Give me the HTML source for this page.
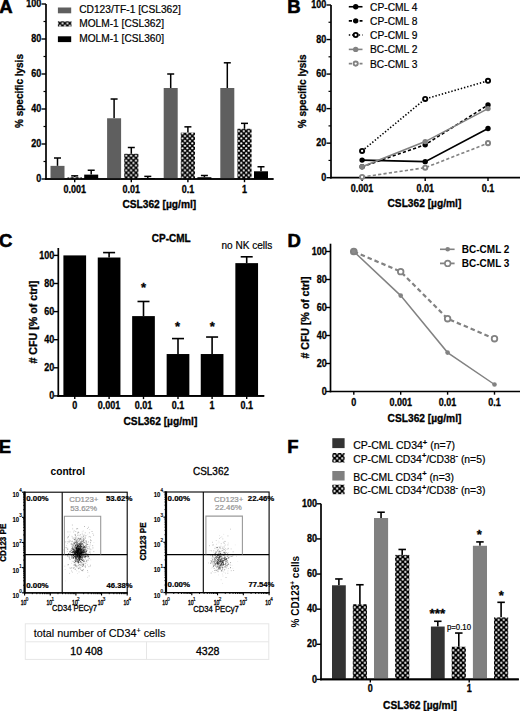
<!DOCTYPE html>
<html><head><meta charset="utf-8"><style>
html,body{margin:0;padding:0;background:#fff;}
svg{display:block;font-family:"Liberation Sans", sans-serif;}
</style></head><body>
<svg width="520" height="711" viewBox="0 0 520 711">
<rect width="520" height="711" fill="#fff"/>
<defs>
<pattern id="chk" patternUnits="userSpaceOnUse" width="4.9" height="4.9" x="0" y="0"><rect width="4.9" height="4.9" fill="#000"/><rect x="0.15" y="0.15" width="2.15" height="2.15" rx="0.9" fill="#fff"/><rect x="2.6" y="2.6" width="2.15" height="2.15" rx="0.9" fill="#fff"/></pattern>
<pattern id="chkF" patternUnits="userSpaceOnUse" width="5.05" height="5.05" x="0" y="0"><rect width="5.05" height="5.05" fill="#000"/><rect x="0.3" y="0.3" width="1.95" height="1.95" rx="0.6" fill="#fff"/><rect x="2.83" y="2.83" width="1.95" height="1.95" rx="0.6" fill="#fff"/></pattern>
</defs>
<text x="-0.70" y="12.80" font-size="18.5" font-weight="bold" stroke="#000" stroke-width="0.6">A</text>
<line x1="46.00" y1="4.00" x2="46.00" y2="179.80" stroke="#000" stroke-width="1.7"/>
<line x1="41.50" y1="179.00" x2="46.00" y2="179.00" stroke="#000" stroke-width="1.4"/>
<text transform="translate(41.30,182.20) scale(0.9,1)" font-size="10.0" font-weight="bold" text-anchor="end" stroke="#000" stroke-width="0.3">0</text>
<line x1="43.50" y1="161.50" x2="46.00" y2="161.50" stroke="#000" stroke-width="1.2"/>
<line x1="41.50" y1="144.00" x2="46.00" y2="144.00" stroke="#000" stroke-width="1.4"/>
<text transform="translate(41.30,147.20) scale(0.9,1)" font-size="10.0" font-weight="bold" text-anchor="end" stroke="#000" stroke-width="0.3">20</text>
<line x1="43.50" y1="126.50" x2="46.00" y2="126.50" stroke="#000" stroke-width="1.2"/>
<line x1="41.50" y1="109.00" x2="46.00" y2="109.00" stroke="#000" stroke-width="1.4"/>
<text transform="translate(41.30,112.20) scale(0.9,1)" font-size="10.0" font-weight="bold" text-anchor="end" stroke="#000" stroke-width="0.3">40</text>
<line x1="43.50" y1="91.50" x2="46.00" y2="91.50" stroke="#000" stroke-width="1.2"/>
<line x1="41.50" y1="74.00" x2="46.00" y2="74.00" stroke="#000" stroke-width="1.4"/>
<text transform="translate(41.30,77.20) scale(0.9,1)" font-size="10.0" font-weight="bold" text-anchor="end" stroke="#000" stroke-width="0.3">60</text>
<line x1="43.50" y1="56.50" x2="46.00" y2="56.50" stroke="#000" stroke-width="1.2"/>
<line x1="41.50" y1="39.00" x2="46.00" y2="39.00" stroke="#000" stroke-width="1.4"/>
<text transform="translate(41.30,42.20) scale(0.9,1)" font-size="10.0" font-weight="bold" text-anchor="end" stroke="#000" stroke-width="0.3">80</text>
<line x1="43.50" y1="21.50" x2="46.00" y2="21.50" stroke="#000" stroke-width="1.2"/>
<line x1="41.50" y1="4.00" x2="46.00" y2="4.00" stroke="#000" stroke-width="1.4"/>
<text transform="translate(41.30,7.20) scale(0.9,1)" font-size="10.0" font-weight="bold" text-anchor="end" stroke="#000" stroke-width="0.3">100</text>
<line x1="45.20" y1="179.00" x2="273.50" y2="179.00" stroke="#000" stroke-width="1.7"/>
<line x1="74.70" y1="179.00" x2="74.70" y2="182.20" stroke="#000" stroke-width="1.4"/>
<text transform="translate(74.70,192.80) scale(0.9,1)" font-size="10.0" font-weight="bold" text-anchor="middle" stroke="#000" stroke-width="0.3">0.001</text>
<line x1="131.30" y1="179.00" x2="131.30" y2="182.20" stroke="#000" stroke-width="1.4"/>
<text transform="translate(131.30,192.80) scale(0.9,1)" font-size="10.0" font-weight="bold" text-anchor="middle" stroke="#000" stroke-width="0.3">0.01</text>
<line x1="187.90" y1="179.00" x2="187.90" y2="182.20" stroke="#000" stroke-width="1.4"/>
<text transform="translate(187.90,192.80) scale(0.9,1)" font-size="10.0" font-weight="bold" text-anchor="middle" stroke="#000" stroke-width="0.3">0.1</text>
<line x1="244.50" y1="179.00" x2="244.50" y2="182.20" stroke="#000" stroke-width="1.4"/>
<text transform="translate(244.50,192.80) scale(0.9,1)" font-size="10.0" font-weight="bold" text-anchor="middle" stroke="#000" stroke-width="0.3">1</text>
<text transform="translate(19.70,91.00) rotate(-90)" x="0" y="3.50" font-size="10" font-weight="bold" stroke="#000" stroke-width="0.3" text-anchor="middle">% specific lysis</text>
<text x="159.30" y="207.90" font-size="10.2" font-weight="bold" text-anchor="middle" stroke="#000" stroke-width="0.3">CSL362 [µg/ml]</text>
<line x1="57.50" y1="165.88" x2="57.50" y2="158.00" stroke="#000" stroke-width="1.5"/>
<line x1="54.00" y1="158.00" x2="61.00" y2="158.00" stroke="#000" stroke-width="1.5"/>
<rect x="50.50" y="165.88" width="14.00" height="13.12" fill="#5f5f5f"/>
<line x1="74.70" y1="177.25" x2="74.70" y2="175.85" stroke="#000" stroke-width="1.5"/>
<line x1="71.20" y1="175.85" x2="78.20" y2="175.85" stroke="#000" stroke-width="1.5"/>
<rect x="67.60" y="177.25" width="14.20" height="1.75" fill="url(#chk)"/>
<line x1="91.20" y1="174.62" x2="91.20" y2="170.25" stroke="#000" stroke-width="1.5"/>
<line x1="87.70" y1="170.25" x2="94.70" y2="170.25" stroke="#000" stroke-width="1.5"/>
<rect x="84.20" y="174.62" width="14.00" height="4.38" fill="#000"/>
<line x1="114.10" y1="118.27" x2="114.10" y2="99.02" stroke="#000" stroke-width="1.5"/>
<line x1="110.60" y1="99.02" x2="117.60" y2="99.02" stroke="#000" stroke-width="1.5"/>
<rect x="107.10" y="118.27" width="14.00" height="60.73" fill="#5f5f5f"/>
<line x1="131.30" y1="153.80" x2="131.30" y2="147.50" stroke="#000" stroke-width="1.5"/>
<line x1="127.80" y1="147.50" x2="134.80" y2="147.50" stroke="#000" stroke-width="1.5"/>
<rect x="124.20" y="153.80" width="14.20" height="25.20" fill="url(#chk)"/>
<line x1="147.80" y1="178.12" x2="147.80" y2="176.38" stroke="#000" stroke-width="1.5"/>
<line x1="144.30" y1="176.38" x2="151.30" y2="176.38" stroke="#000" stroke-width="1.5"/>
<rect x="140.80" y="178.12" width="14.00" height="0.88" fill="#000"/>
<line x1="170.70" y1="88.00" x2="170.70" y2="74.00" stroke="#000" stroke-width="1.5"/>
<line x1="167.20" y1="74.00" x2="174.20" y2="74.00" stroke="#000" stroke-width="1.5"/>
<rect x="163.70" y="88.00" width="14.00" height="91.00" fill="#5f5f5f"/>
<line x1="187.90" y1="132.62" x2="187.90" y2="126.85" stroke="#000" stroke-width="1.5"/>
<line x1="184.40" y1="126.85" x2="191.40" y2="126.85" stroke="#000" stroke-width="1.5"/>
<rect x="180.80" y="132.62" width="14.20" height="46.38" fill="url(#chk)"/>
<line x1="204.40" y1="177.25" x2="204.40" y2="175.50" stroke="#000" stroke-width="1.5"/>
<line x1="200.90" y1="175.50" x2="207.90" y2="175.50" stroke="#000" stroke-width="1.5"/>
<rect x="197.40" y="177.25" width="14.00" height="1.75" fill="#000"/>
<line x1="227.30" y1="88.00" x2="227.30" y2="62.80" stroke="#000" stroke-width="1.5"/>
<line x1="223.80" y1="62.80" x2="230.80" y2="62.80" stroke="#000" stroke-width="1.5"/>
<rect x="220.30" y="88.00" width="14.00" height="91.00" fill="#5f5f5f"/>
<line x1="244.50" y1="128.78" x2="244.50" y2="123.35" stroke="#000" stroke-width="1.5"/>
<line x1="241.00" y1="123.35" x2="248.00" y2="123.35" stroke="#000" stroke-width="1.5"/>
<rect x="237.40" y="128.78" width="14.20" height="50.22" fill="url(#chk)"/>
<line x1="261.00" y1="171.30" x2="261.00" y2="166.75" stroke="#000" stroke-width="1.5"/>
<line x1="257.50" y1="166.75" x2="264.50" y2="166.75" stroke="#000" stroke-width="1.5"/>
<rect x="254.00" y="171.30" width="14.00" height="7.70" fill="#000"/>
<line x1="45.20" y1="179.00" x2="273.50" y2="179.00" stroke="#000" stroke-width="1.7"/>
<rect x="57.90" y="7.50" width="13.30" height="5.80" fill="#5f5f5f"/>
<rect x="57.90" y="21.30" width="13.60" height="5.20" fill="url(#chk)"/>
<rect x="57.90" y="36.30" width="13.30" height="5.80" fill="#000"/>
<text x="79.20" y="13.40" font-size="10.5" stroke="#000" stroke-width="0.2" textLength="101.6" lengthAdjust="spacingAndGlyphs">CD123/TF-1 [CSL362]</text>
<text x="79.20" y="27.30" font-size="10.5" stroke="#000" stroke-width="0.2" textLength="84.8" lengthAdjust="spacingAndGlyphs">MOLM-1 [CSL362]</text>
<text x="79.20" y="42.20" font-size="10.5" stroke="#000" stroke-width="0.2" textLength="84.8" lengthAdjust="spacingAndGlyphs">MOLM-1 [CSL360]</text>
<text x="287.20" y="12.60" font-size="18.5" font-weight="bold" stroke="#000" stroke-width="0.6">B</text>
<line x1="331.00" y1="5.00" x2="331.00" y2="178.50" stroke="#000" stroke-width="1.7"/>
<line x1="326.50" y1="177.70" x2="331.00" y2="177.70" stroke="#000" stroke-width="1.4"/>
<text transform="translate(326.30,180.90) scale(0.9,1)" font-size="10.0" font-weight="bold" text-anchor="end" stroke="#000" stroke-width="0.3">0</text>
<line x1="328.50" y1="160.43" x2="331.00" y2="160.43" stroke="#000" stroke-width="1.2"/>
<line x1="326.50" y1="143.16" x2="331.00" y2="143.16" stroke="#000" stroke-width="1.4"/>
<text transform="translate(326.30,146.36) scale(0.9,1)" font-size="10.0" font-weight="bold" text-anchor="end" stroke="#000" stroke-width="0.3">20</text>
<line x1="328.50" y1="125.89" x2="331.00" y2="125.89" stroke="#000" stroke-width="1.2"/>
<line x1="326.50" y1="108.62" x2="331.00" y2="108.62" stroke="#000" stroke-width="1.4"/>
<text transform="translate(326.30,111.82) scale(0.9,1)" font-size="10.0" font-weight="bold" text-anchor="end" stroke="#000" stroke-width="0.3">40</text>
<line x1="328.50" y1="91.35" x2="331.00" y2="91.35" stroke="#000" stroke-width="1.2"/>
<line x1="326.50" y1="74.08" x2="331.00" y2="74.08" stroke="#000" stroke-width="1.4"/>
<text transform="translate(326.30,77.28) scale(0.9,1)" font-size="10.0" font-weight="bold" text-anchor="end" stroke="#000" stroke-width="0.3">60</text>
<line x1="328.50" y1="56.81" x2="331.00" y2="56.81" stroke="#000" stroke-width="1.2"/>
<line x1="326.50" y1="39.54" x2="331.00" y2="39.54" stroke="#000" stroke-width="1.4"/>
<text transform="translate(326.30,42.74) scale(0.9,1)" font-size="10.0" font-weight="bold" text-anchor="end" stroke="#000" stroke-width="0.3">80</text>
<line x1="328.50" y1="22.27" x2="331.00" y2="22.27" stroke="#000" stroke-width="1.2"/>
<line x1="326.50" y1="5.00" x2="331.00" y2="5.00" stroke="#000" stroke-width="1.4"/>
<text transform="translate(326.30,8.20) scale(0.9,1)" font-size="10.0" font-weight="bold" text-anchor="end" stroke="#000" stroke-width="0.3">100</text>
<line x1="330.20" y1="177.70" x2="520.00" y2="177.70" stroke="#000" stroke-width="1.7"/>
<line x1="362.10" y1="177.70" x2="362.10" y2="180.90" stroke="#000" stroke-width="1.4"/>
<text transform="translate(362.10,191.60) scale(0.9,1)" font-size="10.0" font-weight="bold" text-anchor="middle" stroke="#000" stroke-width="0.3">0.001</text>
<line x1="425.20" y1="177.70" x2="425.20" y2="180.90" stroke="#000" stroke-width="1.4"/>
<text transform="translate(425.20,191.60) scale(0.9,1)" font-size="10.0" font-weight="bold" text-anchor="middle" stroke="#000" stroke-width="0.3">0.01</text>
<line x1="488.00" y1="177.70" x2="488.00" y2="180.90" stroke="#000" stroke-width="1.4"/>
<text transform="translate(488.00,191.60) scale(0.9,1)" font-size="10.0" font-weight="bold" text-anchor="middle" stroke="#000" stroke-width="0.3">0.1</text>
<text transform="translate(302.00,91.30) rotate(-90)" x="0" y="3.50" font-size="10" font-weight="bold" stroke="#000" stroke-width="0.3" text-anchor="middle">% specific lysis</text>
<text x="424.40" y="207.20" font-size="10.2" font-weight="bold" text-anchor="middle" stroke="#000" stroke-width="0.3">CSL362 [µg/ml]</text>
<polyline points="362.10,160.08 425.20,161.64 488.00,128.48" fill="none" stroke="#000" stroke-width="1.6"/>
<circle cx="362.10" cy="160.08" r="2.7" fill="#000"/>
<circle cx="425.20" cy="161.64" r="2.7" fill="#000"/>
<circle cx="488.00" cy="128.48" r="2.7" fill="#000"/>
<polyline points="362.10,166.82 425.20,144.71 488.00,104.99" fill="none" stroke="#000" stroke-width="1.6" stroke-dasharray="3.2,2.2"/>
<circle cx="362.10" cy="166.82" r="2.7" fill="#000"/>
<circle cx="425.20" cy="144.71" r="2.7" fill="#000"/>
<circle cx="488.00" cy="104.99" r="2.7" fill="#000"/>
<polyline points="362.10,150.93 425.20,98.95 488.00,80.82" fill="none" stroke="#000" stroke-width="1.6" stroke-dasharray="1.4,1.9"/>
<circle cx="362.10" cy="150.93" r="2.1" fill="#fff" stroke="#000" stroke-width="1.9"/>
<circle cx="425.20" cy="98.95" r="2.1" fill="#fff" stroke="#000" stroke-width="1.9"/>
<circle cx="488.00" cy="80.82" r="2.1" fill="#fff" stroke="#000" stroke-width="1.9"/>
<polyline points="362.10,166.82 425.20,141.61 488.00,108.62" fill="none" stroke="#828282" stroke-width="1.6"/>
<circle cx="362.10" cy="166.82" r="2.7" fill="#828282"/>
<circle cx="425.20" cy="141.61" r="2.7" fill="#828282"/>
<circle cx="488.00" cy="108.62" r="2.7" fill="#828282"/>
<polyline points="362.10,177.01 425.20,167.68 488.00,143.16" fill="none" stroke="#828282" stroke-width="1.6" stroke-dasharray="3.2,2.2"/>
<circle cx="362.10" cy="177.01" r="2.1" fill="#fff" stroke="#828282" stroke-width="1.9"/>
<circle cx="425.20" cy="167.68" r="2.1" fill="#fff" stroke="#828282" stroke-width="1.9"/>
<circle cx="488.00" cy="143.16" r="2.1" fill="#fff" stroke="#828282" stroke-width="1.9"/>
<line x1="348.80" y1="6.75" x2="362.50" y2="6.75" stroke="#000" stroke-width="1.6"/>
<circle cx="355.70" cy="6.75" r="2.7" fill="#000"/>
<text x="370.00" y="10.65" font-size="10.5" stroke="#000" stroke-width="0.2" textLength="47.5" lengthAdjust="spacingAndGlyphs">CP-CML 4</text>
<line x1="348.80" y1="20.85" x2="362.50" y2="20.85" stroke="#000" stroke-width="1.6" stroke-dasharray="3.2,2.2"/>
<circle cx="355.70" cy="20.85" r="2.7" fill="#000"/>
<text x="370.00" y="24.75" font-size="10.5" stroke="#000" stroke-width="0.2" textLength="47.5" lengthAdjust="spacingAndGlyphs">CP-CML 8</text>
<line x1="348.80" y1="35.00" x2="362.50" y2="35.00" stroke="#000" stroke-width="1.6" stroke-dasharray="1.4,1.9"/>
<circle cx="355.70" cy="35.00" r="2.1" fill="#fff" stroke="#000" stroke-width="1.9"/>
<text x="370.00" y="38.90" font-size="10.5" stroke="#000" stroke-width="0.2" textLength="47.5" lengthAdjust="spacingAndGlyphs">CP-CML 9</text>
<line x1="348.80" y1="49.40" x2="362.50" y2="49.40" stroke="#828282" stroke-width="1.6"/>
<circle cx="355.70" cy="49.40" r="2.7" fill="#828282"/>
<text x="370.00" y="53.30" font-size="10.5" stroke="#000" stroke-width="0.2" textLength="47.5" lengthAdjust="spacingAndGlyphs">BC-CML 2</text>
<line x1="348.80" y1="63.60" x2="362.50" y2="63.60" stroke="#828282" stroke-width="1.6" stroke-dasharray="3.2,2.2"/>
<circle cx="355.70" cy="63.60" r="2.1" fill="#fff" stroke="#828282" stroke-width="1.9"/>
<text x="370.00" y="67.50" font-size="10.5" stroke="#000" stroke-width="0.2" textLength="47.5" lengthAdjust="spacingAndGlyphs">BC-CML 3</text>
<text x="-0.90" y="246.90" font-size="18.5" font-weight="bold" stroke="#000" stroke-width="0.6">C</text>
<line x1="58.30" y1="248.00" x2="58.30" y2="396.70" stroke="#000" stroke-width="1.7"/>
<line x1="53.80" y1="395.90" x2="58.30" y2="395.90" stroke="#000" stroke-width="1.4"/>
<text transform="translate(54.30,399.10) scale(0.9,1)" font-size="10.0" font-weight="bold" text-anchor="end" stroke="#000" stroke-width="0.3">0</text>
<line x1="53.80" y1="367.80" x2="58.30" y2="367.80" stroke="#000" stroke-width="1.4"/>
<text transform="translate(54.30,371.00) scale(0.9,1)" font-size="10.0" font-weight="bold" text-anchor="end" stroke="#000" stroke-width="0.3">20</text>
<line x1="53.80" y1="339.70" x2="58.30" y2="339.70" stroke="#000" stroke-width="1.4"/>
<text transform="translate(54.30,342.90) scale(0.9,1)" font-size="10.0" font-weight="bold" text-anchor="end" stroke="#000" stroke-width="0.3">40</text>
<line x1="53.80" y1="311.60" x2="58.30" y2="311.60" stroke="#000" stroke-width="1.4"/>
<text transform="translate(54.30,314.80) scale(0.9,1)" font-size="10.0" font-weight="bold" text-anchor="end" stroke="#000" stroke-width="0.3">60</text>
<line x1="53.80" y1="283.50" x2="58.30" y2="283.50" stroke="#000" stroke-width="1.4"/>
<text transform="translate(54.30,286.70) scale(0.9,1)" font-size="10.0" font-weight="bold" text-anchor="end" stroke="#000" stroke-width="0.3">80</text>
<line x1="53.80" y1="255.40" x2="58.30" y2="255.40" stroke="#000" stroke-width="1.4"/>
<text transform="translate(54.30,258.60) scale(0.9,1)" font-size="10.0" font-weight="bold" text-anchor="end" stroke="#000" stroke-width="0.3">100</text>
<line x1="57.50" y1="395.90" x2="264.20" y2="395.90" stroke="#000" stroke-width="1.7"/>
<line x1="74.75" y1="395.90" x2="74.75" y2="399.10" stroke="#000" stroke-width="1.4"/>
<text transform="translate(74.75,408.60) scale(0.9,1)" font-size="10.0" font-weight="bold" text-anchor="middle" stroke="#000" stroke-width="0.3">0</text>
<line x1="109.10" y1="395.90" x2="109.10" y2="399.10" stroke="#000" stroke-width="1.4"/>
<text transform="translate(109.10,408.60) scale(0.9,1)" font-size="10.0" font-weight="bold" text-anchor="middle" stroke="#000" stroke-width="0.3">0.001</text>
<line x1="143.50" y1="395.90" x2="143.50" y2="399.10" stroke="#000" stroke-width="1.4"/>
<text transform="translate(143.50,408.60) scale(0.9,1)" font-size="10.0" font-weight="bold" text-anchor="middle" stroke="#000" stroke-width="0.3">0.01</text>
<line x1="178.00" y1="395.90" x2="178.00" y2="399.10" stroke="#000" stroke-width="1.4"/>
<text transform="translate(178.00,408.60) scale(0.9,1)" font-size="10.0" font-weight="bold" text-anchor="middle" stroke="#000" stroke-width="0.3">0.1</text>
<line x1="212.10" y1="395.90" x2="212.10" y2="399.10" stroke="#000" stroke-width="1.4"/>
<text transform="translate(212.10,408.60) scale(0.9,1)" font-size="10.0" font-weight="bold" text-anchor="middle" stroke="#000" stroke-width="0.3">1</text>
<line x1="246.70" y1="395.90" x2="246.70" y2="399.10" stroke="#000" stroke-width="1.4"/>
<text transform="translate(246.70,408.60) scale(0.9,1)" font-size="10.0" font-weight="bold" text-anchor="middle" stroke="#000" stroke-width="0.3">0.1</text>
<text transform="translate(33.30,322.10) rotate(-90)" x="0" y="3.67" font-size="10.5" font-weight="bold" stroke="#000" stroke-width="0.3" text-anchor="middle" textLength="83" lengthAdjust="spacingAndGlyphs"># CFU [% of ctrl]</text>
<text x="160.40" y="424.80" font-size="10.2" font-weight="bold" text-anchor="middle" stroke="#000" stroke-width="0.3">CSL362 [µg/ml]</text>
<rect x="63.40" y="255.40" width="22.70" height="140.50" fill="#000"/>
<line x1="109.10" y1="257.51" x2="109.10" y2="252.59" stroke="#000" stroke-width="1.6"/>
<line x1="103.10" y1="252.59" x2="115.10" y2="252.59" stroke="#000" stroke-width="1.6"/>
<rect x="97.75" y="257.51" width="22.70" height="138.39" fill="#000"/>
<line x1="143.50" y1="316.10" x2="143.50" y2="301.48" stroke="#000" stroke-width="1.6"/>
<line x1="137.50" y1="301.48" x2="149.50" y2="301.48" stroke="#000" stroke-width="1.6"/>
<rect x="132.15" y="316.10" width="22.70" height="79.80" fill="#000"/>
<line x1="178.00" y1="354.03" x2="178.00" y2="338.58" stroke="#000" stroke-width="1.6"/>
<line x1="172.00" y1="338.58" x2="184.00" y2="338.58" stroke="#000" stroke-width="1.6"/>
<rect x="166.65" y="354.03" width="22.70" height="41.87" fill="#000"/>
<line x1="212.10" y1="354.03" x2="212.10" y2="337.03" stroke="#000" stroke-width="1.6"/>
<line x1="206.10" y1="337.03" x2="218.10" y2="337.03" stroke="#000" stroke-width="1.6"/>
<rect x="200.75" y="354.03" width="22.70" height="41.87" fill="#000"/>
<line x1="246.70" y1="263.13" x2="246.70" y2="256.80" stroke="#000" stroke-width="1.6"/>
<line x1="240.70" y1="256.80" x2="252.70" y2="256.80" stroke="#000" stroke-width="1.6"/>
<rect x="235.35" y="263.13" width="22.70" height="132.77" fill="#000"/>
<line x1="57.50" y1="395.90" x2="264.20" y2="395.90" stroke="#000" stroke-width="1.7"/>
<text x="143.60" y="291.63" font-size="13" font-weight="bold" text-anchor="middle" stroke="#000" stroke-width="0.3">*</text>
<text x="177.60" y="331.03" font-size="13" font-weight="bold" text-anchor="middle" stroke="#000" stroke-width="0.3">*</text>
<text x="212.30" y="331.03" font-size="13" font-weight="bold" text-anchor="middle" stroke="#000" stroke-width="0.3">*</text>
<text x="171.30" y="241.70" font-size="10" font-weight="bold" text-anchor="middle" stroke="#000" stroke-width="0.3">CP-CML</text>
<text x="221.50" y="248.50" font-size="10" stroke="#000" stroke-width="0.2" textLength="50.8" lengthAdjust="spacingAndGlyphs">no NK cells</text>
<text x="287.60" y="246.80" font-size="18.5" font-weight="bold" stroke="#000" stroke-width="0.6">D</text>
<line x1="330.50" y1="243.70" x2="330.50" y2="392.30" stroke="#000" stroke-width="1.7"/>
<line x1="326.00" y1="391.50" x2="330.50" y2="391.50" stroke="#000" stroke-width="1.4"/>
<text transform="translate(326.80,394.70) scale(0.9,1)" font-size="10.0" font-weight="bold" text-anchor="end" stroke="#000" stroke-width="0.3">0</text>
<line x1="326.00" y1="363.50" x2="330.50" y2="363.50" stroke="#000" stroke-width="1.4"/>
<text transform="translate(326.80,366.70) scale(0.9,1)" font-size="10.0" font-weight="bold" text-anchor="end" stroke="#000" stroke-width="0.3">20</text>
<line x1="326.00" y1="335.50" x2="330.50" y2="335.50" stroke="#000" stroke-width="1.4"/>
<text transform="translate(326.80,338.70) scale(0.9,1)" font-size="10.0" font-weight="bold" text-anchor="end" stroke="#000" stroke-width="0.3">40</text>
<line x1="326.00" y1="307.50" x2="330.50" y2="307.50" stroke="#000" stroke-width="1.4"/>
<text transform="translate(326.80,310.70) scale(0.9,1)" font-size="10.0" font-weight="bold" text-anchor="end" stroke="#000" stroke-width="0.3">60</text>
<line x1="326.00" y1="279.50" x2="330.50" y2="279.50" stroke="#000" stroke-width="1.4"/>
<text transform="translate(326.80,282.70) scale(0.9,1)" font-size="10.0" font-weight="bold" text-anchor="end" stroke="#000" stroke-width="0.3">80</text>
<line x1="326.00" y1="251.50" x2="330.50" y2="251.50" stroke="#000" stroke-width="1.4"/>
<text transform="translate(326.80,254.70) scale(0.9,1)" font-size="10.0" font-weight="bold" text-anchor="end" stroke="#000" stroke-width="0.3">100</text>
<line x1="329.70" y1="391.50" x2="520.00" y2="391.50" stroke="#000" stroke-width="1.7"/>
<line x1="353.80" y1="391.50" x2="353.80" y2="394.70" stroke="#000" stroke-width="1.4"/>
<text transform="translate(353.80,405.60) scale(0.9,1)" font-size="10.0" font-weight="bold" text-anchor="middle" stroke="#000" stroke-width="0.3">0</text>
<line x1="400.70" y1="391.50" x2="400.70" y2="394.70" stroke="#000" stroke-width="1.4"/>
<text transform="translate(400.70,405.60) scale(0.9,1)" font-size="10.0" font-weight="bold" text-anchor="middle" stroke="#000" stroke-width="0.3">0.001</text>
<line x1="447.60" y1="391.50" x2="447.60" y2="394.70" stroke="#000" stroke-width="1.4"/>
<text transform="translate(447.60,405.60) scale(0.9,1)" font-size="10.0" font-weight="bold" text-anchor="middle" stroke="#000" stroke-width="0.3">0.01</text>
<line x1="494.50" y1="391.50" x2="494.50" y2="394.70" stroke="#000" stroke-width="1.4"/>
<text transform="translate(494.50,405.60) scale(0.9,1)" font-size="10.0" font-weight="bold" text-anchor="middle" stroke="#000" stroke-width="0.3">0.1</text>
<text transform="translate(305.20,317.50) rotate(-90)" x="0" y="3.67" font-size="10.5" font-weight="bold" stroke="#000" stroke-width="0.3" text-anchor="middle" textLength="82" lengthAdjust="spacingAndGlyphs"># CFU [% of ctrl]</text>
<text x="424.50" y="421.70" font-size="10.2" font-weight="bold" text-anchor="middle" stroke="#000" stroke-width="0.3">CSL362 [µg/ml]</text>
<polyline points="353.80,251.50 400.70,271.66 447.60,318.70 494.50,338.72" fill="none" stroke="#828282" stroke-width="2.2" stroke-dasharray="4.5,3"/>
<polyline points="353.80,251.50 400.70,295.60 447.60,352.58 494.50,384.50" fill="none" stroke="#828282" stroke-width="1.5"/>
<circle cx="400.70" cy="271.66" r="2.8" fill="#fff" stroke="#828282" stroke-width="1.8"/>
<circle cx="447.60" cy="318.70" r="2.8" fill="#fff" stroke="#828282" stroke-width="1.8"/>
<circle cx="494.50" cy="338.72" r="2.8" fill="#fff" stroke="#828282" stroke-width="1.8"/>
<circle cx="400.70" cy="295.60" r="2.3" fill="#828282"/>
<circle cx="447.60" cy="352.58" r="2.3" fill="#828282"/>
<circle cx="494.50" cy="384.50" r="2.3" fill="#828282"/>
<circle cx="353.80" cy="251.50" r="2.9" fill="#8c8c8c" stroke="#828282" stroke-width="1.9"/>
<line x1="440.00" y1="249.30" x2="454.60" y2="249.30" stroke="#828282" stroke-width="1.6"/>
<circle cx="447.7" cy="249.3" r="2.3" fill="#828282"/>
<line x1="440.00" y1="263.40" x2="454.60" y2="263.40" stroke="#828282" stroke-width="1.8"/>
<circle cx="447.7" cy="263.4" r="2.8" fill="#fff" stroke="#828282" stroke-width="1.6"/>
<text x="461.80" y="252.60" font-size="10" font-weight="bold" textLength="47.6" lengthAdjust="spacingAndGlyphs">BC-CML 2</text>
<text x="461.80" y="267.00" font-size="10" font-weight="bold" textLength="47.6" lengthAdjust="spacingAndGlyphs">BC-CML 3</text>
<text x="-1.30" y="452.90" font-size="18.5" font-weight="bold" stroke="#000" stroke-width="0.6">E</text>
<text x="67.75" y="475.30" font-size="10.5" font-weight="bold" text-anchor="middle" textLength="34.5" lengthAdjust="spacingAndGlyphs">control</text>
<text x="211.00" y="474.80" font-size="10.3" text-anchor="middle" stroke="#000" stroke-width="0.3" textLength="36" lengthAdjust="spacingAndGlyphs">CSL362</text>
<rect x="74.6" y="553.5" width="0.85" height="0.85" fill="#000" opacity="0.67"/>
<rect x="74.8" y="553.0" width="0.85" height="0.85" fill="#000" opacity="0.53"/>
<rect x="80.2" y="556.9" width="0.85" height="0.85" fill="#000" opacity="0.55"/>
<rect x="79.0" y="549.8" width="0.85" height="0.85" fill="#000" opacity="0.42"/>
<rect x="83.7" y="556.3" width="0.85" height="0.85" fill="#000" opacity="0.58"/>
<rect x="87.6" y="555.2" width="0.85" height="0.85" fill="#000" opacity="0.69"/>
<rect x="76.0" y="546.6" width="0.85" height="0.85" fill="#000" opacity="0.36"/>
<rect x="82.6" y="552.3" width="0.85" height="0.85" fill="#000" opacity="0.32"/>
<rect x="79.5" y="555.0" width="0.85" height="0.85" fill="#000" opacity="0.31"/>
<rect x="75.1" y="552.9" width="0.85" height="0.85" fill="#000" opacity="0.64"/>
<rect x="73.9" y="551.0" width="0.85" height="0.85" fill="#000" opacity="0.50"/>
<rect x="76.7" y="547.5" width="0.85" height="0.85" fill="#000" opacity="0.41"/>
<rect x="89.5" y="551.6" width="0.85" height="0.85" fill="#000" opacity="0.64"/>
<rect x="77.8" y="547.9" width="0.85" height="0.85" fill="#000" opacity="0.39"/>
<rect x="78.3" y="553.5" width="0.85" height="0.85" fill="#000" opacity="0.61"/>
<rect x="73.4" y="557.0" width="0.85" height="0.85" fill="#000" opacity="0.45"/>
<rect x="84.8" y="549.5" width="0.85" height="0.85" fill="#000" opacity="0.30"/>
<rect x="80.4" y="561.6" width="0.85" height="0.85" fill="#000" opacity="0.49"/>
<rect x="81.9" y="551.2" width="0.85" height="0.85" fill="#000" opacity="0.33"/>
<rect x="74.7" y="546.0" width="0.85" height="0.85" fill="#000" opacity="0.41"/>
<rect x="81.1" y="554.0" width="0.85" height="0.85" fill="#000" opacity="0.69"/>
<rect x="78.7" y="549.5" width="0.85" height="0.85" fill="#000" opacity="0.40"/>
<rect x="79.5" y="552.8" width="0.85" height="0.85" fill="#000" opacity="0.62"/>
<rect x="80.5" y="557.1" width="0.85" height="0.85" fill="#000" opacity="0.48"/>
<rect x="80.5" y="558.8" width="0.85" height="0.85" fill="#000" opacity="0.35"/>
<rect x="77.6" y="550.0" width="0.85" height="0.85" fill="#000" opacity="0.47"/>
<rect x="79.2" y="555.3" width="0.85" height="0.85" fill="#000" opacity="0.69"/>
<rect x="79.5" y="548.1" width="0.85" height="0.85" fill="#000" opacity="0.65"/>
<rect x="79.4" y="556.3" width="0.85" height="0.85" fill="#000" opacity="0.64"/>
<rect x="77.6" y="550.2" width="0.85" height="0.85" fill="#000" opacity="0.70"/>
<rect x="79.2" y="555.3" width="0.85" height="0.85" fill="#000" opacity="0.61"/>
<rect x="77.3" y="555.2" width="0.85" height="0.85" fill="#000" opacity="0.33"/>
<rect x="82.3" y="555.1" width="0.85" height="0.85" fill="#000" opacity="0.40"/>
<rect x="76.0" y="549.2" width="0.85" height="0.85" fill="#000" opacity="0.48"/>
<rect x="82.3" y="550.5" width="0.85" height="0.85" fill="#000" opacity="0.53"/>
<rect x="80.0" y="549.6" width="0.85" height="0.85" fill="#000" opacity="0.36"/>
<rect x="83.7" y="547.2" width="0.85" height="0.85" fill="#000" opacity="0.40"/>
<rect x="80.6" y="558.8" width="0.85" height="0.85" fill="#000" opacity="0.68"/>
<rect x="81.3" y="562.4" width="0.85" height="0.85" fill="#000" opacity="0.65"/>
<rect x="75.9" y="548.9" width="0.85" height="0.85" fill="#000" opacity="0.34"/>
<rect x="86.8" y="554.6" width="0.85" height="0.85" fill="#000" opacity="0.40"/>
<rect x="77.9" y="548.4" width="0.85" height="0.85" fill="#000" opacity="0.63"/>
<rect x="76.3" y="549.6" width="0.85" height="0.85" fill="#000" opacity="0.37"/>
<rect x="78.4" y="550.1" width="0.85" height="0.85" fill="#000" opacity="0.39"/>
<rect x="72.6" y="548.5" width="0.85" height="0.85" fill="#000" opacity="0.55"/>
<rect x="77.2" y="561.9" width="0.85" height="0.85" fill="#000" opacity="0.38"/>
<rect x="81.2" y="552.2" width="0.85" height="0.85" fill="#000" opacity="0.48"/>
<rect x="80.5" y="552.9" width="0.85" height="0.85" fill="#000" opacity="0.45"/>
<rect x="77.0" y="550.7" width="0.85" height="0.85" fill="#000" opacity="0.44"/>
<rect x="85.8" y="543.6" width="0.85" height="0.85" fill="#000" opacity="0.56"/>
<rect x="77.0" y="546.1" width="0.85" height="0.85" fill="#000" opacity="0.36"/>
<rect x="79.2" y="552.0" width="0.85" height="0.85" fill="#000" opacity="0.66"/>
<rect x="76.0" y="540.6" width="0.85" height="0.85" fill="#000" opacity="0.31"/>
<rect x="76.1" y="547.8" width="0.85" height="0.85" fill="#000" opacity="0.59"/>
<rect x="73.3" y="567.8" width="0.85" height="0.85" fill="#000" opacity="0.33"/>
<rect x="73.4" y="549.7" width="0.85" height="0.85" fill="#000" opacity="0.66"/>
<rect x="78.2" y="544.6" width="0.85" height="0.85" fill="#000" opacity="0.62"/>
<rect x="81.2" y="549.6" width="0.85" height="0.85" fill="#000" opacity="0.57"/>
<rect x="84.0" y="546.4" width="0.85" height="0.85" fill="#000" opacity="0.47"/>
<rect x="80.3" y="542.9" width="0.85" height="0.85" fill="#000" opacity="0.53"/>
<rect x="76.3" y="548.6" width="0.85" height="0.85" fill="#000" opacity="0.53"/>
<rect x="77.6" y="550.6" width="0.85" height="0.85" fill="#000" opacity="0.56"/>
<rect x="85.4" y="551.4" width="0.85" height="0.85" fill="#000" opacity="0.59"/>
<rect x="74.5" y="556.6" width="0.85" height="0.85" fill="#000" opacity="0.53"/>
<rect x="72.7" y="555.0" width="0.85" height="0.85" fill="#000" opacity="0.33"/>
<rect x="78.6" y="550.7" width="0.85" height="0.85" fill="#000" opacity="0.54"/>
<rect x="76.2" y="552.2" width="0.85" height="0.85" fill="#000" opacity="0.58"/>
<rect x="74.0" y="551.9" width="0.85" height="0.85" fill="#000" opacity="0.67"/>
<rect x="78.6" y="552.5" width="0.85" height="0.85" fill="#000" opacity="0.42"/>
<rect x="77.6" y="549.0" width="0.85" height="0.85" fill="#000" opacity="0.37"/>
<rect x="82.6" y="548.0" width="0.85" height="0.85" fill="#000" opacity="0.48"/>
<rect x="80.9" y="549.2" width="0.85" height="0.85" fill="#000" opacity="0.57"/>
<rect x="79.7" y="556.4" width="0.85" height="0.85" fill="#000" opacity="0.62"/>
<rect x="84.4" y="546.9" width="0.85" height="0.85" fill="#000" opacity="0.45"/>
<rect x="76.1" y="549.8" width="0.85" height="0.85" fill="#000" opacity="0.35"/>
<rect x="72.3" y="552.0" width="0.85" height="0.85" fill="#000" opacity="0.64"/>
<rect x="76.7" y="540.9" width="0.85" height="0.85" fill="#000" opacity="0.41"/>
<rect x="80.4" y="556.2" width="0.85" height="0.85" fill="#000" opacity="0.41"/>
<rect x="79.4" y="556.4" width="0.85" height="0.85" fill="#000" opacity="0.55"/>
<rect x="75.7" y="552.0" width="0.85" height="0.85" fill="#000" opacity="0.64"/>
<rect x="82.2" y="551.2" width="0.85" height="0.85" fill="#000" opacity="0.33"/>
<rect x="85.2" y="553.6" width="0.85" height="0.85" fill="#000" opacity="0.32"/>
<rect x="77.5" y="546.0" width="0.85" height="0.85" fill="#000" opacity="0.42"/>
<rect x="78.8" y="550.9" width="0.85" height="0.85" fill="#000" opacity="0.35"/>
<rect x="77.9" y="552.1" width="0.85" height="0.85" fill="#000" opacity="0.63"/>
<rect x="78.7" y="554.3" width="0.85" height="0.85" fill="#000" opacity="0.32"/>
<rect x="76.1" y="548.2" width="0.85" height="0.85" fill="#000" opacity="0.55"/>
<rect x="75.2" y="544.9" width="0.85" height="0.85" fill="#000" opacity="0.68"/>
<rect x="77.7" y="549.0" width="0.85" height="0.85" fill="#000" opacity="0.49"/>
<rect x="78.8" y="552.4" width="0.85" height="0.85" fill="#000" opacity="0.49"/>
<rect x="78.1" y="549.0" width="0.85" height="0.85" fill="#000" opacity="0.41"/>
<rect x="75.7" y="557.7" width="0.85" height="0.85" fill="#000" opacity="0.51"/>
<rect x="74.4" y="546.7" width="0.85" height="0.85" fill="#000" opacity="0.46"/>
<rect x="80.5" y="542.1" width="0.85" height="0.85" fill="#000" opacity="0.33"/>
<rect x="83.4" y="548.8" width="0.85" height="0.85" fill="#000" opacity="0.35"/>
<rect x="74.2" y="553.7" width="0.85" height="0.85" fill="#000" opacity="0.66"/>
<rect x="75.5" y="556.0" width="0.85" height="0.85" fill="#000" opacity="0.65"/>
<rect x="80.9" y="541.2" width="0.85" height="0.85" fill="#000" opacity="0.49"/>
<rect x="77.3" y="549.3" width="0.85" height="0.85" fill="#000" opacity="0.59"/>
<rect x="80.6" y="545.8" width="0.85" height="0.85" fill="#000" opacity="0.59"/>
<rect x="80.2" y="561.4" width="0.85" height="0.85" fill="#000" opacity="0.69"/>
<rect x="82.7" y="551.0" width="0.85" height="0.85" fill="#000" opacity="0.62"/>
<rect x="75.5" y="560.9" width="0.85" height="0.85" fill="#000" opacity="0.64"/>
<rect x="77.8" y="553.4" width="0.85" height="0.85" fill="#000" opacity="0.48"/>
<rect x="73.2" y="549.4" width="0.85" height="0.85" fill="#000" opacity="0.49"/>
<rect x="84.5" y="553.3" width="0.85" height="0.85" fill="#000" opacity="0.33"/>
<rect x="79.2" y="549.1" width="0.85" height="0.85" fill="#000" opacity="0.43"/>
<rect x="79.0" y="549.3" width="0.85" height="0.85" fill="#000" opacity="0.36"/>
<rect x="73.3" y="551.0" width="0.85" height="0.85" fill="#000" opacity="0.64"/>
<rect x="75.6" y="541.5" width="0.85" height="0.85" fill="#000" opacity="0.50"/>
<rect x="79.9" y="551.2" width="0.85" height="0.85" fill="#000" opacity="0.39"/>
<rect x="75.9" y="551.2" width="0.85" height="0.85" fill="#000" opacity="0.59"/>
<rect x="76.0" y="547.5" width="0.85" height="0.85" fill="#000" opacity="0.64"/>
<rect x="75.9" y="550.3" width="0.85" height="0.85" fill="#000" opacity="0.45"/>
<rect x="82.6" y="543.6" width="0.85" height="0.85" fill="#000" opacity="0.38"/>
<rect x="83.7" y="542.1" width="0.85" height="0.85" fill="#000" opacity="0.51"/>
<rect x="76.6" y="550.4" width="0.85" height="0.85" fill="#000" opacity="0.51"/>
<rect x="74.1" y="551.7" width="0.85" height="0.85" fill="#000" opacity="0.31"/>
<rect x="82.5" y="550.7" width="0.85" height="0.85" fill="#000" opacity="0.46"/>
<rect x="79.9" y="546.2" width="0.85" height="0.85" fill="#000" opacity="0.50"/>
<rect x="78.2" y="550.2" width="0.85" height="0.85" fill="#000" opacity="0.52"/>
<rect x="71.5" y="557.7" width="0.85" height="0.85" fill="#000" opacity="0.67"/>
<rect x="78.2" y="557.0" width="0.85" height="0.85" fill="#000" opacity="0.35"/>
<rect x="73.1" y="555.2" width="0.85" height="0.85" fill="#000" opacity="0.66"/>
<rect x="75.7" y="552.4" width="0.85" height="0.85" fill="#000" opacity="0.38"/>
<rect x="73.1" y="544.7" width="0.85" height="0.85" fill="#000" opacity="0.35"/>
<rect x="78.7" y="550.8" width="0.85" height="0.85" fill="#000" opacity="0.38"/>
<rect x="79.3" y="558.7" width="0.85" height="0.85" fill="#000" opacity="0.43"/>
<rect x="75.8" y="556.8" width="0.85" height="0.85" fill="#000" opacity="0.34"/>
<rect x="78.4" y="549.5" width="0.85" height="0.85" fill="#000" opacity="0.50"/>
<rect x="78.6" y="554.9" width="0.85" height="0.85" fill="#000" opacity="0.51"/>
<rect x="75.6" y="553.5" width="0.85" height="0.85" fill="#000" opacity="0.47"/>
<rect x="76.7" y="551.3" width="0.85" height="0.85" fill="#000" opacity="0.38"/>
<rect x="75.4" y="547.0" width="0.85" height="0.85" fill="#000" opacity="0.51"/>
<rect x="81.3" y="546.7" width="0.85" height="0.85" fill="#000" opacity="0.64"/>
<rect x="79.2" y="559.3" width="0.85" height="0.85" fill="#000" opacity="0.62"/>
<rect x="81.0" y="549.5" width="0.85" height="0.85" fill="#000" opacity="0.43"/>
<rect x="80.6" y="550.3" width="0.85" height="0.85" fill="#000" opacity="0.70"/>
<rect x="79.9" y="550.2" width="0.85" height="0.85" fill="#000" opacity="0.40"/>
<rect x="78.2" y="548.3" width="0.85" height="0.85" fill="#000" opacity="0.34"/>
<rect x="80.3" y="547.6" width="0.85" height="0.85" fill="#000" opacity="0.62"/>
<rect x="81.0" y="555.1" width="0.85" height="0.85" fill="#000" opacity="0.57"/>
<rect x="80.8" y="552.1" width="0.85" height="0.85" fill="#000" opacity="0.57"/>
<rect x="86.0" y="545.4" width="0.85" height="0.85" fill="#000" opacity="0.35"/>
<rect x="73.0" y="551.5" width="0.85" height="0.85" fill="#000" opacity="0.50"/>
<rect x="77.8" y="549.1" width="0.85" height="0.85" fill="#000" opacity="0.33"/>
<rect x="79.3" y="552.6" width="0.85" height="0.85" fill="#000" opacity="0.52"/>
<rect x="74.3" y="551.2" width="0.85" height="0.85" fill="#000" opacity="0.36"/>
<rect x="79.5" y="554.6" width="0.85" height="0.85" fill="#000" opacity="0.64"/>
<rect x="86.1" y="551.2" width="0.85" height="0.85" fill="#000" opacity="0.34"/>
<rect x="86.1" y="556.1" width="0.85" height="0.85" fill="#000" opacity="0.48"/>
<rect x="78.9" y="547.7" width="0.85" height="0.85" fill="#000" opacity="0.49"/>
<rect x="75.1" y="551.3" width="0.85" height="0.85" fill="#000" opacity="0.54"/>
<rect x="83.7" y="552.4" width="0.85" height="0.85" fill="#000" opacity="0.64"/>
<rect x="80.1" y="556.4" width="0.85" height="0.85" fill="#000" opacity="0.60"/>
<rect x="76.8" y="553.5" width="0.85" height="0.85" fill="#000" opacity="0.37"/>
<rect x="78.0" y="551.7" width="0.85" height="0.85" fill="#000" opacity="0.66"/>
<rect x="80.2" y="545.0" width="0.85" height="0.85" fill="#000" opacity="0.64"/>
<rect x="76.3" y="548.4" width="0.85" height="0.85" fill="#000" opacity="0.54"/>
<rect x="69.2" y="551.4" width="0.85" height="0.85" fill="#000" opacity="0.62"/>
<rect x="78.2" y="561.9" width="0.85" height="0.85" fill="#000" opacity="0.60"/>
<rect x="79.7" y="543.5" width="0.85" height="0.85" fill="#000" opacity="0.46"/>
<rect x="84.0" y="546.1" width="0.85" height="0.85" fill="#000" opacity="0.58"/>
<rect x="79.2" y="544.0" width="0.85" height="0.85" fill="#000" opacity="0.46"/>
<rect x="78.4" y="550.1" width="0.85" height="0.85" fill="#000" opacity="0.44"/>
<rect x="78.1" y="551.9" width="0.85" height="0.85" fill="#000" opacity="0.44"/>
<rect x="75.6" y="546.9" width="0.85" height="0.85" fill="#000" opacity="0.39"/>
<rect x="83.2" y="549.5" width="0.85" height="0.85" fill="#000" opacity="0.44"/>
<rect x="76.3" y="546.8" width="0.85" height="0.85" fill="#000" opacity="0.51"/>
<rect x="67.8" y="564.3" width="0.85" height="0.85" fill="#000" opacity="0.56"/>
<rect x="76.9" y="544.4" width="0.85" height="0.85" fill="#000" opacity="0.69"/>
<rect x="83.1" y="552.7" width="0.85" height="0.85" fill="#000" opacity="0.60"/>
<rect x="78.5" y="556.5" width="0.85" height="0.85" fill="#000" opacity="0.32"/>
<rect x="79.7" y="556.0" width="0.85" height="0.85" fill="#000" opacity="0.34"/>
<rect x="78.6" y="561.8" width="0.85" height="0.85" fill="#000" opacity="0.52"/>
<rect x="70.0" y="551.2" width="0.85" height="0.85" fill="#000" opacity="0.53"/>
<rect x="83.3" y="551.6" width="0.85" height="0.85" fill="#000" opacity="0.62"/>
<rect x="82.6" y="554.7" width="0.85" height="0.85" fill="#000" opacity="0.60"/>
<rect x="85.9" y="554.8" width="0.85" height="0.85" fill="#000" opacity="0.36"/>
<rect x="76.6" y="552.3" width="0.85" height="0.85" fill="#000" opacity="0.50"/>
<rect x="77.7" y="550.8" width="0.85" height="0.85" fill="#000" opacity="0.68"/>
<rect x="75.1" y="554.5" width="0.85" height="0.85" fill="#000" opacity="0.54"/>
<rect x="76.8" y="554.6" width="0.85" height="0.85" fill="#000" opacity="0.56"/>
<rect x="76.1" y="550.4" width="0.85" height="0.85" fill="#000" opacity="0.59"/>
<rect x="78.4" y="552.5" width="0.85" height="0.85" fill="#000" opacity="0.40"/>
<rect x="80.5" y="552.5" width="0.85" height="0.85" fill="#000" opacity="0.60"/>
<rect x="73.2" y="558.1" width="0.85" height="0.85" fill="#000" opacity="0.60"/>
<rect x="88.0" y="556.1" width="0.85" height="0.85" fill="#000" opacity="0.68"/>
<rect x="85.0" y="556.3" width="0.85" height="0.85" fill="#000" opacity="0.47"/>
<rect x="69.8" y="553.5" width="0.85" height="0.85" fill="#000" opacity="0.40"/>
<rect x="70.9" y="550.2" width="0.85" height="0.85" fill="#000" opacity="0.59"/>
<rect x="69.6" y="554.3" width="0.85" height="0.85" fill="#000" opacity="0.63"/>
<rect x="77.3" y="550.4" width="0.85" height="0.85" fill="#000" opacity="0.55"/>
<rect x="76.5" y="552.7" width="0.85" height="0.85" fill="#000" opacity="0.32"/>
<rect x="76.9" y="551.4" width="0.85" height="0.85" fill="#000" opacity="0.48"/>
<rect x="76.8" y="547.4" width="0.85" height="0.85" fill="#000" opacity="0.40"/>
<rect x="75.6" y="549.4" width="0.85" height="0.85" fill="#000" opacity="0.61"/>
<rect x="67.3" y="548.7" width="0.85" height="0.85" fill="#000" opacity="0.68"/>
<rect x="78.4" y="548.4" width="0.85" height="0.85" fill="#000" opacity="0.35"/>
<rect x="83.1" y="546.8" width="0.85" height="0.85" fill="#000" opacity="0.55"/>
<rect x="76.9" y="554.6" width="0.85" height="0.85" fill="#000" opacity="0.57"/>
<rect x="74.5" y="549.4" width="0.85" height="0.85" fill="#000" opacity="0.55"/>
<rect x="78.6" y="548.8" width="0.85" height="0.85" fill="#000" opacity="0.40"/>
<rect x="85.9" y="550.5" width="0.85" height="0.85" fill="#000" opacity="0.65"/>
<rect x="79.7" y="552.2" width="0.85" height="0.85" fill="#000" opacity="0.41"/>
<rect x="74.5" y="554.7" width="0.85" height="0.85" fill="#000" opacity="0.34"/>
<rect x="77.4" y="551.3" width="0.85" height="0.85" fill="#000" opacity="0.33"/>
<rect x="76.7" y="546.6" width="0.85" height="0.85" fill="#000" opacity="0.55"/>
<rect x="76.0" y="555.6" width="0.85" height="0.85" fill="#000" opacity="0.38"/>
<rect x="75.6" y="558.1" width="0.85" height="0.85" fill="#000" opacity="0.64"/>
<rect x="80.1" y="552.8" width="0.85" height="0.85" fill="#000" opacity="0.62"/>
<rect x="74.6" y="546.3" width="0.85" height="0.85" fill="#000" opacity="0.39"/>
<rect x="76.3" y="553.4" width="0.85" height="0.85" fill="#000" opacity="0.62"/>
<rect x="75.3" y="556.7" width="0.85" height="0.85" fill="#000" opacity="0.70"/>
<rect x="76.7" y="557.0" width="0.85" height="0.85" fill="#000" opacity="0.60"/>
<rect x="81.7" y="549.5" width="0.85" height="0.85" fill="#000" opacity="0.45"/>
<rect x="84.1" y="557.2" width="0.85" height="0.85" fill="#000" opacity="0.33"/>
<rect x="82.3" y="554.8" width="0.85" height="0.85" fill="#000" opacity="0.49"/>
<rect x="77.5" y="548.2" width="0.85" height="0.85" fill="#000" opacity="0.61"/>
<rect x="80.6" y="553.3" width="0.85" height="0.85" fill="#000" opacity="0.56"/>
<rect x="81.0" y="553.7" width="0.85" height="0.85" fill="#000" opacity="0.59"/>
<rect x="77.7" y="548.3" width="0.85" height="0.85" fill="#000" opacity="0.36"/>
<rect x="75.3" y="557.6" width="0.85" height="0.85" fill="#000" opacity="0.45"/>
<rect x="82.4" y="556.7" width="0.85" height="0.85" fill="#000" opacity="0.53"/>
<rect x="85.4" y="546.5" width="0.85" height="0.85" fill="#000" opacity="0.67"/>
<rect x="73.1" y="554.9" width="0.85" height="0.85" fill="#000" opacity="0.42"/>
<rect x="77.2" y="556.0" width="0.85" height="0.85" fill="#000" opacity="0.67"/>
<rect x="80.6" y="549.7" width="0.85" height="0.85" fill="#000" opacity="0.44"/>
<rect x="76.5" y="555.1" width="0.85" height="0.85" fill="#000" opacity="0.46"/>
<rect x="76.9" y="553.8" width="0.85" height="0.85" fill="#000" opacity="0.53"/>
<rect x="79.8" y="546.3" width="0.85" height="0.85" fill="#000" opacity="0.63"/>
<rect x="76.7" y="550.7" width="0.85" height="0.85" fill="#000" opacity="0.60"/>
<rect x="80.6" y="549.3" width="0.85" height="0.85" fill="#000" opacity="0.31"/>
<rect x="74.5" y="551.2" width="0.85" height="0.85" fill="#000" opacity="0.53"/>
<rect x="83.3" y="550.4" width="0.85" height="0.85" fill="#000" opacity="0.62"/>
<rect x="82.4" y="554.1" width="0.85" height="0.85" fill="#000" opacity="0.62"/>
<rect x="79.8" y="552.8" width="0.85" height="0.85" fill="#000" opacity="0.59"/>
<rect x="79.7" y="550.7" width="0.85" height="0.85" fill="#000" opacity="0.55"/>
<rect x="82.0" y="557.8" width="0.85" height="0.85" fill="#000" opacity="0.56"/>
<rect x="78.7" y="555.0" width="0.85" height="0.85" fill="#000" opacity="0.61"/>
<rect x="73.0" y="550.7" width="0.85" height="0.85" fill="#000" opacity="0.46"/>
<rect x="74.1" y="562.1" width="0.85" height="0.85" fill="#000" opacity="0.57"/>
<rect x="74.5" y="552.0" width="0.85" height="0.85" fill="#000" opacity="0.59"/>
<rect x="76.7" y="541.9" width="0.85" height="0.85" fill="#000" opacity="0.46"/>
<rect x="80.9" y="545.7" width="0.85" height="0.85" fill="#000" opacity="0.64"/>
<rect x="80.8" y="543.6" width="0.85" height="0.85" fill="#000" opacity="0.66"/>
<rect x="83.2" y="550.1" width="0.85" height="0.85" fill="#000" opacity="0.51"/>
<rect x="77.1" y="543.8" width="0.85" height="0.85" fill="#000" opacity="0.47"/>
<rect x="77.0" y="553.0" width="0.85" height="0.85" fill="#000" opacity="0.60"/>
<rect x="81.8" y="551.5" width="0.85" height="0.85" fill="#000" opacity="0.37"/>
<rect x="79.6" y="556.4" width="0.85" height="0.85" fill="#000" opacity="0.42"/>
<rect x="79.7" y="551.5" width="0.85" height="0.85" fill="#000" opacity="0.42"/>
<rect x="82.2" y="556.2" width="0.85" height="0.85" fill="#000" opacity="0.61"/>
<rect x="79.1" y="553.3" width="0.85" height="0.85" fill="#000" opacity="0.48"/>
<rect x="72.4" y="546.7" width="0.85" height="0.85" fill="#000" opacity="0.31"/>
<rect x="80.2" y="553.7" width="0.85" height="0.85" fill="#000" opacity="0.39"/>
<rect x="79.1" y="559.1" width="0.85" height="0.85" fill="#000" opacity="0.54"/>
<rect x="78.9" y="554.7" width="0.85" height="0.85" fill="#000" opacity="0.41"/>
<rect x="81.2" y="558.6" width="0.85" height="0.85" fill="#000" opacity="0.42"/>
<rect x="72.8" y="549.3" width="0.85" height="0.85" fill="#000" opacity="0.49"/>
<rect x="78.1" y="561.4" width="0.85" height="0.85" fill="#000" opacity="0.67"/>
<rect x="76.3" y="556.6" width="0.85" height="0.85" fill="#000" opacity="0.68"/>
<rect x="76.3" y="552.2" width="0.85" height="0.85" fill="#000" opacity="0.32"/>
<rect x="84.2" y="549.1" width="0.85" height="0.85" fill="#000" opacity="0.45"/>
<rect x="74.7" y="550.8" width="0.85" height="0.85" fill="#000" opacity="0.41"/>
<rect x="83.4" y="551.4" width="0.85" height="0.85" fill="#000" opacity="0.40"/>
<rect x="82.3" y="552.2" width="0.85" height="0.85" fill="#000" opacity="0.45"/>
<rect x="80.1" y="544.8" width="0.85" height="0.85" fill="#000" opacity="0.54"/>
<rect x="79.7" y="554.0" width="0.85" height="0.85" fill="#000" opacity="0.43"/>
<rect x="78.2" y="561.1" width="0.85" height="0.85" fill="#000" opacity="0.51"/>
<rect x="71.8" y="540.8" width="0.85" height="0.85" fill="#000" opacity="0.41"/>
<rect x="76.8" y="551.2" width="0.85" height="0.85" fill="#000" opacity="0.61"/>
<rect x="84.7" y="551.9" width="0.85" height="0.85" fill="#000" opacity="0.64"/>
<rect x="79.2" y="550.1" width="0.85" height="0.85" fill="#000" opacity="0.41"/>
<rect x="78.3" y="549.8" width="0.85" height="0.85" fill="#000" opacity="0.49"/>
<rect x="70.5" y="554.0" width="0.85" height="0.85" fill="#000" opacity="0.53"/>
<rect x="80.4" y="548.7" width="0.85" height="0.85" fill="#000" opacity="0.62"/>
<rect x="72.2" y="556.9" width="0.85" height="0.85" fill="#000" opacity="0.34"/>
<rect x="79.6" y="549.0" width="0.85" height="0.85" fill="#000" opacity="0.52"/>
<rect x="76.7" y="551.4" width="0.85" height="0.85" fill="#000" opacity="0.63"/>
<rect x="77.5" y="555.5" width="0.85" height="0.85" fill="#000" opacity="0.33"/>
<rect x="77.3" y="556.6" width="0.85" height="0.85" fill="#000" opacity="0.59"/>
<rect x="75.4" y="557.2" width="0.85" height="0.85" fill="#000" opacity="0.34"/>
<rect x="75.7" y="555.0" width="0.85" height="0.85" fill="#000" opacity="0.69"/>
<rect x="80.9" y="545.9" width="0.85" height="0.85" fill="#000" opacity="0.30"/>
<rect x="74.9" y="556.8" width="0.85" height="0.85" fill="#000" opacity="0.39"/>
<rect x="75.2" y="549.8" width="0.85" height="0.85" fill="#000" opacity="0.30"/>
<rect x="84.5" y="551.4" width="0.85" height="0.85" fill="#000" opacity="0.38"/>
<rect x="76.6" y="549.3" width="0.85" height="0.85" fill="#000" opacity="0.45"/>
<rect x="75.9" y="550.8" width="0.85" height="0.85" fill="#000" opacity="0.43"/>
<rect x="74.8" y="556.1" width="0.85" height="0.85" fill="#000" opacity="0.40"/>
<rect x="80.3" y="558.9" width="0.85" height="0.85" fill="#000" opacity="0.43"/>
<rect x="82.6" y="549.8" width="0.85" height="0.85" fill="#000" opacity="0.59"/>
<rect x="75.6" y="559.3" width="0.85" height="0.85" fill="#000" opacity="0.34"/>
<rect x="79.5" y="553.4" width="0.85" height="0.85" fill="#000" opacity="0.57"/>
<rect x="78.1" y="549.0" width="0.85" height="0.85" fill="#000" opacity="0.46"/>
<rect x="80.9" y="546.5" width="0.85" height="0.85" fill="#000" opacity="0.34"/>
<rect x="78.9" y="554.5" width="0.85" height="0.85" fill="#000" opacity="0.35"/>
<rect x="77.5" y="552.8" width="0.85" height="0.85" fill="#000" opacity="0.67"/>
<rect x="75.1" y="554.2" width="0.85" height="0.85" fill="#000" opacity="0.56"/>
<rect x="79.2" y="543.3" width="0.85" height="0.85" fill="#000" opacity="0.45"/>
<rect x="76.9" y="555.9" width="0.85" height="0.85" fill="#000" opacity="0.31"/>
<rect x="74.4" y="556.0" width="0.85" height="0.85" fill="#000" opacity="0.69"/>
<rect x="79.8" y="545.2" width="0.85" height="0.85" fill="#000" opacity="0.54"/>
<rect x="81.5" y="552.3" width="0.85" height="0.85" fill="#000" opacity="0.44"/>
<rect x="77.7" y="550.0" width="0.85" height="0.85" fill="#000" opacity="0.45"/>
<rect x="72.8" y="551.3" width="0.85" height="0.85" fill="#000" opacity="0.63"/>
<rect x="77.1" y="550.1" width="0.85" height="0.85" fill="#000" opacity="0.61"/>
<rect x="82.0" y="548.5" width="0.85" height="0.85" fill="#000" opacity="0.44"/>
<rect x="76.8" y="551.8" width="0.85" height="0.85" fill="#000" opacity="0.59"/>
<rect x="82.6" y="551.3" width="0.85" height="0.85" fill="#000" opacity="0.59"/>
<rect x="79.7" y="549.2" width="0.85" height="0.85" fill="#000" opacity="0.68"/>
<rect x="77.1" y="549.6" width="0.85" height="0.85" fill="#000" opacity="0.33"/>
<rect x="78.7" y="557.8" width="0.85" height="0.85" fill="#000" opacity="0.58"/>
<rect x="75.0" y="561.1" width="0.85" height="0.85" fill="#000" opacity="0.44"/>
<rect x="76.9" y="552.3" width="0.85" height="0.85" fill="#000" opacity="0.69"/>
<rect x="83.3" y="559.3" width="0.85" height="0.85" fill="#000" opacity="0.52"/>
<rect x="74.7" y="549.6" width="0.85" height="0.85" fill="#000" opacity="0.41"/>
<rect x="87.3" y="544.1" width="0.85" height="0.85" fill="#000" opacity="0.63"/>
<rect x="77.2" y="550.4" width="0.85" height="0.85" fill="#000" opacity="0.63"/>
<rect x="76.9" y="561.3" width="0.85" height="0.85" fill="#000" opacity="0.40"/>
<rect x="73.0" y="547.9" width="0.85" height="0.85" fill="#000" opacity="0.37"/>
<rect x="77.3" y="551.3" width="0.85" height="0.85" fill="#000" opacity="0.31"/>
<rect x="82.7" y="564.1" width="0.85" height="0.85" fill="#000" opacity="0.68"/>
<rect x="77.1" y="548.5" width="0.85" height="0.85" fill="#000" opacity="0.57"/>
<rect x="78.3" y="547.3" width="0.85" height="0.85" fill="#000" opacity="0.54"/>
<rect x="78.8" y="551.0" width="0.85" height="0.85" fill="#000" opacity="0.38"/>
<rect x="76.8" y="552.3" width="0.85" height="0.85" fill="#000" opacity="0.45"/>
<rect x="76.8" y="550.6" width="0.85" height="0.85" fill="#000" opacity="0.51"/>
<rect x="78.2" y="557.7" width="0.85" height="0.85" fill="#000" opacity="0.43"/>
<rect x="78.0" y="550.8" width="0.85" height="0.85" fill="#000" opacity="0.57"/>
<rect x="83.7" y="561.0" width="0.85" height="0.85" fill="#000" opacity="0.54"/>
<rect x="75.3" y="552.7" width="0.85" height="0.85" fill="#000" opacity="0.55"/>
<rect x="76.5" y="544.6" width="0.85" height="0.85" fill="#000" opacity="0.60"/>
<rect x="68.0" y="553.1" width="0.85" height="0.85" fill="#000" opacity="0.64"/>
<rect x="80.7" y="548.1" width="0.85" height="0.85" fill="#000" opacity="0.47"/>
<rect x="72.0" y="547.8" width="0.85" height="0.85" fill="#000" opacity="0.51"/>
<rect x="75.1" y="551.0" width="0.85" height="0.85" fill="#000" opacity="0.66"/>
<rect x="78.1" y="553.2" width="0.85" height="0.85" fill="#000" opacity="0.59"/>
<rect x="82.9" y="547.4" width="0.85" height="0.85" fill="#000" opacity="0.54"/>
<rect x="78.6" y="547.9" width="0.85" height="0.85" fill="#000" opacity="0.54"/>
<rect x="80.1" y="552.8" width="0.85" height="0.85" fill="#000" opacity="0.48"/>
<rect x="75.3" y="551.7" width="0.85" height="0.85" fill="#000" opacity="0.32"/>
<rect x="77.2" y="546.5" width="0.85" height="0.85" fill="#000" opacity="0.40"/>
<rect x="77.5" y="556.1" width="0.85" height="0.85" fill="#000" opacity="0.39"/>
<rect x="85.2" y="556.0" width="0.85" height="0.85" fill="#000" opacity="0.69"/>
<rect x="75.3" y="543.8" width="0.85" height="0.85" fill="#000" opacity="0.47"/>
<rect x="79.4" y="548.7" width="0.85" height="0.85" fill="#000" opacity="0.60"/>
<rect x="72.1" y="547.7" width="0.85" height="0.85" fill="#000" opacity="0.34"/>
<rect x="79.0" y="549.5" width="0.85" height="0.85" fill="#000" opacity="0.52"/>
<rect x="78.7" y="551.8" width="0.85" height="0.85" fill="#000" opacity="0.40"/>
<rect x="77.7" y="555.7" width="0.85" height="0.85" fill="#000" opacity="0.33"/>
<rect x="83.4" y="546.6" width="0.85" height="0.85" fill="#000" opacity="0.46"/>
<rect x="75.9" y="556.6" width="0.85" height="0.85" fill="#000" opacity="0.32"/>
<rect x="85.5" y="553.7" width="0.85" height="0.85" fill="#000" opacity="0.42"/>
<rect x="70.9" y="551.9" width="0.85" height="0.85" fill="#000" opacity="0.69"/>
<rect x="76.4" y="552.3" width="0.85" height="0.85" fill="#000" opacity="0.42"/>
<rect x="84.8" y="547.2" width="0.85" height="0.85" fill="#000" opacity="0.38"/>
<rect x="80.2" y="548.1" width="0.85" height="0.85" fill="#000" opacity="0.49"/>
<rect x="81.8" y="560.1" width="0.85" height="0.85" fill="#000" opacity="0.70"/>
<rect x="80.0" y="558.0" width="0.85" height="0.85" fill="#000" opacity="0.38"/>
<rect x="79.4" y="550.8" width="0.85" height="0.85" fill="#000" opacity="0.34"/>
<rect x="78.2" y="547.9" width="0.85" height="0.85" fill="#000" opacity="0.66"/>
<rect x="82.2" y="546.5" width="0.85" height="0.85" fill="#000" opacity="0.35"/>
<rect x="76.0" y="541.6" width="0.85" height="0.85" fill="#000" opacity="0.48"/>
<rect x="80.7" y="553.4" width="0.85" height="0.85" fill="#000" opacity="0.42"/>
<rect x="78.1" y="548.9" width="0.85" height="0.85" fill="#000" opacity="0.37"/>
<rect x="79.0" y="558.6" width="0.85" height="0.85" fill="#000" opacity="0.62"/>
<rect x="75.2" y="556.7" width="0.85" height="0.85" fill="#000" opacity="0.65"/>
<rect x="76.6" y="550.0" width="0.85" height="0.85" fill="#000" opacity="0.42"/>
<rect x="83.0" y="548.8" width="0.85" height="0.85" fill="#000" opacity="0.41"/>
<rect x="77.7" y="550.3" width="0.85" height="0.85" fill="#000" opacity="0.69"/>
<rect x="74.8" y="553.9" width="0.85" height="0.85" fill="#000" opacity="0.51"/>
<rect x="82.9" y="553.5" width="0.85" height="0.85" fill="#000" opacity="0.41"/>
<rect x="78.6" y="560.1" width="0.85" height="0.85" fill="#000" opacity="0.33"/>
<rect x="77.4" y="559.3" width="0.85" height="0.85" fill="#000" opacity="0.40"/>
<rect x="77.8" y="557.5" width="0.85" height="0.85" fill="#000" opacity="0.37"/>
<rect x="86.4" y="543.6" width="0.85" height="0.85" fill="#000" opacity="0.31"/>
<rect x="73.3" y="553.6" width="0.85" height="0.85" fill="#000" opacity="0.45"/>
<rect x="82.1" y="549.5" width="0.85" height="0.85" fill="#000" opacity="0.37"/>
<rect x="74.1" y="549.5" width="0.85" height="0.85" fill="#000" opacity="0.44"/>
<rect x="75.5" y="545.1" width="0.85" height="0.85" fill="#000" opacity="0.51"/>
<rect x="72.2" y="551.5" width="0.85" height="0.85" fill="#000" opacity="0.57"/>
<rect x="70.5" y="550.3" width="0.85" height="0.85" fill="#000" opacity="0.37"/>
<rect x="79.0" y="549.1" width="0.85" height="0.85" fill="#000" opacity="0.54"/>
<rect x="78.9" y="556.7" width="0.85" height="0.85" fill="#000" opacity="0.61"/>
<rect x="79.9" y="543.9" width="0.85" height="0.85" fill="#000" opacity="0.39"/>
<rect x="76.3" y="552.0" width="0.85" height="0.85" fill="#000" opacity="0.53"/>
<rect x="77.7" y="551.8" width="0.85" height="0.85" fill="#000" opacity="0.54"/>
<rect x="77.7" y="545.9" width="0.85" height="0.85" fill="#000" opacity="0.65"/>
<rect x="79.4" y="554.2" width="0.85" height="0.85" fill="#000" opacity="0.31"/>
<rect x="75.1" y="551.9" width="0.85" height="0.85" fill="#000" opacity="0.48"/>
<rect x="78.1" y="560.0" width="0.85" height="0.85" fill="#000" opacity="0.33"/>
<rect x="82.2" y="548.5" width="0.85" height="0.85" fill="#000" opacity="0.52"/>
<rect x="79.2" y="548.5" width="0.85" height="0.85" fill="#000" opacity="0.36"/>
<rect x="78.2" y="553.1" width="0.85" height="0.85" fill="#000" opacity="0.43"/>
<rect x="75.7" y="547.9" width="0.85" height="0.85" fill="#000" opacity="0.41"/>
<rect x="77.4" y="550.8" width="0.85" height="0.85" fill="#000" opacity="0.63"/>
<rect x="79.8" y="554.9" width="0.85" height="0.85" fill="#000" opacity="0.36"/>
<rect x="76.3" y="543.7" width="0.85" height="0.85" fill="#000" opacity="0.61"/>
<rect x="81.7" y="553.6" width="0.85" height="0.85" fill="#000" opacity="0.45"/>
<rect x="80.4" y="563.7" width="0.85" height="0.85" fill="#000" opacity="0.32"/>
<rect x="73.0" y="552.3" width="0.85" height="0.85" fill="#000" opacity="0.69"/>
<rect x="80.8" y="555.8" width="0.85" height="0.85" fill="#000" opacity="0.60"/>
<rect x="81.0" y="552.6" width="0.85" height="0.85" fill="#000" opacity="0.66"/>
<rect x="80.7" y="555.4" width="0.85" height="0.85" fill="#000" opacity="0.42"/>
<rect x="77.4" y="552.6" width="0.85" height="0.85" fill="#000" opacity="0.31"/>
<rect x="84.2" y="551.6" width="0.85" height="0.85" fill="#000" opacity="0.59"/>
<rect x="78.9" y="555.3" width="0.85" height="0.85" fill="#000" opacity="0.52"/>
<rect x="78.8" y="556.9" width="0.85" height="0.85" fill="#000" opacity="0.67"/>
<rect x="76.6" y="554.9" width="0.85" height="0.85" fill="#000" opacity="0.69"/>
<rect x="77.9" y="551.0" width="0.85" height="0.85" fill="#000" opacity="0.46"/>
<rect x="77.9" y="550.5" width="0.85" height="0.85" fill="#000" opacity="0.44"/>
<rect x="76.4" y="543.2" width="0.85" height="0.85" fill="#000" opacity="0.54"/>
<rect x="81.4" y="548.4" width="0.85" height="0.85" fill="#000" opacity="0.46"/>
<rect x="80.4" y="548.0" width="0.85" height="0.85" fill="#000" opacity="0.61"/>
<rect x="79.3" y="555.9" width="0.85" height="0.85" fill="#000" opacity="0.37"/>
<rect x="76.7" y="551.0" width="0.85" height="0.85" fill="#000" opacity="0.38"/>
<rect x="79.4" y="556.8" width="0.85" height="0.85" fill="#000" opacity="0.42"/>
<rect x="68.7" y="556.5" width="0.85" height="0.85" fill="#000" opacity="0.57"/>
<rect x="80.1" y="549.4" width="0.85" height="0.85" fill="#000" opacity="0.45"/>
<rect x="83.1" y="554.9" width="0.85" height="0.85" fill="#000" opacity="0.45"/>
<rect x="78.5" y="552.7" width="0.85" height="0.85" fill="#000" opacity="0.37"/>
<rect x="78.3" y="556.4" width="0.85" height="0.85" fill="#000" opacity="0.67"/>
<rect x="78.0" y="548.2" width="0.85" height="0.85" fill="#000" opacity="0.44"/>
<rect x="83.0" y="560.7" width="0.85" height="0.85" fill="#000" opacity="0.44"/>
<rect x="79.1" y="544.5" width="0.85" height="0.85" fill="#000" opacity="0.66"/>
<rect x="81.5" y="552.3" width="0.85" height="0.85" fill="#000" opacity="0.45"/>
<rect x="84.5" y="556.6" width="0.85" height="0.85" fill="#000" opacity="0.43"/>
<rect x="79.1" y="546.3" width="0.85" height="0.85" fill="#000" opacity="0.32"/>
<rect x="76.7" y="553.9" width="0.85" height="0.85" fill="#000" opacity="0.32"/>
<rect x="81.2" y="556.8" width="0.85" height="0.85" fill="#000" opacity="0.31"/>
<rect x="77.3" y="556.3" width="0.85" height="0.85" fill="#000" opacity="0.52"/>
<rect x="82.0" y="557.2" width="0.85" height="0.85" fill="#000" opacity="0.40"/>
<rect x="77.8" y="545.1" width="0.85" height="0.85" fill="#000" opacity="0.36"/>
<rect x="79.3" y="555.4" width="0.85" height="0.85" fill="#000" opacity="0.59"/>
<rect x="75.9" y="554.3" width="0.85" height="0.85" fill="#000" opacity="0.65"/>
<rect x="79.0" y="555.6" width="0.85" height="0.85" fill="#000" opacity="0.44"/>
<rect x="78.8" y="553.1" width="0.85" height="0.85" fill="#000" opacity="0.31"/>
<rect x="75.7" y="547.5" width="0.85" height="0.85" fill="#000" opacity="0.62"/>
<rect x="81.3" y="551.2" width="0.85" height="0.85" fill="#000" opacity="0.57"/>
<rect x="80.6" y="550.2" width="0.85" height="0.85" fill="#000" opacity="0.58"/>
<rect x="74.5" y="541.9" width="0.85" height="0.85" fill="#000" opacity="0.65"/>
<rect x="79.1" y="558.3" width="0.85" height="0.85" fill="#000" opacity="0.34"/>
<rect x="75.6" y="553.8" width="0.85" height="0.85" fill="#000" opacity="0.32"/>
<rect x="76.4" y="554.5" width="0.85" height="0.85" fill="#000" opacity="0.50"/>
<rect x="78.2" y="554.5" width="0.85" height="0.85" fill="#000" opacity="0.46"/>
<rect x="76.6" y="552.2" width="0.85" height="0.85" fill="#000" opacity="0.57"/>
<rect x="78.7" y="553.8" width="0.85" height="0.85" fill="#000" opacity="0.44"/>
<rect x="76.9" y="553.0" width="0.85" height="0.85" fill="#000" opacity="0.53"/>
<rect x="77.3" y="546.2" width="0.85" height="0.85" fill="#000" opacity="0.58"/>
<rect x="81.9" y="552.5" width="0.85" height="0.85" fill="#000" opacity="0.45"/>
<rect x="81.7" y="553.6" width="0.85" height="0.85" fill="#000" opacity="0.32"/>
<rect x="74.2" y="552.0" width="0.85" height="0.85" fill="#000" opacity="0.49"/>
<rect x="77.4" y="554.9" width="0.85" height="0.85" fill="#000" opacity="0.31"/>
<rect x="74.6" y="559.8" width="0.85" height="0.85" fill="#000" opacity="0.53"/>
<rect x="78.2" y="558.6" width="0.85" height="0.85" fill="#000" opacity="0.37"/>
<rect x="74.1" y="553.0" width="0.85" height="0.85" fill="#000" opacity="0.68"/>
<rect x="75.8" y="556.4" width="0.85" height="0.85" fill="#000" opacity="0.68"/>
<rect x="79.2" y="545.4" width="0.85" height="0.85" fill="#000" opacity="0.55"/>
<rect x="75.7" y="554.3" width="0.85" height="0.85" fill="#000" opacity="0.41"/>
<rect x="81.9" y="543.5" width="0.85" height="0.85" fill="#000" opacity="0.45"/>
<rect x="79.4" y="551.1" width="0.85" height="0.85" fill="#000" opacity="0.35"/>
<rect x="75.8" y="551.6" width="0.85" height="0.85" fill="#000" opacity="0.44"/>
<rect x="80.5" y="551.4" width="0.85" height="0.85" fill="#000" opacity="0.38"/>
<rect x="79.3" y="558.7" width="0.85" height="0.85" fill="#000" opacity="0.39"/>
<rect x="82.7" y="551.8" width="0.85" height="0.85" fill="#000" opacity="0.46"/>
<rect x="78.9" y="557.2" width="0.85" height="0.85" fill="#000" opacity="0.56"/>
<rect x="74.2" y="549.9" width="0.85" height="0.85" fill="#000" opacity="0.52"/>
<rect x="82.8" y="541.2" width="0.85" height="0.85" fill="#000" opacity="0.43"/>
<rect x="74.7" y="559.7" width="0.85" height="0.85" fill="#000" opacity="0.43"/>
<rect x="77.5" y="544.9" width="0.85" height="0.85" fill="#000" opacity="0.57"/>
<rect x="84.6" y="549.9" width="0.85" height="0.85" fill="#000" opacity="0.36"/>
<rect x="75.8" y="548.1" width="0.85" height="0.85" fill="#000" opacity="0.53"/>
<rect x="76.8" y="554.6" width="0.85" height="0.85" fill="#000" opacity="0.60"/>
<rect x="76.2" y="551.1" width="0.85" height="0.85" fill="#000" opacity="0.40"/>
<rect x="77.7" y="554.4" width="0.85" height="0.85" fill="#000" opacity="0.51"/>
<rect x="79.4" y="553.0" width="0.85" height="0.85" fill="#000" opacity="0.33"/>
<rect x="82.7" y="556.1" width="0.85" height="0.85" fill="#000" opacity="0.35"/>
<rect x="73.2" y="554.2" width="0.85" height="0.85" fill="#000" opacity="0.49"/>
<rect x="82.1" y="559.7" width="0.85" height="0.85" fill="#000" opacity="0.65"/>
<rect x="81.0" y="553.0" width="0.85" height="0.85" fill="#000" opacity="0.50"/>
<rect x="79.5" y="547.4" width="0.85" height="0.85" fill="#000" opacity="0.59"/>
<rect x="78.5" y="559.1" width="0.85" height="0.85" fill="#000" opacity="0.43"/>
<rect x="75.8" y="558.5" width="0.85" height="0.85" fill="#000" opacity="0.64"/>
<rect x="80.6" y="546.6" width="0.85" height="0.85" fill="#000" opacity="0.47"/>
<rect x="77.4" y="545.6" width="0.85" height="0.85" fill="#000" opacity="0.63"/>
<rect x="79.1" y="549.5" width="0.85" height="0.85" fill="#000" opacity="0.45"/>
<rect x="77.4" y="548.9" width="0.85" height="0.85" fill="#000" opacity="0.37"/>
<rect x="83.0" y="552.3" width="0.85" height="0.85" fill="#000" opacity="0.68"/>
<rect x="80.3" y="551.3" width="0.85" height="0.85" fill="#000" opacity="0.58"/>
<rect x="74.5" y="555.0" width="0.85" height="0.85" fill="#000" opacity="0.46"/>
<rect x="87.6" y="546.2" width="0.85" height="0.85" fill="#000" opacity="0.32"/>
<rect x="78.2" y="549.6" width="0.85" height="0.85" fill="#000" opacity="0.32"/>
<rect x="77.4" y="559.1" width="0.85" height="0.85" fill="#000" opacity="0.70"/>
<rect x="80.8" y="554.6" width="0.85" height="0.85" fill="#000" opacity="0.31"/>
<rect x="74.9" y="550.4" width="0.85" height="0.85" fill="#000" opacity="0.45"/>
<rect x="76.4" y="559.5" width="0.85" height="0.85" fill="#000" opacity="0.64"/>
<rect x="77.9" y="556.3" width="0.85" height="0.85" fill="#000" opacity="0.55"/>
<rect x="79.5" y="538.9" width="0.85" height="0.85" fill="#000" opacity="0.46"/>
<rect x="77.2" y="546.4" width="0.85" height="0.85" fill="#000" opacity="0.62"/>
<rect x="79.8" y="554.1" width="0.85" height="0.85" fill="#000" opacity="0.34"/>
<rect x="80.9" y="550.4" width="0.85" height="0.85" fill="#000" opacity="0.50"/>
<rect x="80.7" y="554.6" width="0.85" height="0.85" fill="#000" opacity="0.31"/>
<rect x="76.9" y="550.8" width="0.85" height="0.85" fill="#000" opacity="0.55"/>
<rect x="78.2" y="555.1" width="0.85" height="0.85" fill="#000" opacity="0.49"/>
<rect x="76.9" y="554.5" width="0.85" height="0.85" fill="#000" opacity="0.32"/>
<rect x="85.0" y="555.6" width="0.85" height="0.85" fill="#000" opacity="0.42"/>
<rect x="80.4" y="553.2" width="0.85" height="0.85" fill="#000" opacity="0.49"/>
<rect x="80.8" y="551.7" width="0.85" height="0.85" fill="#000" opacity="0.65"/>
<rect x="75.2" y="552.3" width="0.85" height="0.85" fill="#000" opacity="0.62"/>
<rect x="77.7" y="552.8" width="0.85" height="0.85" fill="#000" opacity="0.52"/>
<rect x="76.1" y="546.4" width="0.85" height="0.85" fill="#000" opacity="0.41"/>
<rect x="84.7" y="548.4" width="0.85" height="0.85" fill="#000" opacity="0.70"/>
<rect x="72.7" y="554.8" width="0.85" height="0.85" fill="#000" opacity="0.59"/>
<rect x="78.9" y="552.8" width="0.85" height="0.85" fill="#000" opacity="0.37"/>
<rect x="79.6" y="553.0" width="0.85" height="0.85" fill="#000" opacity="0.44"/>
<rect x="78.7" y="547.8" width="0.85" height="0.85" fill="#000" opacity="0.51"/>
<rect x="80.9" y="552.0" width="0.85" height="0.85" fill="#000" opacity="0.68"/>
<rect x="82.6" y="552.2" width="0.85" height="0.85" fill="#000" opacity="0.62"/>
<rect x="80.0" y="544.6" width="0.85" height="0.85" fill="#000" opacity="0.46"/>
<rect x="80.6" y="543.6" width="0.85" height="0.85" fill="#000" opacity="0.61"/>
<rect x="80.1" y="551.6" width="0.85" height="0.85" fill="#000" opacity="0.68"/>
<rect x="74.4" y="555.9" width="0.85" height="0.85" fill="#000" opacity="0.40"/>
<rect x="79.2" y="551.3" width="0.85" height="0.85" fill="#000" opacity="0.53"/>
<rect x="79.1" y="556.3" width="0.85" height="0.85" fill="#000" opacity="0.45"/>
<rect x="75.3" y="544.8" width="0.85" height="0.85" fill="#000" opacity="0.45"/>
<rect x="76.6" y="548.5" width="0.85" height="0.85" fill="#000" opacity="0.41"/>
<rect x="81.0" y="549.5" width="0.85" height="0.85" fill="#000" opacity="0.34"/>
<rect x="75.8" y="558.3" width="0.85" height="0.85" fill="#000" opacity="0.38"/>
<rect x="78.4" y="546.0" width="0.85" height="0.85" fill="#000" opacity="0.57"/>
<rect x="79.3" y="553.8" width="0.85" height="0.85" fill="#000" opacity="0.36"/>
<rect x="76.5" y="555.7" width="0.85" height="0.85" fill="#000" opacity="0.30"/>
<rect x="75.2" y="551.7" width="0.85" height="0.85" fill="#000" opacity="0.43"/>
<rect x="70.7" y="549.2" width="0.85" height="0.85" fill="#000" opacity="0.38"/>
<rect x="80.7" y="549.0" width="0.85" height="0.85" fill="#000" opacity="0.60"/>
<rect x="86.2" y="560.4" width="0.85" height="0.85" fill="#000" opacity="0.47"/>
<rect x="80.9" y="551.0" width="0.85" height="0.85" fill="#000" opacity="0.46"/>
<rect x="78.0" y="549.0" width="0.85" height="0.85" fill="#000" opacity="0.41"/>
<rect x="75.1" y="541.8" width="0.85" height="0.85" fill="#000" opacity="0.43"/>
<rect x="79.9" y="555.8" width="0.85" height="0.85" fill="#000" opacity="0.70"/>
<rect x="81.4" y="557.0" width="0.85" height="0.85" fill="#000" opacity="0.45"/>
<rect x="77.2" y="549.3" width="0.85" height="0.85" fill="#000" opacity="0.55"/>
<rect x="83.5" y="545.9" width="0.85" height="0.85" fill="#000" opacity="0.55"/>
<rect x="74.3" y="551.6" width="0.85" height="0.85" fill="#000" opacity="0.35"/>
<rect x="81.2" y="545.8" width="0.85" height="0.85" fill="#000" opacity="0.48"/>
<rect x="76.9" y="547.7" width="0.85" height="0.85" fill="#000" opacity="0.45"/>
<rect x="79.2" y="558.0" width="0.85" height="0.85" fill="#000" opacity="0.53"/>
<rect x="77.8" y="551.7" width="0.85" height="0.85" fill="#000" opacity="0.55"/>
<rect x="74.4" y="553.8" width="0.85" height="0.85" fill="#000" opacity="0.54"/>
<rect x="80.3" y="550.7" width="0.85" height="0.85" fill="#000" opacity="0.49"/>
<rect x="84.0" y="551.5" width="0.85" height="0.85" fill="#000" opacity="0.43"/>
<rect x="77.8" y="538.0" width="0.85" height="0.85" fill="#000" opacity="0.46"/>
<rect x="79.8" y="550.0" width="0.85" height="0.85" fill="#000" opacity="0.70"/>
<rect x="76.2" y="552.0" width="0.85" height="0.85" fill="#000" opacity="0.64"/>
<rect x="74.0" y="543.1" width="0.85" height="0.85" fill="#000" opacity="0.63"/>
<rect x="79.8" y="546.5" width="0.85" height="0.85" fill="#000" opacity="0.70"/>
<rect x="84.7" y="555.5" width="0.85" height="0.85" fill="#000" opacity="0.58"/>
<rect x="78.6" y="560.1" width="0.85" height="0.85" fill="#000" opacity="0.48"/>
<rect x="72.2" y="549.7" width="0.85" height="0.85" fill="#000" opacity="0.38"/>
<rect x="77.7" y="558.3" width="0.85" height="0.85" fill="#000" opacity="0.33"/>
<rect x="73.1" y="549.1" width="0.85" height="0.85" fill="#000" opacity="0.50"/>
<rect x="78.9" y="560.0" width="0.85" height="0.85" fill="#000" opacity="0.64"/>
<rect x="79.1" y="546.0" width="0.85" height="0.85" fill="#000" opacity="0.66"/>
<rect x="79.1" y="549.3" width="0.85" height="0.85" fill="#000" opacity="0.45"/>
<rect x="79.3" y="552.5" width="0.85" height="0.85" fill="#000" opacity="0.44"/>
<rect x="82.7" y="545.3" width="0.85" height="0.85" fill="#000" opacity="0.35"/>
<rect x="80.0" y="555.9" width="0.85" height="0.85" fill="#000" opacity="0.64"/>
<rect x="73.3" y="545.2" width="0.85" height="0.85" fill="#000" opacity="0.33"/>
<rect x="80.8" y="551.6" width="0.85" height="0.85" fill="#000" opacity="0.55"/>
<rect x="82.4" y="546.6" width="0.85" height="0.85" fill="#000" opacity="0.38"/>
<rect x="76.9" y="547.5" width="0.85" height="0.85" fill="#000" opacity="0.31"/>
<rect x="77.1" y="555.2" width="0.85" height="0.85" fill="#000" opacity="0.55"/>
<rect x="77.8" y="558.0" width="0.85" height="0.85" fill="#000" opacity="0.58"/>
<rect x="79.3" y="554.0" width="0.85" height="0.85" fill="#000" opacity="0.58"/>
<rect x="76.9" y="552.3" width="0.85" height="0.85" fill="#000" opacity="0.35"/>
<rect x="82.8" y="549.5" width="0.85" height="0.85" fill="#000" opacity="0.44"/>
<rect x="82.2" y="565.9" width="0.85" height="0.85" fill="#000" opacity="0.58"/>
<rect x="78.3" y="547.5" width="0.85" height="0.85" fill="#000" opacity="0.42"/>
<rect x="77.0" y="553.2" width="0.85" height="0.85" fill="#000" opacity="0.55"/>
<rect x="73.2" y="555.7" width="0.85" height="0.85" fill="#000" opacity="0.46"/>
<rect x="74.8" y="553.3" width="0.85" height="0.85" fill="#000" opacity="0.68"/>
<rect x="75.7" y="557.7" width="0.85" height="0.85" fill="#000" opacity="0.39"/>
<rect x="76.2" y="550.0" width="0.85" height="0.85" fill="#000" opacity="0.65"/>
<rect x="77.1" y="560.6" width="0.85" height="0.85" fill="#000" opacity="0.57"/>
<rect x="71.2" y="554.8" width="0.85" height="0.85" fill="#000" opacity="0.46"/>
<rect x="78.4" y="545.6" width="0.85" height="0.85" fill="#000" opacity="0.48"/>
<rect x="81.8" y="553.7" width="0.85" height="0.85" fill="#000" opacity="0.41"/>
<rect x="71.0" y="555.9" width="0.85" height="0.85" fill="#000" opacity="0.42"/>
<rect x="76.9" y="545.3" width="0.85" height="0.85" fill="#000" opacity="0.40"/>
<rect x="77.1" y="553.1" width="0.85" height="0.85" fill="#000" opacity="0.66"/>
<rect x="78.6" y="556.6" width="0.85" height="0.85" fill="#000" opacity="0.44"/>
<rect x="81.4" y="543.7" width="0.85" height="0.85" fill="#000" opacity="0.54"/>
<rect x="77.2" y="551.2" width="0.85" height="0.85" fill="#000" opacity="0.66"/>
<rect x="81.3" y="554.1" width="0.85" height="0.85" fill="#000" opacity="0.45"/>
<rect x="77.8" y="545.1" width="0.85" height="0.85" fill="#000" opacity="0.44"/>
<rect x="85.1" y="545.1" width="0.85" height="0.85" fill="#000" opacity="0.31"/>
<rect x="76.1" y="548.0" width="0.85" height="0.85" fill="#000" opacity="0.44"/>
<rect x="75.8" y="552.7" width="0.85" height="0.85" fill="#000" opacity="0.57"/>
<rect x="71.7" y="544.3" width="0.85" height="0.85" fill="#000" opacity="0.69"/>
<rect x="84.6" y="550.6" width="0.85" height="0.85" fill="#000" opacity="0.33"/>
<rect x="73.9" y="539.1" width="0.85" height="0.85" fill="#000" opacity="0.38"/>
<rect x="84.7" y="555.3" width="0.85" height="0.85" fill="#000" opacity="0.21"/>
<rect x="76.8" y="545.5" width="0.85" height="0.85" fill="#000" opacity="0.38"/>
<rect x="80.4" y="559.8" width="0.85" height="0.85" fill="#000" opacity="0.14"/>
<rect x="71.7" y="560.6" width="0.85" height="0.85" fill="#000" opacity="0.12"/>
<rect x="83.0" y="562.9" width="0.85" height="0.85" fill="#000" opacity="0.27"/>
<rect x="78.8" y="543.7" width="0.85" height="0.85" fill="#000" opacity="0.33"/>
<rect x="77.8" y="534.7" width="0.85" height="0.85" fill="#000" opacity="0.13"/>
<rect x="78.0" y="551.3" width="0.85" height="0.85" fill="#000" opacity="0.34"/>
<rect x="90.2" y="544.1" width="0.85" height="0.85" fill="#000" opacity="0.11"/>
<rect x="74.9" y="560.5" width="0.85" height="0.85" fill="#000" opacity="0.25"/>
<rect x="86.6" y="561.8" width="0.85" height="0.85" fill="#000" opacity="0.18"/>
<rect x="76.1" y="550.8" width="0.85" height="0.85" fill="#000" opacity="0.26"/>
<rect x="80.7" y="554.0" width="0.85" height="0.85" fill="#000" opacity="0.24"/>
<rect x="76.4" y="566.8" width="0.85" height="0.85" fill="#000" opacity="0.17"/>
<rect x="77.4" y="552.6" width="0.85" height="0.85" fill="#000" opacity="0.16"/>
<rect x="72.2" y="554.6" width="0.85" height="0.85" fill="#000" opacity="0.23"/>
<rect x="80.6" y="547.4" width="0.85" height="0.85" fill="#000" opacity="0.34"/>
<rect x="87.4" y="571.8" width="0.85" height="0.85" fill="#000" opacity="0.25"/>
<rect x="72.6" y="558.3" width="0.85" height="0.85" fill="#000" opacity="0.34"/>
<rect x="84.6" y="548.8" width="0.85" height="0.85" fill="#000" opacity="0.10"/>
<rect x="84.9" y="565.4" width="0.85" height="0.85" fill="#000" opacity="0.31"/>
<rect x="78.2" y="545.6" width="0.85" height="0.85" fill="#000" opacity="0.25"/>
<rect x="81.7" y="551.8" width="0.85" height="0.85" fill="#000" opacity="0.18"/>
<rect x="86.9" y="548.1" width="0.85" height="0.85" fill="#000" opacity="0.34"/>
<rect x="84.6" y="553.8" width="0.85" height="0.85" fill="#000" opacity="0.12"/>
<rect x="78.8" y="555.6" width="0.85" height="0.85" fill="#000" opacity="0.36"/>
<rect x="75.9" y="560.7" width="0.85" height="0.85" fill="#000" opacity="0.28"/>
<rect x="89.3" y="536.0" width="0.85" height="0.85" fill="#000" opacity="0.26"/>
<rect x="66.9" y="550.9" width="0.85" height="0.85" fill="#000" opacity="0.21"/>
<rect x="76.2" y="565.8" width="0.85" height="0.85" fill="#000" opacity="0.17"/>
<rect x="75.0" y="558.4" width="0.85" height="0.85" fill="#000" opacity="0.23"/>
<rect x="75.3" y="558.8" width="0.85" height="0.85" fill="#000" opacity="0.23"/>
<rect x="89.1" y="556.5" width="0.85" height="0.85" fill="#000" opacity="0.12"/>
<rect x="72.1" y="548.9" width="0.85" height="0.85" fill="#000" opacity="0.21"/>
<rect x="79.4" y="555.3" width="0.85" height="0.85" fill="#000" opacity="0.20"/>
<rect x="76.5" y="561.0" width="0.85" height="0.85" fill="#000" opacity="0.16"/>
<rect x="79.0" y="540.0" width="0.85" height="0.85" fill="#000" opacity="0.10"/>
<rect x="66.9" y="564.7" width="0.85" height="0.85" fill="#000" opacity="0.10"/>
<rect x="67.1" y="537.6" width="0.85" height="0.85" fill="#000" opacity="0.20"/>
<rect x="74.6" y="545.7" width="0.85" height="0.85" fill="#000" opacity="0.18"/>
<rect x="73.2" y="543.0" width="0.85" height="0.85" fill="#000" opacity="0.19"/>
<rect x="72.3" y="551.2" width="0.85" height="0.85" fill="#000" opacity="0.31"/>
<rect x="81.3" y="552.4" width="0.85" height="0.85" fill="#000" opacity="0.17"/>
<rect x="77.7" y="567.8" width="0.85" height="0.85" fill="#000" opacity="0.22"/>
<rect x="82.6" y="543.6" width="0.85" height="0.85" fill="#000" opacity="0.18"/>
<rect x="78.0" y="547.4" width="0.85" height="0.85" fill="#000" opacity="0.38"/>
<rect x="81.4" y="543.6" width="0.85" height="0.85" fill="#000" opacity="0.19"/>
<rect x="83.2" y="535.8" width="0.85" height="0.85" fill="#000" opacity="0.28"/>
<rect x="87.9" y="556.6" width="0.85" height="0.85" fill="#000" opacity="0.11"/>
<rect x="74.0" y="542.5" width="0.85" height="0.85" fill="#000" opacity="0.36"/>
<rect x="78.2" y="549.5" width="0.85" height="0.85" fill="#000" opacity="0.36"/>
<rect x="79.1" y="538.5" width="0.85" height="0.85" fill="#000" opacity="0.10"/>
<rect x="78.5" y="541.1" width="0.85" height="0.85" fill="#000" opacity="0.29"/>
<rect x="91.4" y="548.8" width="0.85" height="0.85" fill="#000" opacity="0.12"/>
<rect x="80.2" y="541.0" width="0.85" height="0.85" fill="#000" opacity="0.31"/>
<rect x="74.6" y="558.2" width="0.85" height="0.85" fill="#000" opacity="0.22"/>
<rect x="82.6" y="556.6" width="0.85" height="0.85" fill="#000" opacity="0.31"/>
<rect x="81.5" y="553.0" width="0.85" height="0.85" fill="#000" opacity="0.33"/>
<rect x="75.5" y="540.6" width="0.85" height="0.85" fill="#000" opacity="0.13"/>
<rect x="82.6" y="556.5" width="0.85" height="0.85" fill="#000" opacity="0.37"/>
<rect x="67.2" y="543.1" width="0.85" height="0.85" fill="#000" opacity="0.16"/>
<rect x="73.0" y="557.0" width="0.85" height="0.85" fill="#000" opacity="0.33"/>
<rect x="87.1" y="564.5" width="0.85" height="0.85" fill="#000" opacity="0.23"/>
<rect x="84.8" y="553.0" width="0.85" height="0.85" fill="#000" opacity="0.21"/>
<rect x="73.1" y="531.6" width="0.85" height="0.85" fill="#000" opacity="0.24"/>
<rect x="76.9" y="542.3" width="0.85" height="0.85" fill="#000" opacity="0.32"/>
<rect x="86.3" y="560.6" width="0.85" height="0.85" fill="#000" opacity="0.15"/>
<rect x="75.8" y="547.7" width="0.85" height="0.85" fill="#000" opacity="0.20"/>
<rect x="81.7" y="558.6" width="0.85" height="0.85" fill="#000" opacity="0.27"/>
<rect x="73.5" y="549.8" width="0.85" height="0.85" fill="#000" opacity="0.26"/>
<rect x="81.9" y="543.5" width="0.85" height="0.85" fill="#000" opacity="0.26"/>
<rect x="63.4" y="554.3" width="0.85" height="0.85" fill="#000" opacity="0.19"/>
<rect x="77.7" y="544.4" width="0.85" height="0.85" fill="#000" opacity="0.17"/>
<rect x="78.1" y="538.7" width="0.85" height="0.85" fill="#000" opacity="0.17"/>
<rect x="88.6" y="558.0" width="0.85" height="0.85" fill="#000" opacity="0.21"/>
<rect x="77.8" y="541.1" width="0.85" height="0.85" fill="#000" opacity="0.27"/>
<rect x="64.8" y="541.5" width="0.85" height="0.85" fill="#000" opacity="0.35"/>
<rect x="72.8" y="554.0" width="0.85" height="0.85" fill="#000" opacity="0.16"/>
<rect x="79.1" y="546.6" width="0.85" height="0.85" fill="#000" opacity="0.19"/>
<rect x="79.9" y="548.9" width="0.85" height="0.85" fill="#000" opacity="0.30"/>
<rect x="72.5" y="546.0" width="0.85" height="0.85" fill="#000" opacity="0.19"/>
<rect x="87.0" y="570.0" width="0.85" height="0.85" fill="#000" opacity="0.31"/>
<rect x="79.9" y="547.0" width="0.85" height="0.85" fill="#000" opacity="0.32"/>
<rect x="79.7" y="557.2" width="0.85" height="0.85" fill="#000" opacity="0.25"/>
<rect x="76.8" y="547.9" width="0.85" height="0.85" fill="#000" opacity="0.31"/>
<rect x="68.6" y="540.9" width="0.85" height="0.85" fill="#000" opacity="0.36"/>
<rect x="77.0" y="542.6" width="0.85" height="0.85" fill="#000" opacity="0.37"/>
<rect x="78.1" y="543.3" width="0.85" height="0.85" fill="#000" opacity="0.34"/>
<rect x="78.4" y="543.6" width="0.85" height="0.85" fill="#000" opacity="0.17"/>
<rect x="85.9" y="552.5" width="0.85" height="0.85" fill="#000" opacity="0.17"/>
<rect x="77.9" y="558.0" width="0.85" height="0.85" fill="#000" opacity="0.14"/>
<rect x="74.6" y="551.7" width="0.85" height="0.85" fill="#000" opacity="0.18"/>
<rect x="77.8" y="562.2" width="0.85" height="0.85" fill="#000" opacity="0.34"/>
<rect x="84.9" y="566.9" width="0.85" height="0.85" fill="#000" opacity="0.34"/>
<rect x="73.6" y="543.4" width="0.85" height="0.85" fill="#000" opacity="0.31"/>
<rect x="71.0" y="548.0" width="0.85" height="0.85" fill="#000" opacity="0.36"/>
<rect x="79.7" y="543.7" width="0.85" height="0.85" fill="#000" opacity="0.12"/>
<rect x="83.9" y="547.5" width="0.85" height="0.85" fill="#000" opacity="0.32"/>
<rect x="79.6" y="561.4" width="0.85" height="0.85" fill="#000" opacity="0.20"/>
<rect x="77.3" y="528.4" width="0.85" height="0.85" fill="#000" opacity="0.24"/>
<rect x="74.3" y="547.5" width="0.85" height="0.85" fill="#000" opacity="0.17"/>
<rect x="81.6" y="549.6" width="0.85" height="0.85" fill="#000" opacity="0.36"/>
<rect x="77.8" y="547.9" width="0.85" height="0.85" fill="#000" opacity="0.35"/>
<rect x="84.8" y="558.3" width="0.85" height="0.85" fill="#000" opacity="0.13"/>
<rect x="83.8" y="550.4" width="0.85" height="0.85" fill="#000" opacity="0.34"/>
<rect x="86.7" y="556.3" width="0.85" height="0.85" fill="#000" opacity="0.12"/>
<rect x="86.2" y="553.3" width="0.85" height="0.85" fill="#000" opacity="0.38"/>
<rect x="74.6" y="533.9" width="0.85" height="0.85" fill="#000" opacity="0.32"/>
<rect x="76.8" y="550.5" width="0.85" height="0.85" fill="#000" opacity="0.25"/>
<rect x="81.7" y="561.7" width="0.85" height="0.85" fill="#000" opacity="0.20"/>
<rect x="75.3" y="551.0" width="0.85" height="0.85" fill="#000" opacity="0.30"/>
<rect x="73.4" y="556.4" width="0.85" height="0.85" fill="#000" opacity="0.12"/>
<rect x="71.9" y="552.0" width="0.85" height="0.85" fill="#000" opacity="0.37"/>
<rect x="76.2" y="549.1" width="0.85" height="0.85" fill="#000" opacity="0.18"/>
<rect x="74.5" y="563.7" width="0.85" height="0.85" fill="#000" opacity="0.36"/>
<rect x="92.5" y="547.5" width="0.85" height="0.85" fill="#000" opacity="0.36"/>
<rect x="87.3" y="533.8" width="0.85" height="0.85" fill="#000" opacity="0.11"/>
<rect x="71.5" y="551.8" width="0.85" height="0.85" fill="#000" opacity="0.29"/>
<rect x="73.1" y="542.5" width="0.85" height="0.85" fill="#000" opacity="0.36"/>
<rect x="84.8" y="556.9" width="0.85" height="0.85" fill="#000" opacity="0.37"/>
<rect x="81.7" y="551.9" width="0.85" height="0.85" fill="#000" opacity="0.34"/>
<rect x="80.2" y="550.4" width="0.85" height="0.85" fill="#000" opacity="0.11"/>
<rect x="83.1" y="538.3" width="0.85" height="0.85" fill="#000" opacity="0.25"/>
<rect x="70.7" y="543.3" width="0.85" height="0.85" fill="#000" opacity="0.33"/>
<rect x="81.1" y="551.0" width="0.85" height="0.85" fill="#000" opacity="0.32"/>
<rect x="89.5" y="548.2" width="0.85" height="0.85" fill="#000" opacity="0.21"/>
<rect x="76.4" y="558.5" width="0.85" height="0.85" fill="#000" opacity="0.10"/>
<rect x="79.6" y="543.6" width="0.85" height="0.85" fill="#000" opacity="0.26"/>
<rect x="74.0" y="549.6" width="0.85" height="0.85" fill="#000" opacity="0.29"/>
<rect x="75.1" y="552.9" width="0.85" height="0.85" fill="#000" opacity="0.35"/>
<rect x="80.4" y="555.8" width="0.85" height="0.85" fill="#000" opacity="0.17"/>
<rect x="69.3" y="553.2" width="0.85" height="0.85" fill="#000" opacity="0.19"/>
<rect x="79.6" y="564.8" width="0.85" height="0.85" fill="#000" opacity="0.17"/>
<rect x="74.7" y="550.0" width="0.85" height="0.85" fill="#000" opacity="0.35"/>
<rect x="80.6" y="557.3" width="0.85" height="0.85" fill="#000" opacity="0.18"/>
<rect x="74.7" y="564.4" width="0.85" height="0.85" fill="#000" opacity="0.29"/>
<rect x="80.7" y="539.5" width="0.85" height="0.85" fill="#000" opacity="0.12"/>
<rect x="79.4" y="543.9" width="0.85" height="0.85" fill="#000" opacity="0.16"/>
<rect x="64.4" y="565.7" width="0.85" height="0.85" fill="#000" opacity="0.20"/>
<rect x="71.4" y="567.4" width="0.85" height="0.85" fill="#000" opacity="0.38"/>
<rect x="76.7" y="554.3" width="0.85" height="0.85" fill="#000" opacity="0.32"/>
<rect x="80.0" y="542.5" width="0.85" height="0.85" fill="#000" opacity="0.32"/>
<rect x="75.7" y="556.4" width="0.85" height="0.85" fill="#000" opacity="0.27"/>
<rect x="78.7" y="540.2" width="0.85" height="0.85" fill="#000" opacity="0.33"/>
<rect x="85.6" y="552.0" width="0.85" height="0.85" fill="#000" opacity="0.21"/>
<rect x="90.4" y="559.4" width="0.85" height="0.85" fill="#000" opacity="0.14"/>
<rect x="82.2" y="569.7" width="0.85" height="0.85" fill="#000" opacity="0.37"/>
<rect x="83.7" y="547.4" width="0.85" height="0.85" fill="#000" opacity="0.36"/>
<rect x="84.6" y="562.7" width="0.85" height="0.85" fill="#000" opacity="0.36"/>
<rect x="80.1" y="555.8" width="0.85" height="0.85" fill="#000" opacity="0.29"/>
<rect x="85.7" y="540.7" width="0.85" height="0.85" fill="#000" opacity="0.37"/>
<rect x="73.8" y="553.6" width="0.85" height="0.85" fill="#000" opacity="0.13"/>
<rect x="77.1" y="573.2" width="0.85" height="0.85" fill="#000" opacity="0.12"/>
<rect x="81.1" y="559.1" width="0.85" height="0.85" fill="#000" opacity="0.11"/>
<rect x="77.8" y="556.7" width="0.85" height="0.85" fill="#000" opacity="0.13"/>
<rect x="72.1" y="549.0" width="0.85" height="0.85" fill="#000" opacity="0.26"/>
<rect x="79.5" y="539.4" width="0.85" height="0.85" fill="#000" opacity="0.37"/>
<rect x="82.5" y="554.3" width="0.85" height="0.85" fill="#000" opacity="0.12"/>
<rect x="75.5" y="566.0" width="0.85" height="0.85" fill="#000" opacity="0.36"/>
<rect x="75.7" y="550.9" width="0.85" height="0.85" fill="#000" opacity="0.19"/>
<rect x="74.7" y="547.7" width="0.85" height="0.85" fill="#000" opacity="0.32"/>
<rect x="85.1" y="549.2" width="0.85" height="0.85" fill="#000" opacity="0.27"/>
<rect x="82.6" y="542.2" width="0.85" height="0.85" fill="#000" opacity="0.15"/>
<rect x="93.5" y="542.0" width="0.85" height="0.85" fill="#000" opacity="0.11"/>
<rect x="79.5" y="541.4" width="0.85" height="0.85" fill="#000" opacity="0.11"/>
<rect x="80.8" y="556.0" width="0.85" height="0.85" fill="#000" opacity="0.31"/>
<rect x="79.3" y="552.8" width="0.85" height="0.85" fill="#000" opacity="0.16"/>
<rect x="81.0" y="540.4" width="0.85" height="0.85" fill="#000" opacity="0.28"/>
<rect x="75.5" y="552.3" width="0.85" height="0.85" fill="#000" opacity="0.10"/>
<rect x="78.5" y="553.6" width="0.85" height="0.85" fill="#000" opacity="0.17"/>
<rect x="75.1" y="544.8" width="0.85" height="0.85" fill="#000" opacity="0.23"/>
<rect x="75.5" y="545.2" width="0.85" height="0.85" fill="#000" opacity="0.20"/>
<rect x="84.5" y="542.6" width="0.85" height="0.85" fill="#000" opacity="0.22"/>
<rect x="73.0" y="548.4" width="0.85" height="0.85" fill="#000" opacity="0.19"/>
<rect x="82.5" y="547.4" width="0.85" height="0.85" fill="#000" opacity="0.36"/>
<rect x="86.0" y="535.3" width="0.85" height="0.85" fill="#000" opacity="0.15"/>
<rect x="62.9" y="549.5" width="0.85" height="0.85" fill="#000" opacity="0.18"/>
<rect x="83.3" y="564.4" width="0.85" height="0.85" fill="#000" opacity="0.17"/>
<rect x="76.2" y="548.2" width="0.85" height="0.85" fill="#000" opacity="0.37"/>
<rect x="78.5" y="555.2" width="0.85" height="0.85" fill="#000" opacity="0.29"/>
<rect x="74.9" y="561.0" width="0.85" height="0.85" fill="#000" opacity="0.24"/>
<rect x="84.9" y="545.7" width="0.85" height="0.85" fill="#000" opacity="0.21"/>
<rect x="85.6" y="551.1" width="0.85" height="0.85" fill="#000" opacity="0.18"/>
<rect x="71.9" y="545.0" width="0.85" height="0.85" fill="#000" opacity="0.23"/>
<rect x="84.5" y="557.0" width="0.85" height="0.85" fill="#000" opacity="0.23"/>
<rect x="69.6" y="531.5" width="0.85" height="0.85" fill="#000" opacity="0.18"/>
<rect x="76.8" y="552.4" width="0.85" height="0.85" fill="#000" opacity="0.32"/>
<rect x="80.0" y="568.8" width="0.85" height="0.85" fill="#000" opacity="0.32"/>
<rect x="78.6" y="571.5" width="0.85" height="0.85" fill="#000" opacity="0.24"/>
<rect x="72.6" y="556.4" width="0.85" height="0.85" fill="#000" opacity="0.36"/>
<rect x="72.6" y="551.7" width="0.85" height="0.85" fill="#000" opacity="0.18"/>
<rect x="82.6" y="541.6" width="0.85" height="0.85" fill="#000" opacity="0.20"/>
<rect x="80.3" y="557.2" width="0.85" height="0.85" fill="#000" opacity="0.33"/>
<rect x="84.1" y="526.1" width="0.85" height="0.85" fill="#000" opacity="0.36"/>
<rect x="75.0" y="535.4" width="0.85" height="0.85" fill="#000" opacity="0.30"/>
<rect x="82.7" y="535.1" width="0.85" height="0.85" fill="#000" opacity="0.15"/>
<rect x="80.9" y="543.6" width="0.85" height="0.85" fill="#000" opacity="0.17"/>
<rect x="80.1" y="550.0" width="0.85" height="0.85" fill="#000" opacity="0.24"/>
<rect x="73.5" y="565.0" width="0.85" height="0.85" fill="#000" opacity="0.27"/>
<rect x="90.0" y="539.3" width="0.85" height="0.85" fill="#000" opacity="0.28"/>
<rect x="86.6" y="556.6" width="0.85" height="0.85" fill="#000" opacity="0.13"/>
<rect x="90.3" y="548.9" width="0.85" height="0.85" fill="#000" opacity="0.19"/>
<rect x="82.4" y="564.5" width="0.85" height="0.85" fill="#000" opacity="0.31"/>
<rect x="86.8" y="549.8" width="0.85" height="0.85" fill="#000" opacity="0.14"/>
<rect x="78.7" y="547.7" width="0.85" height="0.85" fill="#000" opacity="0.34"/>
<rect x="80.1" y="534.4" width="0.85" height="0.85" fill="#000" opacity="0.34"/>
<rect x="66.8" y="541.4" width="0.85" height="0.85" fill="#000" opacity="0.28"/>
<rect x="73.5" y="551.5" width="0.85" height="0.85" fill="#000" opacity="0.20"/>
<rect x="82.3" y="551.8" width="0.85" height="0.85" fill="#000" opacity="0.32"/>
<rect x="80.1" y="564.7" width="0.85" height="0.85" fill="#000" opacity="0.32"/>
<rect x="76.7" y="540.2" width="0.85" height="0.85" fill="#000" opacity="0.19"/>
<rect x="78.5" y="557.1" width="0.85" height="0.85" fill="#000" opacity="0.28"/>
<rect x="73.8" y="530.1" width="0.85" height="0.85" fill="#000" opacity="0.19"/>
<rect x="90.1" y="541.7" width="0.85" height="0.85" fill="#000" opacity="0.18"/>
<rect x="86.4" y="547.1" width="0.85" height="0.85" fill="#000" opacity="0.37"/>
<rect x="79.8" y="542.5" width="0.85" height="0.85" fill="#000" opacity="0.18"/>
<rect x="72.6" y="549.4" width="0.85" height="0.85" fill="#000" opacity="0.11"/>
<rect x="83.5" y="542.1" width="0.85" height="0.85" fill="#000" opacity="0.23"/>
<rect x="78.9" y="543.8" width="0.85" height="0.85" fill="#000" opacity="0.16"/>
<rect x="75.4" y="547.6" width="0.85" height="0.85" fill="#000" opacity="0.19"/>
<rect x="80.7" y="552.3" width="0.85" height="0.85" fill="#000" opacity="0.20"/>
<rect x="65.5" y="547.1" width="0.85" height="0.85" fill="#000" opacity="0.28"/>
<rect x="74.1" y="556.0" width="0.85" height="0.85" fill="#000" opacity="0.17"/>
<rect x="65.0" y="554.9" width="0.85" height="0.85" fill="#000" opacity="0.13"/>
<rect x="71.2" y="556.9" width="0.85" height="0.85" fill="#000" opacity="0.31"/>
<rect x="71.5" y="546.4" width="0.85" height="0.85" fill="#000" opacity="0.36"/>
<rect x="82.5" y="546.8" width="0.85" height="0.85" fill="#000" opacity="0.25"/>
<rect x="85.9" y="550.8" width="0.85" height="0.85" fill="#000" opacity="0.15"/>
<rect x="79.2" y="547.8" width="0.85" height="0.85" fill="#000" opacity="0.14"/>
<rect x="74.8" y="548.6" width="0.85" height="0.85" fill="#000" opacity="0.30"/>
<rect x="78.3" y="542.8" width="0.85" height="0.85" fill="#000" opacity="0.31"/>
<rect x="73.7" y="539.1" width="0.85" height="0.85" fill="#000" opacity="0.23"/>
<rect x="76.6" y="552.9" width="0.85" height="0.85" fill="#000" opacity="0.23"/>
<rect x="90.3" y="545.4" width="0.85" height="0.85" fill="#000" opacity="0.12"/>
<rect x="83.0" y="554.2" width="0.85" height="0.85" fill="#000" opacity="0.29"/>
<rect x="76.3" y="552.9" width="0.85" height="0.85" fill="#000" opacity="0.22"/>
<rect x="70.7" y="544.0" width="0.85" height="0.85" fill="#000" opacity="0.21"/>
<rect x="74.0" y="539.4" width="0.85" height="0.85" fill="#000" opacity="0.27"/>
<rect x="87.4" y="555.3" width="0.85" height="0.85" fill="#000" opacity="0.14"/>
<rect x="85.0" y="554.6" width="0.85" height="0.85" fill="#000" opacity="0.10"/>
<rect x="84.0" y="555.2" width="0.85" height="0.85" fill="#000" opacity="0.23"/>
<rect x="89.9" y="565.5" width="0.85" height="0.85" fill="#000" opacity="0.34"/>
<rect x="71.6" y="552.1" width="0.85" height="0.85" fill="#000" opacity="0.19"/>
<rect x="81.8" y="550.5" width="0.85" height="0.85" fill="#000" opacity="0.19"/>
<rect x="81.0" y="569.7" width="0.85" height="0.85" fill="#000" opacity="0.24"/>
<rect x="74.2" y="556.1" width="0.85" height="0.85" fill="#000" opacity="0.35"/>
<rect x="78.5" y="567.8" width="0.85" height="0.85" fill="#000" opacity="0.30"/>
<rect x="73.9" y="553.9" width="0.85" height="0.85" fill="#000" opacity="0.22"/>
<rect x="74.3" y="553.4" width="0.85" height="0.85" fill="#000" opacity="0.27"/>
<rect x="75.0" y="555.3" width="0.85" height="0.85" fill="#000" opacity="0.32"/>
<rect x="72.9" y="554.0" width="0.85" height="0.85" fill="#000" opacity="0.35"/>
<rect x="73.8" y="553.6" width="0.85" height="0.85" fill="#000" opacity="0.35"/>
<rect x="88.7" y="548.5" width="0.85" height="0.85" fill="#000" opacity="0.21"/>
<rect x="74.6" y="537.3" width="0.85" height="0.85" fill="#000" opacity="0.18"/>
<rect x="76.8" y="528.1" width="0.85" height="0.85" fill="#000" opacity="0.28"/>
<rect x="76.1" y="542.1" width="0.85" height="0.85" fill="#000" opacity="0.28"/>
<rect x="80.4" y="567.1" width="0.85" height="0.85" fill="#000" opacity="0.25"/>
<rect x="84.1" y="549.9" width="0.85" height="0.85" fill="#000" opacity="0.30"/>
<rect x="84.8" y="552.0" width="0.85" height="0.85" fill="#000" opacity="0.31"/>
<rect x="78.5" y="564.1" width="0.85" height="0.85" fill="#000" opacity="0.16"/>
<rect x="64.7" y="569.0" width="0.85" height="0.85" fill="#000" opacity="0.16"/>
<rect x="80.7" y="549.3" width="0.85" height="0.85" fill="#000" opacity="0.26"/>
<rect x="83.6" y="534.7" width="0.85" height="0.85" fill="#000" opacity="0.21"/>
<rect x="71.5" y="542.9" width="0.85" height="0.85" fill="#000" opacity="0.31"/>
<rect x="78.8" y="538.5" width="0.85" height="0.85" fill="#000" opacity="0.17"/>
<rect x="77.0" y="539.3" width="0.85" height="0.85" fill="#000" opacity="0.25"/>
<rect x="82.0" y="550.6" width="0.85" height="0.85" fill="#000" opacity="0.32"/>
<rect x="74.9" y="564.6" width="0.85" height="0.85" fill="#000" opacity="0.37"/>
<rect x="77.9" y="563.1" width="0.85" height="0.85" fill="#000" opacity="0.25"/>
<rect x="75.6" y="551.2" width="0.85" height="0.85" fill="#000" opacity="0.28"/>
<rect x="85.5" y="542.3" width="0.85" height="0.85" fill="#000" opacity="0.18"/>
<rect x="81.0" y="541.7" width="0.85" height="0.85" fill="#000" opacity="0.14"/>
<rect x="74.1" y="544.5" width="0.85" height="0.85" fill="#000" opacity="0.25"/>
<rect x="86.3" y="550.3" width="0.85" height="0.85" fill="#000" opacity="0.37"/>
<rect x="73.3" y="563.8" width="0.85" height="0.85" fill="#000" opacity="0.12"/>
<rect x="76.3" y="564.9" width="0.85" height="0.85" fill="#000" opacity="0.29"/>
<rect x="81.6" y="542.8" width="0.85" height="0.85" fill="#000" opacity="0.18"/>
<rect x="74.6" y="560.2" width="0.85" height="0.85" fill="#000" opacity="0.11"/>
<rect x="73.2" y="560.9" width="0.85" height="0.85" fill="#000" opacity="0.14"/>
<rect x="74.7" y="568.9" width="0.85" height="0.85" fill="#000" opacity="0.36"/>
<rect x="79.0" y="556.9" width="0.85" height="0.85" fill="#000" opacity="0.13"/>
<rect x="87.5" y="559.7" width="0.85" height="0.85" fill="#000" opacity="0.31"/>
<rect x="78.4" y="562.0" width="0.85" height="0.85" fill="#000" opacity="0.29"/>
<rect x="89.2" y="554.1" width="0.85" height="0.85" fill="#000" opacity="0.34"/>
<rect x="81.1" y="565.4" width="0.85" height="0.85" fill="#000" opacity="0.30"/>
<rect x="73.0" y="567.7" width="0.85" height="0.85" fill="#000" opacity="0.16"/>
<rect x="74.2" y="552.3" width="0.85" height="0.85" fill="#000" opacity="0.22"/>
<rect x="81.8" y="539.6" width="0.85" height="0.85" fill="#000" opacity="0.27"/>
<rect x="83.0" y="550.4" width="0.85" height="0.85" fill="#000" opacity="0.16"/>
<rect x="76.7" y="547.3" width="0.85" height="0.85" fill="#000" opacity="0.37"/>
<rect x="75.7" y="559.6" width="0.85" height="0.85" fill="#000" opacity="0.22"/>
<rect x="84.8" y="532.4" width="0.85" height="0.85" fill="#000" opacity="0.29"/>
<rect x="81.5" y="558.8" width="0.85" height="0.85" fill="#000" opacity="0.30"/>
<rect x="81.5" y="570.2" width="0.85" height="0.85" fill="#000" opacity="0.34"/>
<rect x="79.8" y="559.9" width="0.85" height="0.85" fill="#000" opacity="0.16"/>
<rect x="78.7" y="548.1" width="0.85" height="0.85" fill="#000" opacity="0.29"/>
<rect x="88.9" y="558.0" width="0.85" height="0.85" fill="#000" opacity="0.25"/>
<rect x="76.8" y="548.9" width="0.85" height="0.85" fill="#000" opacity="0.11"/>
<rect x="69.2" y="572.9" width="0.85" height="0.85" fill="#000" opacity="0.27"/>
<rect x="80.3" y="548.4" width="0.85" height="0.85" fill="#000" opacity="0.13"/>
<rect x="87.6" y="552.9" width="0.85" height="0.85" fill="#000" opacity="0.15"/>
<rect x="77.8" y="564.9" width="0.85" height="0.85" fill="#000" opacity="0.29"/>
<rect x="76.2" y="560.6" width="0.85" height="0.85" fill="#000" opacity="0.18"/>
<rect x="74.1" y="547.7" width="0.85" height="0.85" fill="#000" opacity="0.20"/>
<rect x="79.0" y="558.9" width="0.85" height="0.85" fill="#000" opacity="0.17"/>
<rect x="83.8" y="551.8" width="0.85" height="0.85" fill="#000" opacity="0.27"/>
<rect x="78.7" y="555.6" width="0.85" height="0.85" fill="#000" opacity="0.34"/>
<rect x="72.4" y="553.2" width="0.85" height="0.85" fill="#000" opacity="0.19"/>
<rect x="86.1" y="540.6" width="0.85" height="0.85" fill="#000" opacity="0.27"/>
<rect x="74.4" y="538.7" width="0.85" height="0.85" fill="#000" opacity="0.24"/>
<rect x="74.2" y="555.9" width="0.85" height="0.85" fill="#000" opacity="0.24"/>
<rect x="72.3" y="553.3" width="0.85" height="0.85" fill="#000" opacity="0.25"/>
<rect x="81.8" y="531.5" width="0.85" height="0.85" fill="#000" opacity="0.16"/>
<rect x="83.7" y="552.1" width="0.85" height="0.85" fill="#000" opacity="0.11"/>
<rect x="81.2" y="538.3" width="0.85" height="0.85" fill="#000" opacity="0.18"/>
<rect x="83.1" y="568.9" width="0.85" height="0.85" fill="#000" opacity="0.33"/>
<rect x="75.5" y="537.7" width="0.85" height="0.85" fill="#000" opacity="0.31"/>
<rect x="73.6" y="553.7" width="0.85" height="0.85" fill="#000" opacity="0.25"/>
<rect x="91.6" y="531.0" width="0.85" height="0.85" fill="#000" opacity="0.36"/>
<rect x="80.1" y="547.8" width="0.85" height="0.85" fill="#000" opacity="0.17"/>
<rect x="85.9" y="548.8" width="0.85" height="0.85" fill="#000" opacity="0.24"/>
<rect x="74.9" y="568.6" width="0.85" height="0.85" fill="#000" opacity="0.24"/>
<rect x="81.2" y="550.8" width="0.85" height="0.85" fill="#000" opacity="0.38"/>
<rect x="82.2" y="551.5" width="0.85" height="0.85" fill="#000" opacity="0.21"/>
<rect x="77.3" y="547.5" width="0.85" height="0.85" fill="#000" opacity="0.26"/>
<rect x="84.6" y="547.2" width="0.85" height="0.85" fill="#000" opacity="0.31"/>
<rect x="72.8" y="544.1" width="0.85" height="0.85" fill="#000" opacity="0.15"/>
<rect x="67.3" y="555.6" width="0.85" height="0.85" fill="#000" opacity="0.29"/>
<rect x="80.3" y="561.1" width="0.85" height="0.85" fill="#000" opacity="0.25"/>
<rect x="75.2" y="561.7" width="0.85" height="0.85" fill="#000" opacity="0.28"/>
<rect x="82.9" y="551.7" width="0.85" height="0.85" fill="#000" opacity="0.28"/>
<rect x="79.5" y="554.6" width="0.85" height="0.85" fill="#000" opacity="0.31"/>
<rect x="71.9" y="571.7" width="0.85" height="0.85" fill="#000" opacity="0.26"/>
<rect x="85.4" y="559.0" width="0.85" height="0.85" fill="#000" opacity="0.17"/>
<rect x="82.5" y="537.0" width="0.85" height="0.85" fill="#000" opacity="0.31"/>
<rect x="80.4" y="551.9" width="0.85" height="0.85" fill="#000" opacity="0.32"/>
<rect x="81.4" y="555.9" width="0.85" height="0.85" fill="#000" opacity="0.11"/>
<rect x="82.3" y="560.2" width="0.85" height="0.85" fill="#000" opacity="0.37"/>
<rect x="77.1" y="557.6" width="0.85" height="0.85" fill="#000" opacity="0.33"/>
<rect x="82.2" y="563.4" width="0.85" height="0.85" fill="#000" opacity="0.27"/>
<rect x="80.5" y="549.9" width="0.85" height="0.85" fill="#000" opacity="0.26"/>
<rect x="71.3" y="562.9" width="0.85" height="0.85" fill="#000" opacity="0.17"/>
<rect x="78.2" y="545.1" width="0.85" height="0.85" fill="#000" opacity="0.24"/>
<rect x="83.1" y="549.6" width="0.85" height="0.85" fill="#000" opacity="0.18"/>
<rect x="86.3" y="543.9" width="0.85" height="0.85" fill="#000" opacity="0.12"/>
<rect x="80.6" y="557.4" width="0.85" height="0.85" fill="#000" opacity="0.18"/>
<rect x="83.9" y="538.8" width="0.85" height="0.85" fill="#000" opacity="0.37"/>
<rect x="75.2" y="539.3" width="0.85" height="0.85" fill="#000" opacity="0.21"/>
<rect x="77.7" y="540.2" width="0.85" height="0.85" fill="#000" opacity="0.12"/>
<rect x="73.5" y="551.5" width="0.85" height="0.85" fill="#000" opacity="0.25"/>
<rect x="80.3" y="551.7" width="0.85" height="0.85" fill="#000" opacity="0.38"/>
<rect x="75.5" y="557.2" width="0.85" height="0.85" fill="#000" opacity="0.14"/>
<rect x="68.6" y="539.4" width="0.85" height="0.85" fill="#000" opacity="0.15"/>
<rect x="72.4" y="551.0" width="0.85" height="0.85" fill="#000" opacity="0.31"/>
<rect x="75.2" y="548.2" width="0.85" height="0.85" fill="#000" opacity="0.15"/>
<rect x="78.6" y="547.2" width="0.85" height="0.85" fill="#000" opacity="0.34"/>
<rect x="82.6" y="552.3" width="0.85" height="0.85" fill="#000" opacity="0.23"/>
<rect x="83.3" y="540.0" width="0.85" height="0.85" fill="#000" opacity="0.31"/>
<rect x="79.6" y="535.8" width="0.85" height="0.85" fill="#000" opacity="0.11"/>
<rect x="80.4" y="546.2" width="0.85" height="0.85" fill="#000" opacity="0.15"/>
<rect x="80.3" y="551.5" width="0.85" height="0.85" fill="#000" opacity="0.35"/>
<rect x="77.3" y="553.7" width="0.85" height="0.85" fill="#000" opacity="0.11"/>
<rect x="83.3" y="540.4" width="0.85" height="0.85" fill="#000" opacity="0.36"/>
<rect x="81.7" y="552.1" width="0.85" height="0.85" fill="#000" opacity="0.18"/>
<rect x="80.0" y="555.3" width="0.85" height="0.85" fill="#000" opacity="0.16"/>
<rect x="76.8" y="546.6" width="0.85" height="0.85" fill="#000" opacity="0.15"/>
<rect x="73.7" y="549.0" width="0.85" height="0.85" fill="#000" opacity="0.14"/>
<rect x="72.9" y="546.3" width="0.85" height="0.85" fill="#000" opacity="0.21"/>
<rect x="77.4" y="551.4" width="0.85" height="0.85" fill="#000" opacity="0.27"/>
<rect x="80.8" y="559.1" width="0.85" height="0.85" fill="#000" opacity="0.10"/>
<rect x="84.7" y="542.8" width="0.85" height="0.85" fill="#000" opacity="0.21"/>
<rect x="66.2" y="545.1" width="0.85" height="0.85" fill="#000" opacity="0.14"/>
<rect x="72.5" y="561.0" width="0.85" height="0.85" fill="#000" opacity="0.20"/>
<rect x="75.7" y="531.0" width="0.85" height="0.85" fill="#000" opacity="0.11"/>
<rect x="78.0" y="558.7" width="0.85" height="0.85" fill="#000" opacity="0.31"/>
<rect x="80.9" y="536.6" width="0.85" height="0.85" fill="#000" opacity="0.36"/>
<rect x="81.2" y="559.7" width="0.85" height="0.85" fill="#000" opacity="0.34"/>
<rect x="79.3" y="546.4" width="0.85" height="0.85" fill="#000" opacity="0.37"/>
<rect x="78.3" y="532.0" width="0.85" height="0.85" fill="#000" opacity="0.20"/>
<rect x="67.9" y="536.2" width="0.85" height="0.85" fill="#000" opacity="0.35"/>
<rect x="68.6" y="541.7" width="0.85" height="0.85" fill="#000" opacity="0.38"/>
<rect x="83.3" y="539.2" width="0.85" height="0.85" fill="#000" opacity="0.37"/>
<rect x="82.5" y="558.6" width="0.85" height="0.85" fill="#000" opacity="0.26"/>
<rect x="85.6" y="563.2" width="0.85" height="0.85" fill="#000" opacity="0.12"/>
<rect x="75.9" y="545.4" width="0.85" height="0.85" fill="#000" opacity="0.19"/>
<rect x="76.1" y="547.1" width="0.85" height="0.85" fill="#000" opacity="0.23"/>
<rect x="89.3" y="529.1" width="0.85" height="0.85" fill="#000" opacity="0.17"/>
<rect x="73.3" y="561.9" width="0.85" height="0.85" fill="#000" opacity="0.15"/>
<rect x="81.2" y="545.9" width="0.85" height="0.85" fill="#000" opacity="0.26"/>
<rect x="78.9" y="551.4" width="0.85" height="0.85" fill="#000" opacity="0.10"/>
<rect x="84.0" y="551.1" width="0.85" height="0.85" fill="#000" opacity="0.18"/>
<rect x="87.0" y="550.3" width="0.85" height="0.85" fill="#000" opacity="0.12"/>
<rect x="78.1" y="544.2" width="0.85" height="0.85" fill="#000" opacity="0.23"/>
<rect x="77.1" y="532.6" width="0.85" height="0.85" fill="#000" opacity="0.36"/>
<rect x="74.7" y="555.0" width="0.85" height="0.85" fill="#000" opacity="0.21"/>
<rect x="75.5" y="565.4" width="0.85" height="0.85" fill="#000" opacity="0.23"/>
<rect x="77.7" y="546.0" width="0.85" height="0.85" fill="#000" opacity="0.32"/>
<rect x="82.7" y="549.7" width="0.85" height="0.85" fill="#000" opacity="0.27"/>
<rect x="79.8" y="553.2" width="0.85" height="0.85" fill="#000" opacity="0.22"/>
<rect x="82.7" y="565.1" width="0.85" height="0.85" fill="#000" opacity="0.26"/>
<rect x="72.3" y="528.8" width="0.85" height="0.85" fill="#000" opacity="0.12"/>
<rect x="80.2" y="552.5" width="0.85" height="0.85" fill="#000" opacity="0.23"/>
<rect x="82.8" y="538.1" width="0.85" height="0.85" fill="#000" opacity="0.25"/>
<rect x="82.3" y="543.8" width="0.85" height="0.85" fill="#000" opacity="0.13"/>
<rect x="78.2" y="549.3" width="0.85" height="0.85" fill="#000" opacity="0.16"/>
<rect x="82.3" y="552.0" width="0.85" height="0.85" fill="#000" opacity="0.12"/>
<rect x="76.1" y="550.0" width="0.85" height="0.85" fill="#000" opacity="0.27"/>
<rect x="81.3" y="543.2" width="0.85" height="0.85" fill="#000" opacity="0.13"/>
<rect x="74.7" y="537.5" width="0.85" height="0.85" fill="#000" opacity="0.35"/>
<rect x="72.0" y="546.8" width="0.85" height="0.85" fill="#000" opacity="0.34"/>
<rect x="72.3" y="527.9" width="0.85" height="0.85" fill="#000" opacity="0.18"/>
<rect x="80.2" y="537.7" width="0.85" height="0.85" fill="#000" opacity="0.23"/>
<rect x="85.4" y="551.7" width="0.85" height="0.85" fill="#000" opacity="0.17"/>
<rect x="73.6" y="544.2" width="0.85" height="0.85" fill="#000" opacity="0.24"/>
<rect x="81.8" y="552.8" width="0.85" height="0.85" fill="#000" opacity="0.27"/>
<rect x="71.9" y="524.6" width="0.85" height="0.85" fill="#000" opacity="0.32"/>
<rect x="77.5" y="561.1" width="0.85" height="0.85" fill="#000" opacity="0.24"/>
<rect x="80.9" y="542.0" width="0.85" height="0.85" fill="#000" opacity="0.36"/>
<rect x="73.4" y="552.0" width="0.85" height="0.85" fill="#000" opacity="0.23"/>
<rect x="65.1" y="580.5" width="0.85" height="0.85" fill="#000" opacity="0.11"/>
<rect x="77.2" y="553.3" width="0.85" height="0.85" fill="#000" opacity="0.29"/>
<rect x="80.9" y="555.4" width="0.85" height="0.85" fill="#000" opacity="0.22"/>
<rect x="71.4" y="541.3" width="0.85" height="0.85" fill="#000" opacity="0.22"/>
<rect x="77.5" y="559.7" width="0.85" height="0.85" fill="#000" opacity="0.35"/>
<rect x="79.2" y="552.4" width="0.85" height="0.85" fill="#000" opacity="0.35"/>
<rect x="76.0" y="551.5" width="0.85" height="0.85" fill="#000" opacity="0.14"/>
<rect x="86.2" y="541.0" width="0.85" height="0.85" fill="#000" opacity="0.12"/>
<rect x="77.2" y="545.1" width="0.85" height="0.85" fill="#000" opacity="0.22"/>
<rect x="77.6" y="549.1" width="0.85" height="0.85" fill="#000" opacity="0.36"/>
<rect x="77.4" y="555.6" width="0.85" height="0.85" fill="#000" opacity="0.32"/>
<rect x="80.2" y="552.7" width="0.85" height="0.85" fill="#000" opacity="0.28"/>
<rect x="67.2" y="554.8" width="0.85" height="0.85" fill="#000" opacity="0.32"/>
<rect x="79.5" y="553.8" width="0.85" height="0.85" fill="#000" opacity="0.27"/>
<rect x="74.3" y="552.5" width="0.85" height="0.85" fill="#000" opacity="0.36"/>
<rect x="81.1" y="564.2" width="0.85" height="0.85" fill="#000" opacity="0.12"/>
<rect x="91.1" y="540.3" width="0.85" height="0.85" fill="#000" opacity="0.27"/>
<rect x="75.2" y="564.8" width="0.85" height="0.85" fill="#000" opacity="0.35"/>
<rect x="79.4" y="548.4" width="0.85" height="0.85" fill="#000" opacity="0.24"/>
<rect x="83.5" y="560.2" width="0.85" height="0.85" fill="#000" opacity="0.37"/>
<rect x="81.8" y="545.6" width="0.85" height="0.85" fill="#000" opacity="0.25"/>
<rect x="77.6" y="556.3" width="0.85" height="0.85" fill="#000" opacity="0.31"/>
<rect x="79.3" y="542.4" width="0.85" height="0.85" fill="#000" opacity="0.22"/>
<rect x="76.0" y="536.5" width="0.85" height="0.85" fill="#000" opacity="0.23"/>
<rect x="80.8" y="553.9" width="0.85" height="0.85" fill="#000" opacity="0.15"/>
<rect x="82.0" y="541.1" width="0.85" height="0.85" fill="#000" opacity="0.28"/>
<rect x="75.5" y="557.9" width="0.85" height="0.85" fill="#000" opacity="0.15"/>
<rect x="86.5" y="548.9" width="0.85" height="0.85" fill="#000" opacity="0.14"/>
<rect x="76.8" y="538.7" width="0.85" height="0.85" fill="#000" opacity="0.27"/>
<rect x="80.0" y="538.1" width="0.85" height="0.85" fill="#000" opacity="0.35"/>
<rect x="84.6" y="549.2" width="0.85" height="0.85" fill="#000" opacity="0.28"/>
<rect x="74.9" y="557.9" width="0.85" height="0.85" fill="#000" opacity="0.20"/>
<rect x="75.9" y="543.9" width="0.85" height="0.85" fill="#000" opacity="0.20"/>
<rect x="84.7" y="537.0" width="0.85" height="0.85" fill="#000" opacity="0.29"/>
<rect x="82.1" y="543.2" width="0.85" height="0.85" fill="#000" opacity="0.28"/>
<rect x="79.0" y="559.3" width="0.85" height="0.85" fill="#000" opacity="0.13"/>
<rect x="82.8" y="530.6" width="0.85" height="0.85" fill="#000" opacity="0.18"/>
<rect x="77.0" y="554.3" width="0.85" height="0.85" fill="#000" opacity="0.14"/>
<rect x="71.4" y="535.7" width="0.85" height="0.85" fill="#000" opacity="0.12"/>
<rect x="78.7" y="567.0" width="0.85" height="0.85" fill="#000" opacity="0.16"/>
<rect x="82.8" y="544.8" width="0.85" height="0.85" fill="#000" opacity="0.23"/>
<rect x="80.4" y="558.5" width="0.85" height="0.85" fill="#000" opacity="0.22"/>
<rect x="77.4" y="566.1" width="0.85" height="0.85" fill="#000" opacity="0.11"/>
<rect x="72.5" y="537.9" width="0.85" height="0.85" fill="#000" opacity="0.19"/>
<rect x="80.0" y="555.5" width="0.85" height="0.85" fill="#000" opacity="0.12"/>
<rect x="81.0" y="538.5" width="0.85" height="0.85" fill="#000" opacity="0.10"/>
<rect x="71.8" y="554.7" width="0.85" height="0.85" fill="#000" opacity="0.19"/>
<rect x="84.7" y="553.2" width="0.85" height="0.85" fill="#000" opacity="0.20"/>
<rect x="84.2" y="549.4" width="0.85" height="0.85" fill="#000" opacity="0.36"/>
<rect x="83.9" y="541.8" width="0.85" height="0.85" fill="#000" opacity="0.14"/>
<rect x="79.9" y="547.1" width="0.85" height="0.85" fill="#000" opacity="0.26"/>
<rect x="81.0" y="553.4" width="0.85" height="0.85" fill="#000" opacity="0.21"/>
<rect x="88.7" y="575.5" width="0.85" height="0.85" fill="#000" opacity="0.26"/>
<rect x="90.2" y="536.7" width="0.85" height="0.85" fill="#000" opacity="0.31"/>
<rect x="75.1" y="542.5" width="0.85" height="0.85" fill="#000" opacity="0.32"/>
<rect x="77.4" y="546.1" width="0.85" height="0.85" fill="#000" opacity="0.25"/>
<rect x="73.2" y="556.9" width="0.85" height="0.85" fill="#000" opacity="0.30"/>
<rect x="76.3" y="539.6" width="0.85" height="0.85" fill="#000" opacity="0.32"/>
<rect x="80.1" y="547.3" width="0.85" height="0.85" fill="#000" opacity="0.14"/>
<rect x="82.2" y="552.6" width="0.85" height="0.85" fill="#000" opacity="0.37"/>
<rect x="76.8" y="560.5" width="0.85" height="0.85" fill="#000" opacity="0.23"/>
<rect x="74.8" y="548.0" width="0.85" height="0.85" fill="#000" opacity="0.32"/>
<rect x="73.7" y="567.0" width="0.85" height="0.85" fill="#000" opacity="0.32"/>
<rect x="86.1" y="551.1" width="0.85" height="0.85" fill="#000" opacity="0.13"/>
<rect x="80.6" y="548.6" width="0.85" height="0.85" fill="#000" opacity="0.17"/>
<rect x="79.9" y="538.4" width="0.85" height="0.85" fill="#000" opacity="0.29"/>
<rect x="73.2" y="557.0" width="0.85" height="0.85" fill="#000" opacity="0.16"/>
<rect x="74.8" y="552.7" width="0.85" height="0.85" fill="#000" opacity="0.29"/>
<rect x="81.4" y="554.2" width="0.85" height="0.85" fill="#000" opacity="0.16"/>
<rect x="71.8" y="548.4" width="0.85" height="0.85" fill="#000" opacity="0.10"/>
<rect x="89.6" y="549.5" width="0.85" height="0.85" fill="#000" opacity="0.21"/>
<rect x="84.7" y="565.9" width="0.85" height="0.85" fill="#000" opacity="0.37"/>
<rect x="83.1" y="565.4" width="0.85" height="0.85" fill="#000" opacity="0.33"/>
<rect x="82.5" y="548.5" width="0.85" height="0.85" fill="#000" opacity="0.13"/>
<rect x="81.1" y="556.9" width="0.85" height="0.85" fill="#000" opacity="0.35"/>
<rect x="84.4" y="545.2" width="0.85" height="0.85" fill="#000" opacity="0.14"/>
<rect x="76.5" y="556.6" width="0.85" height="0.85" fill="#000" opacity="0.28"/>
<rect x="77.2" y="534.9" width="0.85" height="0.85" fill="#000" opacity="0.22"/>
<rect x="72.9" y="553.9" width="0.85" height="0.85" fill="#000" opacity="0.20"/>
<rect x="70.8" y="555.0" width="0.85" height="0.85" fill="#000" opacity="0.30"/>
<rect x="75.7" y="561.9" width="0.85" height="0.85" fill="#000" opacity="0.14"/>
<rect x="84.3" y="553.6" width="0.85" height="0.85" fill="#000" opacity="0.20"/>
<rect x="81.2" y="551.8" width="0.85" height="0.85" fill="#000" opacity="0.22"/>
<rect x="89.0" y="544.6" width="0.85" height="0.85" fill="#000" opacity="0.11"/>
<rect x="76.8" y="559.3" width="0.85" height="0.85" fill="#000" opacity="0.19"/>
<rect x="83.9" y="560.6" width="0.85" height="0.85" fill="#000" opacity="0.33"/>
<rect x="76.4" y="555.0" width="0.85" height="0.85" fill="#000" opacity="0.13"/>
<rect x="88.5" y="552.5" width="0.85" height="0.85" fill="#000" opacity="0.16"/>
<rect x="77.4" y="534.4" width="0.85" height="0.85" fill="#000" opacity="0.12"/>
<rect x="80.8" y="558.7" width="0.85" height="0.85" fill="#000" opacity="0.32"/>
<rect x="78.6" y="543.0" width="0.85" height="0.85" fill="#000" opacity="0.23"/>
<rect x="75.1" y="559.5" width="0.85" height="0.85" fill="#000" opacity="0.32"/>
<rect x="78.2" y="568.3" width="0.85" height="0.85" fill="#000" opacity="0.36"/>
<rect x="67.6" y="536.8" width="0.85" height="0.85" fill="#000" opacity="0.36"/>
<rect x="87.2" y="576.8" width="0.85" height="0.85" fill="#000" opacity="0.16"/>
<rect x="80.0" y="546.5" width="0.85" height="0.85" fill="#000" opacity="0.18"/>
<rect x="69.0" y="557.5" width="0.85" height="0.85" fill="#000" opacity="0.29"/>
<rect x="82.4" y="570.4" width="0.85" height="0.85" fill="#000" opacity="0.34"/>
<rect x="77.2" y="550.8" width="0.85" height="0.85" fill="#000" opacity="0.18"/>
<rect x="77.5" y="560.5" width="0.85" height="0.85" fill="#000" opacity="0.36"/>
<rect x="70.4" y="541.1" width="0.85" height="0.85" fill="#000" opacity="0.12"/>
<rect x="79.3" y="566.4" width="0.85" height="0.85" fill="#000" opacity="0.20"/>
<rect x="79.3" y="554.4" width="0.85" height="0.85" fill="#000" opacity="0.11"/>
<rect x="73.0" y="557.3" width="0.85" height="0.85" fill="#000" opacity="0.21"/>
<rect x="74.7" y="547.9" width="0.85" height="0.85" fill="#000" opacity="0.10"/>
<rect x="76.7" y="543.4" width="0.85" height="0.85" fill="#000" opacity="0.24"/>
<rect x="75.8" y="556.2" width="0.85" height="0.85" fill="#000" opacity="0.11"/>
<rect x="77.6" y="558.7" width="0.85" height="0.85" fill="#000" opacity="0.13"/>
<rect x="85.3" y="553.0" width="0.85" height="0.85" fill="#000" opacity="0.11"/>
<rect x="82.8" y="544.8" width="0.85" height="0.85" fill="#000" opacity="0.22"/>
<rect x="77.8" y="550.7" width="0.85" height="0.85" fill="#000" opacity="0.13"/>
<rect x="80.6" y="539.2" width="0.85" height="0.85" fill="#000" opacity="0.24"/>
<rect x="73.8" y="564.2" width="0.85" height="0.85" fill="#000" opacity="0.24"/>
<rect x="81.8" y="533.6" width="0.85" height="0.85" fill="#000" opacity="0.35"/>
<rect x="77.7" y="536.9" width="0.85" height="0.85" fill="#000" opacity="0.23"/>
<rect x="71.8" y="548.4" width="0.85" height="0.85" fill="#000" opacity="0.25"/>
<rect x="83.7" y="534.0" width="0.85" height="0.85" fill="#000" opacity="0.11"/>
<rect x="79.1" y="537.9" width="0.85" height="0.85" fill="#000" opacity="0.27"/>
<rect x="80.5" y="549.3" width="0.85" height="0.85" fill="#000" opacity="0.23"/>
<rect x="69.3" y="567.3" width="0.85" height="0.85" fill="#000" opacity="0.15"/>
<rect x="76.1" y="549.0" width="0.85" height="0.85" fill="#000" opacity="0.31"/>
<rect x="69.9" y="552.1" width="0.85" height="0.85" fill="#000" opacity="0.19"/>
<rect x="79.5" y="550.2" width="0.85" height="0.85" fill="#000" opacity="0.16"/>
<rect x="77.8" y="531.6" width="0.85" height="0.85" fill="#000" opacity="0.32"/>
<rect x="78.6" y="554.9" width="0.85" height="0.85" fill="#000" opacity="0.30"/>
<rect x="78.8" y="547.7" width="0.85" height="0.85" fill="#000" opacity="0.36"/>
<rect x="77.6" y="550.6" width="0.85" height="0.85" fill="#000" opacity="0.23"/>
<rect x="77.6" y="554.8" width="0.85" height="0.85" fill="#000" opacity="0.35"/>
<rect x="81.6" y="549.0" width="0.85" height="0.85" fill="#000" opacity="0.22"/>
<rect x="77.8" y="565.0" width="0.85" height="0.85" fill="#000" opacity="0.13"/>
<rect x="76.1" y="559.5" width="0.85" height="0.85" fill="#000" opacity="0.23"/>
<rect x="72.1" y="556.1" width="0.85" height="0.85" fill="#000" opacity="0.36"/>
<rect x="90.1" y="542.4" width="0.85" height="0.85" fill="#000" opacity="0.33"/>
<rect x="79.6" y="558.0" width="0.85" height="0.85" fill="#000" opacity="0.23"/>
<rect x="74.2" y="540.8" width="0.85" height="0.85" fill="#000" opacity="0.20"/>
<rect x="83.8" y="550.6" width="0.85" height="0.85" fill="#000" opacity="0.11"/>
<rect x="82.2" y="554.5" width="0.85" height="0.85" fill="#000" opacity="0.30"/>
<rect x="79.9" y="548.7" width="0.85" height="0.85" fill="#000" opacity="0.17"/>
<rect x="79.5" y="567.7" width="0.85" height="0.85" fill="#000" opacity="0.35"/>
<rect x="78.8" y="555.4" width="0.85" height="0.85" fill="#000" opacity="0.37"/>
<rect x="87.8" y="548.3" width="0.85" height="0.85" fill="#000" opacity="0.23"/>
<rect x="78.8" y="534.8" width="0.85" height="0.85" fill="#000" opacity="0.24"/>
<rect x="78.1" y="562.5" width="0.85" height="0.85" fill="#000" opacity="0.29"/>
<rect x="75.4" y="563.1" width="0.85" height="0.85" fill="#000" opacity="0.14"/>
<rect x="82.8" y="549.8" width="0.85" height="0.85" fill="#000" opacity="0.16"/>
<rect x="92.3" y="545.3" width="0.85" height="0.85" fill="#000" opacity="0.36"/>
<rect x="84.9" y="535.5" width="0.85" height="0.85" fill="#000" opacity="0.33"/>
<rect x="77.0" y="549.5" width="0.85" height="0.85" fill="#000" opacity="0.30"/>
<rect x="84.5" y="535.4" width="0.85" height="0.85" fill="#000" opacity="0.11"/>
<rect x="87.4" y="556.8" width="0.85" height="0.85" fill="#000" opacity="0.24"/>
<rect x="92.4" y="533.0" width="0.85" height="0.85" fill="#000" opacity="0.23"/>
<rect x="75.3" y="538.5" width="0.85" height="0.85" fill="#000" opacity="0.29"/>
<rect x="73.6" y="561.0" width="0.85" height="0.85" fill="#000" opacity="0.12"/>
<rect x="86.3" y="542.1" width="0.85" height="0.85" fill="#000" opacity="0.32"/>
<rect x="75.3" y="552.5" width="0.85" height="0.85" fill="#000" opacity="0.23"/>
<rect x="76.0" y="540.1" width="0.85" height="0.85" fill="#000" opacity="0.13"/>
<rect x="84.6" y="551.2" width="0.85" height="0.85" fill="#000" opacity="0.17"/>
<rect x="79.6" y="557.7" width="0.85" height="0.85" fill="#000" opacity="0.22"/>
<rect x="74.8" y="531.2" width="0.85" height="0.85" fill="#000" opacity="0.29"/>
<rect x="90.2" y="553.5" width="0.85" height="0.85" fill="#000" opacity="0.27"/>
<rect x="78.1" y="538.0" width="0.85" height="0.85" fill="#000" opacity="0.20"/>
<rect x="77.9" y="554.1" width="0.85" height="0.85" fill="#000" opacity="0.29"/>
<rect x="87.0" y="555.8" width="0.85" height="0.85" fill="#000" opacity="0.36"/>
<rect x="75.2" y="539.7" width="0.85" height="0.85" fill="#000" opacity="0.33"/>
<rect x="88.9" y="546.6" width="0.85" height="0.85" fill="#000" opacity="0.38"/>
<rect x="78.1" y="551.4" width="0.85" height="0.85" fill="#000" opacity="0.27"/>
<rect x="71.8" y="536.5" width="0.85" height="0.85" fill="#000" opacity="0.27"/>
<rect x="78.6" y="551.7" width="0.85" height="0.85" fill="#000" opacity="0.33"/>
<rect x="67.5" y="531.5" width="0.85" height="0.85" fill="#000" opacity="0.27"/>
<rect x="84.8" y="537.9" width="0.85" height="0.85" fill="#000" opacity="0.38"/>
<rect x="67.4" y="555.8" width="0.85" height="0.85" fill="#000" opacity="0.21"/>
<rect x="84.0" y="551.6" width="0.85" height="0.85" fill="#000" opacity="0.20"/>
<rect x="84.6" y="550.5" width="0.85" height="0.85" fill="#000" opacity="0.18"/>
<rect x="78.1" y="547.0" width="0.85" height="0.85" fill="#000" opacity="0.19"/>
<rect x="76.7" y="554.0" width="0.85" height="0.85" fill="#000" opacity="0.27"/>
<rect x="70.1" y="559.0" width="0.85" height="0.85" fill="#000" opacity="0.20"/>
<rect x="82.7" y="550.1" width="0.85" height="0.85" fill="#000" opacity="0.25"/>
<rect x="79.1" y="552.6" width="0.85" height="0.85" fill="#000" opacity="0.18"/>
<rect x="82.7" y="546.2" width="0.85" height="0.85" fill="#000" opacity="0.24"/>
<rect x="74.6" y="549.9" width="0.85" height="0.85" fill="#000" opacity="0.25"/>
<rect x="83.8" y="554.5" width="0.85" height="0.85" fill="#000" opacity="0.18"/>
<rect x="82.8" y="536.1" width="0.85" height="0.85" fill="#000" opacity="0.30"/>
<rect x="69.7" y="540.3" width="0.85" height="0.85" fill="#000" opacity="0.31"/>
<rect x="81.8" y="552.7" width="0.85" height="0.85" fill="#000" opacity="0.31"/>
<rect x="88.0" y="526.8" width="0.85" height="0.85" fill="#000" opacity="0.32"/>
<rect x="83.0" y="561.3" width="0.85" height="0.85" fill="#000" opacity="0.27"/>
<rect x="76.6" y="547.9" width="0.85" height="0.85" fill="#000" opacity="0.37"/>
<rect x="74.6" y="550.5" width="0.85" height="0.85" fill="#000" opacity="0.37"/>
<rect x="77.4" y="553.4" width="0.85" height="0.85" fill="#000" opacity="0.29"/>
<rect x="78.8" y="557.7" width="0.85" height="0.85" fill="#000" opacity="0.18"/>
<rect x="75.2" y="545.8" width="0.85" height="0.85" fill="#000" opacity="0.29"/>
<rect x="93.2" y="534.7" width="0.85" height="0.85" fill="#000" opacity="0.35"/>
<rect x="82.8" y="547.6" width="0.85" height="0.85" fill="#000" opacity="0.33"/>
<rect x="85.2" y="557.7" width="0.85" height="0.85" fill="#000" opacity="0.12"/>
<rect x="90.1" y="564.5" width="0.85" height="0.85" fill="#000" opacity="0.14"/>
<rect x="77.6" y="539.6" width="0.85" height="0.85" fill="#000" opacity="0.10"/>
<rect x="79.5" y="547.8" width="0.85" height="0.85" fill="#000" opacity="0.35"/>
<rect x="81.7" y="540.9" width="0.85" height="0.85" fill="#000" opacity="0.22"/>
<rect x="87.6" y="553.6" width="0.85" height="0.85" fill="#000" opacity="0.11"/>
<rect x="66.4" y="547.5" width="0.85" height="0.85" fill="#000" opacity="0.29"/>
<rect x="85.7" y="561.1" width="0.85" height="0.85" fill="#000" opacity="0.30"/>
<rect x="74.4" y="565.3" width="0.85" height="0.85" fill="#000" opacity="0.26"/>
<rect x="73.1" y="557.0" width="0.85" height="0.85" fill="#000" opacity="0.18"/>
<rect x="76.3" y="570.4" width="0.85" height="0.85" fill="#000" opacity="0.20"/>
<rect x="79.7" y="542.0" width="0.85" height="0.85" fill="#000" opacity="0.15"/>
<rect x="93.4" y="551.2" width="0.85" height="0.85" fill="#000" opacity="0.31"/>
<rect x="86.4" y="549.6" width="0.85" height="0.85" fill="#000" opacity="0.12"/>
<rect x="79.9" y="553.6" width="0.85" height="0.85" fill="#000" opacity="0.27"/>
<rect x="68.9" y="534.6" width="0.85" height="0.85" fill="#000" opacity="0.18"/>
<rect x="79.4" y="557.7" width="0.85" height="0.85" fill="#000" opacity="0.14"/>
<rect x="85.4" y="553.0" width="0.85" height="0.85" fill="#000" opacity="0.22"/>
<rect x="69.7" y="568.2" width="0.85" height="0.85" fill="#000" opacity="0.19"/>
<rect x="82.2" y="540.6" width="0.85" height="0.85" fill="#000" opacity="0.13"/>
<rect x="86.5" y="553.4" width="0.85" height="0.85" fill="#000" opacity="0.34"/>
<rect x="87.3" y="555.6" width="0.85" height="0.85" fill="#000" opacity="0.17"/>
<rect x="74.9" y="534.4" width="0.85" height="0.85" fill="#000" opacity="0.30"/>
<rect x="79.1" y="556.5" width="0.85" height="0.85" fill="#000" opacity="0.37"/>
<rect x="90.0" y="540.1" width="0.85" height="0.85" fill="#000" opacity="0.25"/>
<rect x="84.1" y="553.9" width="0.85" height="0.85" fill="#000" opacity="0.35"/>
<rect x="83.3" y="554.2" width="0.85" height="0.85" fill="#000" opacity="0.11"/>
<rect x="82.8" y="544.9" width="0.85" height="0.85" fill="#000" opacity="0.12"/>
<rect x="76.7" y="556.0" width="0.85" height="0.85" fill="#000" opacity="0.22"/>
<rect x="72.9" y="541.7" width="0.85" height="0.85" fill="#000" opacity="0.13"/>
<rect x="77.1" y="550.3" width="0.85" height="0.85" fill="#000" opacity="0.22"/>
<rect x="80.6" y="544.1" width="0.85" height="0.85" fill="#000" opacity="0.33"/>
<rect x="79.2" y="560.5" width="0.85" height="0.85" fill="#000" opacity="0.32"/>
<rect x="86.1" y="551.3" width="0.85" height="0.85" fill="#000" opacity="0.25"/>
<rect x="76.0" y="528.5" width="0.85" height="0.85" fill="#000" opacity="0.29"/>
<rect x="79.6" y="557.2" width="0.85" height="0.85" fill="#000" opacity="0.23"/>
<rect x="77.6" y="562.8" width="0.85" height="0.85" fill="#000" opacity="0.13"/>
<rect x="77.0" y="541.7" width="0.85" height="0.85" fill="#000" opacity="0.11"/>
<rect x="88.5" y="566.3" width="0.85" height="0.85" fill="#000" opacity="0.34"/>
<rect x="83.1" y="544.6" width="0.85" height="0.85" fill="#000" opacity="0.38"/>
<rect x="83.3" y="564.4" width="0.85" height="0.85" fill="#000" opacity="0.36"/>
<rect x="79.1" y="551.8" width="0.85" height="0.85" fill="#000" opacity="0.14"/>
<rect x="87.7" y="559.6" width="0.85" height="0.85" fill="#000" opacity="0.27"/>
<rect x="76.3" y="551.7" width="0.85" height="0.85" fill="#000" opacity="0.28"/>
<rect x="81.0" y="554.9" width="0.85" height="0.85" fill="#000" opacity="0.27"/>
<rect x="72.8" y="537.6" width="0.85" height="0.85" fill="#000" opacity="0.33"/>
<rect x="82.1" y="557.1" width="0.85" height="0.85" fill="#000" opacity="0.14"/>
<rect x="77.7" y="551.1" width="0.85" height="0.85" fill="#000" opacity="0.34"/>
<rect x="74.8" y="535.3" width="0.85" height="0.85" fill="#000" opacity="0.24"/>
<rect x="88.0" y="541.5" width="0.85" height="0.85" fill="#000" opacity="0.33"/>
<rect x="80.3" y="544.8" width="0.85" height="0.85" fill="#000" opacity="0.20"/>
<rect x="87.9" y="556.6" width="0.85" height="0.85" fill="#000" opacity="0.23"/>
<rect x="83.6" y="550.3" width="0.85" height="0.85" fill="#000" opacity="0.22"/>
<rect x="88.9" y="532.4" width="0.85" height="0.85" fill="#000" opacity="0.31"/>
<rect x="88.4" y="536.5" width="0.85" height="0.85" fill="#000" opacity="0.18"/>
<rect x="77.5" y="548.7" width="0.85" height="0.85" fill="#000" opacity="0.29"/>
<rect x="85.4" y="547.7" width="0.85" height="0.85" fill="#000" opacity="0.14"/>
<rect x="77.1" y="549.5" width="0.85" height="0.85" fill="#000" opacity="0.23"/>
<rect x="84.1" y="555.8" width="0.85" height="0.85" fill="#000" opacity="0.33"/>
<rect x="78.3" y="532.4" width="0.85" height="0.85" fill="#000" opacity="0.23"/>
<rect x="77.2" y="552.2" width="0.85" height="0.85" fill="#000" opacity="0.32"/>
<rect x="73.8" y="546.9" width="0.85" height="0.85" fill="#000" opacity="0.14"/>
<rect x="77.0" y="551.9" width="0.85" height="0.85" fill="#000" opacity="0.13"/>
<rect x="84.2" y="555.8" width="0.85" height="0.85" fill="#000" opacity="0.14"/>
<rect x="82.6" y="539.5" width="0.85" height="0.85" fill="#000" opacity="0.34"/>
<rect x="75.9" y="549.2" width="0.85" height="0.85" fill="#000" opacity="0.18"/>
<rect x="83.0" y="540.3" width="0.85" height="0.85" fill="#000" opacity="0.28"/>
<rect x="77.8" y="548.8" width="0.85" height="0.85" fill="#000" opacity="0.16"/>
<rect x="69.2" y="558.6" width="0.85" height="0.85" fill="#000" opacity="0.36"/>
<rect x="75.4" y="547.0" width="0.85" height="0.85" fill="#000" opacity="0.11"/>
<rect x="73.6" y="547.5" width="0.85" height="0.85" fill="#000" opacity="0.36"/>
<rect x="80.0" y="557.2" width="0.85" height="0.85" fill="#000" opacity="0.10"/>
<rect x="89.0" y="554.1" width="0.85" height="0.85" fill="#000" opacity="0.34"/>
<rect x="79.6" y="552.4" width="0.85" height="0.85" fill="#000" opacity="0.26"/>
<rect x="79.2" y="564.1" width="0.85" height="0.85" fill="#000" opacity="0.36"/>
<rect x="78.9" y="543.3" width="0.85" height="0.85" fill="#000" opacity="0.27"/>
<rect x="76.7" y="566.5" width="0.85" height="0.85" fill="#000" opacity="0.17"/>
<rect x="84.8" y="540.5" width="0.85" height="0.85" fill="#000" opacity="0.35"/>
<rect x="71.1" y="570.5" width="0.85" height="0.85" fill="#000" opacity="0.26"/>
<rect x="78.6" y="564.7" width="0.85" height="0.85" fill="#000" opacity="0.19"/>
<rect x="80.2" y="552.8" width="0.85" height="0.85" fill="#000" opacity="0.27"/>
<rect x="79.1" y="555.4" width="0.85" height="0.85" fill="#000" opacity="0.32"/>
<rect x="84.9" y="563.4" width="0.85" height="0.85" fill="#000" opacity="0.18"/>
<rect x="70.5" y="567.7" width="0.85" height="0.85" fill="#000" opacity="0.33"/>
<rect x="87.0" y="528.0" width="0.85" height="0.85" fill="#000" opacity="0.27"/>
<rect x="86.2" y="545.8" width="0.85" height="0.85" fill="#000" opacity="0.26"/>
<rect x="24.60" y="492.20" width="102.60" height="100.60" fill="none" stroke="#000" stroke-width="1.1"/>
<line x1="24.60" y1="491.60" x2="24.60" y2="593.40" stroke="#000" stroke-width="2.2"/>
<line x1="24.10" y1="592.80" x2="127.70" y2="592.80" stroke="#000" stroke-width="1.3"/>
<line x1="62.20" y1="492.20" x2="62.20" y2="592.80" stroke="#000" stroke-width="1.1"/>
<line x1="24.60" y1="554.60" x2="127.20" y2="554.60" stroke="#000" stroke-width="1.2"/>
<polyline points="64.40,554.60 64.40,516.30 100.70,516.30 100.70,554.60" fill="none" stroke="#9a9a9a" stroke-width="1.1"/>
<line x1="22.00" y1="592.80" x2="24.60" y2="592.80" stroke="#000" stroke-width="1.1"/>
<text x="19.00" y="597.70" font-size="6.4" font-weight="bold" text-anchor="end" stroke="#000" stroke-width="0.1" textLength="6.6" lengthAdjust="spacingAndGlyphs">10</text>
<text x="19.20" y="592.90" font-size="4.6" stroke="#000" stroke-width="0.2">0</text>
<line x1="23.10" y1="585.23" x2="24.60" y2="585.23" stroke="#000" stroke-width="0.9"/>
<line x1="23.10" y1="580.80" x2="24.60" y2="580.80" stroke="#000" stroke-width="0.9"/>
<line x1="23.10" y1="577.66" x2="24.60" y2="577.66" stroke="#000" stroke-width="0.9"/>
<line x1="23.10" y1="575.22" x2="24.60" y2="575.22" stroke="#000" stroke-width="0.9"/>
<line x1="23.10" y1="573.23" x2="24.60" y2="573.23" stroke="#000" stroke-width="0.9"/>
<line x1="23.10" y1="571.55" x2="24.60" y2="571.55" stroke="#000" stroke-width="0.9"/>
<line x1="23.10" y1="570.09" x2="24.60" y2="570.09" stroke="#000" stroke-width="0.9"/>
<line x1="23.10" y1="568.80" x2="24.60" y2="568.80" stroke="#000" stroke-width="0.9"/>
<line x1="22.00" y1="567.65" x2="24.60" y2="567.65" stroke="#000" stroke-width="1.1"/>
<text x="19.00" y="572.55" font-size="6.4" font-weight="bold" text-anchor="end" stroke="#000" stroke-width="0.1" textLength="6.6" lengthAdjust="spacingAndGlyphs">10</text>
<text x="19.20" y="567.75" font-size="4.6" stroke="#000" stroke-width="0.2">1</text>
<line x1="23.10" y1="560.08" x2="24.60" y2="560.08" stroke="#000" stroke-width="0.9"/>
<line x1="23.10" y1="555.65" x2="24.60" y2="555.65" stroke="#000" stroke-width="0.9"/>
<line x1="23.10" y1="552.51" x2="24.60" y2="552.51" stroke="#000" stroke-width="0.9"/>
<line x1="23.10" y1="550.07" x2="24.60" y2="550.07" stroke="#000" stroke-width="0.9"/>
<line x1="23.10" y1="548.08" x2="24.60" y2="548.08" stroke="#000" stroke-width="0.9"/>
<line x1="23.10" y1="546.40" x2="24.60" y2="546.40" stroke="#000" stroke-width="0.9"/>
<line x1="23.10" y1="544.94" x2="24.60" y2="544.94" stroke="#000" stroke-width="0.9"/>
<line x1="23.10" y1="543.65" x2="24.60" y2="543.65" stroke="#000" stroke-width="0.9"/>
<line x1="22.00" y1="542.50" x2="24.60" y2="542.50" stroke="#000" stroke-width="1.1"/>
<text x="19.00" y="547.40" font-size="6.4" font-weight="bold" text-anchor="end" stroke="#000" stroke-width="0.1" textLength="6.6" lengthAdjust="spacingAndGlyphs">10</text>
<text x="19.20" y="542.60" font-size="4.6" stroke="#000" stroke-width="0.2">2</text>
<line x1="23.10" y1="534.93" x2="24.60" y2="534.93" stroke="#000" stroke-width="0.9"/>
<line x1="23.10" y1="530.50" x2="24.60" y2="530.50" stroke="#000" stroke-width="0.9"/>
<line x1="23.10" y1="527.36" x2="24.60" y2="527.36" stroke="#000" stroke-width="0.9"/>
<line x1="23.10" y1="524.92" x2="24.60" y2="524.92" stroke="#000" stroke-width="0.9"/>
<line x1="23.10" y1="522.93" x2="24.60" y2="522.93" stroke="#000" stroke-width="0.9"/>
<line x1="23.10" y1="521.25" x2="24.60" y2="521.25" stroke="#000" stroke-width="0.9"/>
<line x1="23.10" y1="519.79" x2="24.60" y2="519.79" stroke="#000" stroke-width="0.9"/>
<line x1="23.10" y1="518.50" x2="24.60" y2="518.50" stroke="#000" stroke-width="0.9"/>
<line x1="22.00" y1="517.35" x2="24.60" y2="517.35" stroke="#000" stroke-width="1.1"/>
<text x="19.00" y="522.25" font-size="6.4" font-weight="bold" text-anchor="end" stroke="#000" stroke-width="0.1" textLength="6.6" lengthAdjust="spacingAndGlyphs">10</text>
<text x="19.20" y="517.45" font-size="4.6" stroke="#000" stroke-width="0.2">3</text>
<line x1="23.10" y1="509.78" x2="24.60" y2="509.78" stroke="#000" stroke-width="0.9"/>
<line x1="23.10" y1="505.35" x2="24.60" y2="505.35" stroke="#000" stroke-width="0.9"/>
<line x1="23.10" y1="502.21" x2="24.60" y2="502.21" stroke="#000" stroke-width="0.9"/>
<line x1="23.10" y1="499.77" x2="24.60" y2="499.77" stroke="#000" stroke-width="0.9"/>
<line x1="23.10" y1="497.78" x2="24.60" y2="497.78" stroke="#000" stroke-width="0.9"/>
<line x1="23.10" y1="496.10" x2="24.60" y2="496.10" stroke="#000" stroke-width="0.9"/>
<line x1="23.10" y1="494.64" x2="24.60" y2="494.64" stroke="#000" stroke-width="0.9"/>
<line x1="23.10" y1="493.35" x2="24.60" y2="493.35" stroke="#000" stroke-width="0.9"/>
<line x1="22.00" y1="492.20" x2="24.60" y2="492.20" stroke="#000" stroke-width="1.1"/>
<text x="19.00" y="497.10" font-size="6.4" font-weight="bold" text-anchor="end" stroke="#000" stroke-width="0.1" textLength="6.6" lengthAdjust="spacingAndGlyphs">10</text>
<text x="19.20" y="492.30" font-size="4.6" stroke="#000" stroke-width="0.2">4</text>
<line x1="24.60" y1="592.80" x2="24.60" y2="595.40" stroke="#000" stroke-width="1.1"/>
<text x="23.60" y="604.80" font-size="6.4" text-anchor="middle" stroke="#000" stroke-width="0.35" textLength="5.6" lengthAdjust="spacingAndGlyphs">10</text>
<text x="25.80" y="600.70" font-size="4.6" stroke="#000" stroke-width="0.2">0</text>
<line x1="32.32" y1="592.80" x2="32.32" y2="594.20" stroke="#000" stroke-width="0.9"/>
<line x1="36.84" y1="592.80" x2="36.84" y2="594.20" stroke="#000" stroke-width="0.9"/>
<line x1="40.04" y1="592.80" x2="40.04" y2="594.20" stroke="#000" stroke-width="0.9"/>
<line x1="42.53" y1="592.80" x2="42.53" y2="594.20" stroke="#000" stroke-width="0.9"/>
<line x1="44.56" y1="592.80" x2="44.56" y2="594.20" stroke="#000" stroke-width="0.9"/>
<line x1="46.28" y1="592.80" x2="46.28" y2="594.20" stroke="#000" stroke-width="0.9"/>
<line x1="47.76" y1="592.80" x2="47.76" y2="594.20" stroke="#000" stroke-width="0.9"/>
<line x1="49.08" y1="592.80" x2="49.08" y2="594.20" stroke="#000" stroke-width="0.9"/>
<line x1="50.25" y1="592.80" x2="50.25" y2="595.40" stroke="#000" stroke-width="1.1"/>
<text x="49.25" y="604.80" font-size="6.4" text-anchor="middle" stroke="#000" stroke-width="0.35" textLength="5.6" lengthAdjust="spacingAndGlyphs">10</text>
<text x="51.45" y="600.70" font-size="4.6" stroke="#000" stroke-width="0.2">1</text>
<line x1="57.97" y1="592.80" x2="57.97" y2="594.20" stroke="#000" stroke-width="0.9"/>
<line x1="62.49" y1="592.80" x2="62.49" y2="594.20" stroke="#000" stroke-width="0.9"/>
<line x1="65.69" y1="592.80" x2="65.69" y2="594.20" stroke="#000" stroke-width="0.9"/>
<line x1="68.18" y1="592.80" x2="68.18" y2="594.20" stroke="#000" stroke-width="0.9"/>
<line x1="70.21" y1="592.80" x2="70.21" y2="594.20" stroke="#000" stroke-width="0.9"/>
<line x1="71.93" y1="592.80" x2="71.93" y2="594.20" stroke="#000" stroke-width="0.9"/>
<line x1="73.41" y1="592.80" x2="73.41" y2="594.20" stroke="#000" stroke-width="0.9"/>
<line x1="74.73" y1="592.80" x2="74.73" y2="594.20" stroke="#000" stroke-width="0.9"/>
<line x1="75.90" y1="592.80" x2="75.90" y2="595.40" stroke="#000" stroke-width="1.1"/>
<text x="74.90" y="604.80" font-size="6.4" text-anchor="middle" stroke="#000" stroke-width="0.35" textLength="5.6" lengthAdjust="spacingAndGlyphs">10</text>
<text x="77.10" y="600.70" font-size="4.6" stroke="#000" stroke-width="0.2">2</text>
<line x1="83.62" y1="592.80" x2="83.62" y2="594.20" stroke="#000" stroke-width="0.9"/>
<line x1="88.14" y1="592.80" x2="88.14" y2="594.20" stroke="#000" stroke-width="0.9"/>
<line x1="91.34" y1="592.80" x2="91.34" y2="594.20" stroke="#000" stroke-width="0.9"/>
<line x1="93.83" y1="592.80" x2="93.83" y2="594.20" stroke="#000" stroke-width="0.9"/>
<line x1="95.86" y1="592.80" x2="95.86" y2="594.20" stroke="#000" stroke-width="0.9"/>
<line x1="97.58" y1="592.80" x2="97.58" y2="594.20" stroke="#000" stroke-width="0.9"/>
<line x1="99.06" y1="592.80" x2="99.06" y2="594.20" stroke="#000" stroke-width="0.9"/>
<line x1="100.38" y1="592.80" x2="100.38" y2="594.20" stroke="#000" stroke-width="0.9"/>
<line x1="101.55" y1="592.80" x2="101.55" y2="595.40" stroke="#000" stroke-width="1.1"/>
<text x="100.55" y="604.80" font-size="6.4" text-anchor="middle" stroke="#000" stroke-width="0.35" textLength="5.6" lengthAdjust="spacingAndGlyphs">10</text>
<text x="102.75" y="600.70" font-size="4.6" stroke="#000" stroke-width="0.2">3</text>
<line x1="109.27" y1="592.80" x2="109.27" y2="594.20" stroke="#000" stroke-width="0.9"/>
<line x1="113.79" y1="592.80" x2="113.79" y2="594.20" stroke="#000" stroke-width="0.9"/>
<line x1="116.99" y1="592.80" x2="116.99" y2="594.20" stroke="#000" stroke-width="0.9"/>
<line x1="119.48" y1="592.80" x2="119.48" y2="594.20" stroke="#000" stroke-width="0.9"/>
<line x1="121.51" y1="592.80" x2="121.51" y2="594.20" stroke="#000" stroke-width="0.9"/>
<line x1="123.23" y1="592.80" x2="123.23" y2="594.20" stroke="#000" stroke-width="0.9"/>
<line x1="124.71" y1="592.80" x2="124.71" y2="594.20" stroke="#000" stroke-width="0.9"/>
<line x1="126.03" y1="592.80" x2="126.03" y2="594.20" stroke="#000" stroke-width="0.9"/>
<line x1="127.20" y1="592.80" x2="127.20" y2="595.40" stroke="#000" stroke-width="1.1"/>
<text x="126.20" y="604.80" font-size="6.4" text-anchor="middle" stroke="#000" stroke-width="0.35" textLength="5.6" lengthAdjust="spacingAndGlyphs">10</text>
<text x="128.40" y="600.70" font-size="4.6" stroke="#000" stroke-width="0.2">4</text>
<text x="26.20" y="500.70" font-size="6.9" font-weight="bold" stroke="#000" stroke-width="0.2" textLength="22.5" lengthAdjust="spacingAndGlyphs">0.00%</text>
<text x="132.40" y="500.70" font-size="6.9" font-weight="bold" text-anchor="end" stroke="#000" stroke-width="0.2" textLength="26.5" lengthAdjust="spacingAndGlyphs">53.62%</text>
<text x="69.20" y="501.80" font-size="7.9" fill="#939393" stroke="#939393" stroke-width="0.2" textLength="29.2" lengthAdjust="spacingAndGlyphs">CD123+</text>
<text x="70.20" y="510.50" font-size="7.9" fill="#939393" stroke="#939393" stroke-width="0.2" textLength="26.8" lengthAdjust="spacingAndGlyphs">53.62%</text>
<text x="26.20" y="587.50" font-size="6.9" font-weight="bold" stroke="#000" stroke-width="0.2" textLength="22.5" lengthAdjust="spacingAndGlyphs">0.00%</text>
<text x="132.40" y="587.50" font-size="6.9" font-weight="bold" text-anchor="end" stroke="#000" stroke-width="0.2" textLength="25.8" lengthAdjust="spacingAndGlyphs">46.38%</text>
<rect x="213.5" y="561.1" width="0.85" height="0.85" fill="#000" opacity="0.49"/>
<rect x="220.0" y="560.5" width="0.85" height="0.85" fill="#000" opacity="0.40"/>
<rect x="218.4" y="568.3" width="0.85" height="0.85" fill="#000" opacity="0.50"/>
<rect x="215.3" y="556.5" width="0.85" height="0.85" fill="#000" opacity="0.49"/>
<rect x="222.4" y="563.9" width="0.85" height="0.85" fill="#000" opacity="0.33"/>
<rect x="220.8" y="559.1" width="0.85" height="0.85" fill="#000" opacity="0.54"/>
<rect x="225.3" y="563.2" width="0.85" height="0.85" fill="#000" opacity="0.39"/>
<rect x="212.9" y="565.0" width="0.85" height="0.85" fill="#000" opacity="0.29"/>
<rect x="228.3" y="563.8" width="0.85" height="0.85" fill="#000" opacity="0.44"/>
<rect x="230.0" y="567.3" width="0.85" height="0.85" fill="#000" opacity="0.58"/>
<rect x="222.9" y="563.1" width="0.85" height="0.85" fill="#000" opacity="0.32"/>
<rect x="217.4" y="565.9" width="0.85" height="0.85" fill="#000" opacity="0.33"/>
<rect x="219.2" y="558.6" width="0.85" height="0.85" fill="#000" opacity="0.33"/>
<rect x="221.3" y="555.7" width="0.85" height="0.85" fill="#000" opacity="0.41"/>
<rect x="215.7" y="557.0" width="0.85" height="0.85" fill="#000" opacity="0.40"/>
<rect x="226.2" y="561.4" width="0.85" height="0.85" fill="#000" opacity="0.59"/>
<rect x="225.7" y="559.0" width="0.85" height="0.85" fill="#000" opacity="0.39"/>
<rect x="215.4" y="565.3" width="0.85" height="0.85" fill="#000" opacity="0.50"/>
<rect x="221.9" y="562.2" width="0.85" height="0.85" fill="#000" opacity="0.40"/>
<rect x="212.0" y="559.4" width="0.85" height="0.85" fill="#000" opacity="0.44"/>
<rect x="227.3" y="561.5" width="0.85" height="0.85" fill="#000" opacity="0.42"/>
<rect x="216.6" y="559.6" width="0.85" height="0.85" fill="#000" opacity="0.42"/>
<rect x="214.1" y="565.1" width="0.85" height="0.85" fill="#000" opacity="0.31"/>
<rect x="217.1" y="559.1" width="0.85" height="0.85" fill="#000" opacity="0.50"/>
<rect x="222.9" y="560.8" width="0.85" height="0.85" fill="#000" opacity="0.39"/>
<rect x="218.7" y="558.9" width="0.85" height="0.85" fill="#000" opacity="0.43"/>
<rect x="220.5" y="563.6" width="0.85" height="0.85" fill="#000" opacity="0.43"/>
<rect x="224.2" y="558.6" width="0.85" height="0.85" fill="#000" opacity="0.59"/>
<rect x="224.3" y="569.1" width="0.85" height="0.85" fill="#000" opacity="0.40"/>
<rect x="222.2" y="567.1" width="0.85" height="0.85" fill="#000" opacity="0.57"/>
<rect x="222.9" y="560.2" width="0.85" height="0.85" fill="#000" opacity="0.53"/>
<rect x="217.9" y="562.9" width="0.85" height="0.85" fill="#000" opacity="0.28"/>
<rect x="225.3" y="561.6" width="0.85" height="0.85" fill="#000" opacity="0.59"/>
<rect x="224.6" y="559.9" width="0.85" height="0.85" fill="#000" opacity="0.29"/>
<rect x="216.4" y="567.3" width="0.85" height="0.85" fill="#000" opacity="0.55"/>
<rect x="217.7" y="557.4" width="0.85" height="0.85" fill="#000" opacity="0.45"/>
<rect x="213.8" y="560.9" width="0.85" height="0.85" fill="#000" opacity="0.36"/>
<rect x="228.0" y="556.8" width="0.85" height="0.85" fill="#000" opacity="0.33"/>
<rect x="217.4" y="569.0" width="0.85" height="0.85" fill="#000" opacity="0.37"/>
<rect x="224.3" y="558.1" width="0.85" height="0.85" fill="#000" opacity="0.50"/>
<rect x="218.8" y="556.9" width="0.85" height="0.85" fill="#000" opacity="0.37"/>
<rect x="219.4" y="567.0" width="0.85" height="0.85" fill="#000" opacity="0.50"/>
<rect x="225.5" y="567.1" width="0.85" height="0.85" fill="#000" opacity="0.41"/>
<rect x="219.8" y="564.9" width="0.85" height="0.85" fill="#000" opacity="0.59"/>
<rect x="214.1" y="557.6" width="0.85" height="0.85" fill="#000" opacity="0.57"/>
<rect x="226.5" y="558.2" width="0.85" height="0.85" fill="#000" opacity="0.41"/>
<rect x="211.9" y="554.8" width="0.85" height="0.85" fill="#000" opacity="0.53"/>
<rect x="216.2" y="557.9" width="0.85" height="0.85" fill="#000" opacity="0.40"/>
<rect x="219.1" y="554.1" width="0.85" height="0.85" fill="#000" opacity="0.29"/>
<rect x="217.3" y="550.4" width="0.85" height="0.85" fill="#000" opacity="0.54"/>
<rect x="227.0" y="553.9" width="0.85" height="0.85" fill="#000" opacity="0.45"/>
<rect x="220.6" y="555.6" width="0.85" height="0.85" fill="#000" opacity="0.31"/>
<rect x="217.4" y="563.2" width="0.85" height="0.85" fill="#000" opacity="0.58"/>
<rect x="217.6" y="554.7" width="0.85" height="0.85" fill="#000" opacity="0.48"/>
<rect x="223.3" y="564.0" width="0.85" height="0.85" fill="#000" opacity="0.50"/>
<rect x="217.1" y="562.1" width="0.85" height="0.85" fill="#000" opacity="0.41"/>
<rect x="216.8" y="566.3" width="0.85" height="0.85" fill="#000" opacity="0.33"/>
<rect x="222.7" y="562.1" width="0.85" height="0.85" fill="#000" opacity="0.50"/>
<rect x="220.0" y="553.3" width="0.85" height="0.85" fill="#000" opacity="0.58"/>
<rect x="218.9" y="560.8" width="0.85" height="0.85" fill="#000" opacity="0.44"/>
<rect x="217.1" y="561.0" width="0.85" height="0.85" fill="#000" opacity="0.49"/>
<rect x="217.9" y="562.9" width="0.85" height="0.85" fill="#000" opacity="0.38"/>
<rect x="220.1" y="559.8" width="0.85" height="0.85" fill="#000" opacity="0.40"/>
<rect x="219.1" y="563.0" width="0.85" height="0.85" fill="#000" opacity="0.42"/>
<rect x="221.3" y="570.1" width="0.85" height="0.85" fill="#000" opacity="0.44"/>
<rect x="218.8" y="557.4" width="0.85" height="0.85" fill="#000" opacity="0.43"/>
<rect x="213.3" y="554.5" width="0.85" height="0.85" fill="#000" opacity="0.36"/>
<rect x="211.6" y="562.3" width="0.85" height="0.85" fill="#000" opacity="0.55"/>
<rect x="220.3" y="565.7" width="0.85" height="0.85" fill="#000" opacity="0.52"/>
<rect x="214.6" y="564.2" width="0.85" height="0.85" fill="#000" opacity="0.49"/>
<rect x="224.9" y="559.0" width="0.85" height="0.85" fill="#000" opacity="0.50"/>
<rect x="215.6" y="566.0" width="0.85" height="0.85" fill="#000" opacity="0.38"/>
<rect x="215.6" y="560.0" width="0.85" height="0.85" fill="#000" opacity="0.38"/>
<rect x="221.6" y="562.5" width="0.85" height="0.85" fill="#000" opacity="0.45"/>
<rect x="219.6" y="561.4" width="0.85" height="0.85" fill="#000" opacity="0.54"/>
<rect x="217.4" y="570.5" width="0.85" height="0.85" fill="#000" opacity="0.47"/>
<rect x="213.1" y="566.0" width="0.85" height="0.85" fill="#000" opacity="0.57"/>
<rect x="218.7" y="562.2" width="0.85" height="0.85" fill="#000" opacity="0.49"/>
<rect x="222.8" y="554.7" width="0.85" height="0.85" fill="#000" opacity="0.53"/>
<rect x="214.6" y="563.3" width="0.85" height="0.85" fill="#000" opacity="0.36"/>
<rect x="216.2" y="562.5" width="0.85" height="0.85" fill="#000" opacity="0.40"/>
<rect x="213.4" y="564.9" width="0.85" height="0.85" fill="#000" opacity="0.33"/>
<rect x="220.5" y="563.4" width="0.85" height="0.85" fill="#000" opacity="0.59"/>
<rect x="218.2" y="559.8" width="0.85" height="0.85" fill="#000" opacity="0.55"/>
<rect x="225.1" y="553.9" width="0.85" height="0.85" fill="#000" opacity="0.39"/>
<rect x="219.3" y="556.1" width="0.85" height="0.85" fill="#000" opacity="0.32"/>
<rect x="224.9" y="553.5" width="0.85" height="0.85" fill="#000" opacity="0.35"/>
<rect x="220.3" y="559.3" width="0.85" height="0.85" fill="#000" opacity="0.38"/>
<rect x="222.2" y="560.2" width="0.85" height="0.85" fill="#000" opacity="0.33"/>
<rect x="218.8" y="556.2" width="0.85" height="0.85" fill="#000" opacity="0.34"/>
<rect x="221.1" y="563.6" width="0.85" height="0.85" fill="#000" opacity="0.56"/>
<rect x="218.1" y="558.7" width="0.85" height="0.85" fill="#000" opacity="0.50"/>
<rect x="215.1" y="558.9" width="0.85" height="0.85" fill="#000" opacity="0.45"/>
<rect x="215.2" y="553.3" width="0.85" height="0.85" fill="#000" opacity="0.44"/>
<rect x="216.5" y="556.1" width="0.85" height="0.85" fill="#000" opacity="0.48"/>
<rect x="216.3" y="563.1" width="0.85" height="0.85" fill="#000" opacity="0.45"/>
<rect x="218.9" y="556.4" width="0.85" height="0.85" fill="#000" opacity="0.58"/>
<rect x="211.4" y="560.5" width="0.85" height="0.85" fill="#000" opacity="0.50"/>
<rect x="225.7" y="558.1" width="0.85" height="0.85" fill="#000" opacity="0.42"/>
<rect x="214.8" y="563.5" width="0.85" height="0.85" fill="#000" opacity="0.52"/>
<rect x="220.8" y="557.9" width="0.85" height="0.85" fill="#000" opacity="0.30"/>
<rect x="221.0" y="561.2" width="0.85" height="0.85" fill="#000" opacity="0.30"/>
<rect x="222.8" y="560.2" width="0.85" height="0.85" fill="#000" opacity="0.32"/>
<rect x="217.3" y="554.2" width="0.85" height="0.85" fill="#000" opacity="0.59"/>
<rect x="226.3" y="558.1" width="0.85" height="0.85" fill="#000" opacity="0.58"/>
<rect x="222.6" y="560.6" width="0.85" height="0.85" fill="#000" opacity="0.58"/>
<rect x="216.8" y="560.5" width="0.85" height="0.85" fill="#000" opacity="0.52"/>
<rect x="214.9" y="562.7" width="0.85" height="0.85" fill="#000" opacity="0.38"/>
<rect x="219.7" y="562.0" width="0.85" height="0.85" fill="#000" opacity="0.47"/>
<rect x="231.4" y="556.0" width="0.85" height="0.85" fill="#000" opacity="0.52"/>
<rect x="223.2" y="558.2" width="0.85" height="0.85" fill="#000" opacity="0.38"/>
<rect x="224.6" y="557.1" width="0.85" height="0.85" fill="#000" opacity="0.49"/>
<rect x="222.6" y="560.3" width="0.85" height="0.85" fill="#000" opacity="0.43"/>
<rect x="218.7" y="551.5" width="0.85" height="0.85" fill="#000" opacity="0.52"/>
<rect x="217.4" y="563.8" width="0.85" height="0.85" fill="#000" opacity="0.56"/>
<rect x="224.4" y="559.7" width="0.85" height="0.85" fill="#000" opacity="0.34"/>
<rect x="215.9" y="556.0" width="0.85" height="0.85" fill="#000" opacity="0.40"/>
<rect x="220.1" y="564.5" width="0.85" height="0.85" fill="#000" opacity="0.48"/>
<rect x="223.3" y="564.1" width="0.85" height="0.85" fill="#000" opacity="0.58"/>
<rect x="219.5" y="556.5" width="0.85" height="0.85" fill="#000" opacity="0.41"/>
<rect x="225.1" y="564.5" width="0.85" height="0.85" fill="#000" opacity="0.48"/>
<rect x="222.1" y="565.1" width="0.85" height="0.85" fill="#000" opacity="0.47"/>
<rect x="216.0" y="557.9" width="0.85" height="0.85" fill="#000" opacity="0.38"/>
<rect x="210.7" y="572.6" width="0.85" height="0.85" fill="#000" opacity="0.39"/>
<rect x="214.9" y="559.9" width="0.85" height="0.85" fill="#000" opacity="0.34"/>
<rect x="217.3" y="561.8" width="0.85" height="0.85" fill="#000" opacity="0.38"/>
<rect x="217.0" y="563.2" width="0.85" height="0.85" fill="#000" opacity="0.58"/>
<rect x="218.5" y="564.0" width="0.85" height="0.85" fill="#000" opacity="0.49"/>
<rect x="215.6" y="563.3" width="0.85" height="0.85" fill="#000" opacity="0.49"/>
<rect x="225.2" y="563.1" width="0.85" height="0.85" fill="#000" opacity="0.31"/>
<rect x="219.6" y="568.4" width="0.85" height="0.85" fill="#000" opacity="0.60"/>
<rect x="218.4" y="557.5" width="0.85" height="0.85" fill="#000" opacity="0.42"/>
<rect x="218.0" y="568.6" width="0.85" height="0.85" fill="#000" opacity="0.35"/>
<rect x="221.6" y="566.2" width="0.85" height="0.85" fill="#000" opacity="0.48"/>
<rect x="215.5" y="557.2" width="0.85" height="0.85" fill="#000" opacity="0.59"/>
<rect x="210.1" y="562.8" width="0.85" height="0.85" fill="#000" opacity="0.41"/>
<rect x="215.7" y="560.9" width="0.85" height="0.85" fill="#000" opacity="0.51"/>
<rect x="219.6" y="556.6" width="0.85" height="0.85" fill="#000" opacity="0.45"/>
<rect x="218.9" y="554.6" width="0.85" height="0.85" fill="#000" opacity="0.49"/>
<rect x="214.6" y="555.1" width="0.85" height="0.85" fill="#000" opacity="0.39"/>
<rect x="219.3" y="561.0" width="0.85" height="0.85" fill="#000" opacity="0.56"/>
<rect x="220.6" y="555.6" width="0.85" height="0.85" fill="#000" opacity="0.59"/>
<rect x="221.6" y="558.5" width="0.85" height="0.85" fill="#000" opacity="0.55"/>
<rect x="216.4" y="561.9" width="0.85" height="0.85" fill="#000" opacity="0.36"/>
<rect x="218.4" y="560.8" width="0.85" height="0.85" fill="#000" opacity="0.30"/>
<rect x="222.3" y="562.6" width="0.85" height="0.85" fill="#000" opacity="0.33"/>
<rect x="225.3" y="566.0" width="0.85" height="0.85" fill="#000" opacity="0.40"/>
<rect x="213.9" y="560.4" width="0.85" height="0.85" fill="#000" opacity="0.58"/>
<rect x="221.4" y="562.6" width="0.85" height="0.85" fill="#000" opacity="0.56"/>
<rect x="227.8" y="554.3" width="0.85" height="0.85" fill="#000" opacity="0.45"/>
<rect x="217.8" y="562.2" width="0.85" height="0.85" fill="#000" opacity="0.57"/>
<rect x="220.1" y="554.2" width="0.85" height="0.85" fill="#000" opacity="0.53"/>
<rect x="219.3" y="565.7" width="0.85" height="0.85" fill="#000" opacity="0.57"/>
<rect x="224.1" y="564.0" width="0.85" height="0.85" fill="#000" opacity="0.34"/>
<rect x="223.8" y="552.5" width="0.85" height="0.85" fill="#000" opacity="0.49"/>
<rect x="218.8" y="560.4" width="0.85" height="0.85" fill="#000" opacity="0.44"/>
<rect x="216.9" y="563.6" width="0.85" height="0.85" fill="#000" opacity="0.30"/>
<rect x="224.1" y="557.3" width="0.85" height="0.85" fill="#000" opacity="0.46"/>
<rect x="224.5" y="551.8" width="0.85" height="0.85" fill="#000" opacity="0.46"/>
<rect x="211.8" y="557.6" width="0.85" height="0.85" fill="#000" opacity="0.40"/>
<rect x="220.4" y="559.4" width="0.85" height="0.85" fill="#000" opacity="0.53"/>
<rect x="213.8" y="558.9" width="0.85" height="0.85" fill="#000" opacity="0.60"/>
<rect x="220.4" y="564.6" width="0.85" height="0.85" fill="#000" opacity="0.54"/>
<rect x="219.5" y="554.4" width="0.85" height="0.85" fill="#000" opacity="0.53"/>
<rect x="215.9" y="551.7" width="0.85" height="0.85" fill="#000" opacity="0.49"/>
<rect x="217.3" y="562.9" width="0.85" height="0.85" fill="#000" opacity="0.31"/>
<rect x="220.5" y="560.9" width="0.85" height="0.85" fill="#000" opacity="0.59"/>
<rect x="223.2" y="564.8" width="0.85" height="0.85" fill="#000" opacity="0.32"/>
<rect x="224.7" y="558.8" width="0.85" height="0.85" fill="#000" opacity="0.34"/>
<rect x="223.5" y="551.9" width="0.85" height="0.85" fill="#000" opacity="0.59"/>
<rect x="220.3" y="564.6" width="0.85" height="0.85" fill="#000" opacity="0.49"/>
<rect x="218.5" y="565.8" width="0.85" height="0.85" fill="#000" opacity="0.50"/>
<rect x="219.7" y="551.4" width="0.85" height="0.85" fill="#000" opacity="0.52"/>
<rect x="218.0" y="567.5" width="0.85" height="0.85" fill="#000" opacity="0.42"/>
<rect x="220.0" y="560.8" width="0.85" height="0.85" fill="#000" opacity="0.48"/>
<rect x="218.4" y="561.6" width="0.85" height="0.85" fill="#000" opacity="0.44"/>
<rect x="216.4" y="562.1" width="0.85" height="0.85" fill="#000" opacity="0.46"/>
<rect x="214.6" y="558.6" width="0.85" height="0.85" fill="#000" opacity="0.60"/>
<rect x="222.5" y="557.8" width="0.85" height="0.85" fill="#000" opacity="0.56"/>
<rect x="215.7" y="569.9" width="0.85" height="0.85" fill="#000" opacity="0.30"/>
<rect x="215.6" y="569.7" width="0.85" height="0.85" fill="#000" opacity="0.49"/>
<rect x="218.8" y="557.0" width="0.85" height="0.85" fill="#000" opacity="0.32"/>
<rect x="221.1" y="559.6" width="0.85" height="0.85" fill="#000" opacity="0.34"/>
<rect x="212.6" y="563.6" width="0.85" height="0.85" fill="#000" opacity="0.50"/>
<rect x="226.9" y="559.9" width="0.85" height="0.85" fill="#000" opacity="0.42"/>
<rect x="222.7" y="557.9" width="0.85" height="0.85" fill="#000" opacity="0.30"/>
<rect x="228.0" y="557.6" width="0.85" height="0.85" fill="#000" opacity="0.49"/>
<rect x="216.8" y="560.4" width="0.85" height="0.85" fill="#000" opacity="0.35"/>
<rect x="221.3" y="560.8" width="0.85" height="0.85" fill="#000" opacity="0.43"/>
<rect x="227.3" y="553.5" width="0.85" height="0.85" fill="#000" opacity="0.44"/>
<rect x="217.4" y="555.4" width="0.85" height="0.85" fill="#000" opacity="0.53"/>
<rect x="216.3" y="547.2" width="0.85" height="0.85" fill="#000" opacity="0.55"/>
<rect x="217.1" y="554.5" width="0.85" height="0.85" fill="#000" opacity="0.33"/>
<rect x="215.1" y="560.9" width="0.85" height="0.85" fill="#000" opacity="0.33"/>
<rect x="220.9" y="564.5" width="0.85" height="0.85" fill="#000" opacity="0.34"/>
<rect x="216.9" y="557.1" width="0.85" height="0.85" fill="#000" opacity="0.60"/>
<rect x="217.6" y="554.9" width="0.85" height="0.85" fill="#000" opacity="0.42"/>
<rect x="217.4" y="561.9" width="0.85" height="0.85" fill="#000" opacity="0.59"/>
<rect x="224.8" y="556.6" width="0.85" height="0.85" fill="#000" opacity="0.49"/>
<rect x="222.8" y="564.5" width="0.85" height="0.85" fill="#000" opacity="0.33"/>
<rect x="217.1" y="565.5" width="0.85" height="0.85" fill="#000" opacity="0.33"/>
<rect x="220.3" y="567.4" width="0.85" height="0.85" fill="#000" opacity="0.44"/>
<rect x="221.5" y="558.3" width="0.85" height="0.85" fill="#000" opacity="0.31"/>
<rect x="224.9" y="557.6" width="0.85" height="0.85" fill="#000" opacity="0.50"/>
<rect x="217.4" y="559.1" width="0.85" height="0.85" fill="#000" opacity="0.59"/>
<rect x="210.4" y="560.3" width="0.85" height="0.85" fill="#000" opacity="0.33"/>
<rect x="218.8" y="565.7" width="0.85" height="0.85" fill="#000" opacity="0.36"/>
<rect x="221.7" y="557.2" width="0.85" height="0.85" fill="#000" opacity="0.31"/>
<rect x="221.3" y="563.1" width="0.85" height="0.85" fill="#000" opacity="0.58"/>
<rect x="224.1" y="555.3" width="0.85" height="0.85" fill="#000" opacity="0.42"/>
<rect x="227.3" y="562.2" width="0.85" height="0.85" fill="#000" opacity="0.32"/>
<rect x="221.0" y="564.7" width="0.85" height="0.85" fill="#000" opacity="0.56"/>
<rect x="220.2" y="561.5" width="0.85" height="0.85" fill="#000" opacity="0.57"/>
<rect x="226.4" y="560.4" width="0.85" height="0.85" fill="#000" opacity="0.33"/>
<rect x="218.7" y="563.0" width="0.85" height="0.85" fill="#000" opacity="0.42"/>
<rect x="226.7" y="555.8" width="0.85" height="0.85" fill="#000" opacity="0.45"/>
<rect x="221.8" y="561.5" width="0.85" height="0.85" fill="#000" opacity="0.37"/>
<rect x="222.2" y="550.2" width="0.85" height="0.85" fill="#000" opacity="0.29"/>
<rect x="214.2" y="570.1" width="0.85" height="0.85" fill="#000" opacity="0.33"/>
<rect x="222.5" y="561.7" width="0.85" height="0.85" fill="#000" opacity="0.56"/>
<rect x="219.0" y="567.3" width="0.85" height="0.85" fill="#000" opacity="0.32"/>
<rect x="218.2" y="557.7" width="0.85" height="0.85" fill="#000" opacity="0.47"/>
<rect x="219.2" y="550.6" width="0.85" height="0.85" fill="#000" opacity="0.42"/>
<rect x="223.9" y="559.6" width="0.85" height="0.85" fill="#000" opacity="0.58"/>
<rect x="232.7" y="551.4" width="0.85" height="0.85" fill="#000" opacity="0.31"/>
<rect x="218.6" y="567.0" width="0.85" height="0.85" fill="#000" opacity="0.56"/>
<rect x="219.3" y="567.9" width="0.85" height="0.85" fill="#000" opacity="0.43"/>
<rect x="221.4" y="560.0" width="0.85" height="0.85" fill="#000" opacity="0.28"/>
<rect x="220.9" y="570.6" width="0.85" height="0.85" fill="#000" opacity="0.50"/>
<rect x="225.7" y="552.2" width="0.85" height="0.85" fill="#000" opacity="0.41"/>
<rect x="217.6" y="553.7" width="0.85" height="0.85" fill="#000" opacity="0.50"/>
<rect x="226.9" y="565.3" width="0.85" height="0.85" fill="#000" opacity="0.33"/>
<rect x="213.6" y="562.4" width="0.85" height="0.85" fill="#000" opacity="0.52"/>
<rect x="221.3" y="556.5" width="0.85" height="0.85" fill="#000" opacity="0.38"/>
<rect x="219.4" y="558.6" width="0.85" height="0.85" fill="#000" opacity="0.56"/>
<rect x="217.9" y="564.2" width="0.85" height="0.85" fill="#000" opacity="0.38"/>
<rect x="219.0" y="557.2" width="0.85" height="0.85" fill="#000" opacity="0.32"/>
<rect x="221.6" y="561.0" width="0.85" height="0.85" fill="#000" opacity="0.48"/>
<rect x="220.1" y="560.0" width="0.85" height="0.85" fill="#000" opacity="0.43"/>
<rect x="217.4" y="563.1" width="0.85" height="0.85" fill="#000" opacity="0.39"/>
<rect x="223.0" y="563.0" width="0.85" height="0.85" fill="#000" opacity="0.37"/>
<rect x="221.7" y="560.9" width="0.85" height="0.85" fill="#000" opacity="0.58"/>
<rect x="217.2" y="547.1" width="0.85" height="0.85" fill="#000" opacity="0.54"/>
<rect x="219.4" y="556.7" width="0.85" height="0.85" fill="#000" opacity="0.31"/>
<rect x="225.9" y="559.3" width="0.85" height="0.85" fill="#000" opacity="0.51"/>
<rect x="224.2" y="566.4" width="0.85" height="0.85" fill="#000" opacity="0.45"/>
<rect x="222.1" y="561.7" width="0.85" height="0.85" fill="#000" opacity="0.59"/>
<rect x="218.3" y="558.6" width="0.85" height="0.85" fill="#000" opacity="0.31"/>
<rect x="219.6" y="555.7" width="0.85" height="0.85" fill="#000" opacity="0.43"/>
<rect x="221.3" y="562.2" width="0.85" height="0.85" fill="#000" opacity="0.44"/>
<rect x="217.2" y="561.3" width="0.85" height="0.85" fill="#000" opacity="0.33"/>
<rect x="217.7" y="560.8" width="0.85" height="0.85" fill="#000" opacity="0.30"/>
<rect x="218.3" y="560.2" width="0.85" height="0.85" fill="#000" opacity="0.51"/>
<rect x="220.3" y="552.9" width="0.85" height="0.85" fill="#000" opacity="0.58"/>
<rect x="221.8" y="564.2" width="0.85" height="0.85" fill="#000" opacity="0.41"/>
<rect x="227.1" y="564.0" width="0.85" height="0.85" fill="#000" opacity="0.29"/>
<rect x="225.9" y="559.3" width="0.85" height="0.85" fill="#000" opacity="0.60"/>
<rect x="227.9" y="563.6" width="0.85" height="0.85" fill="#000" opacity="0.59"/>
<rect x="220.6" y="554.0" width="0.85" height="0.85" fill="#000" opacity="0.49"/>
<rect x="211.4" y="561.0" width="0.85" height="0.85" fill="#000" opacity="0.47"/>
<rect x="215.0" y="554.2" width="0.85" height="0.85" fill="#000" opacity="0.23"/>
<rect x="209.1" y="545.3" width="0.85" height="0.85" fill="#000" opacity="0.27"/>
<rect x="216.2" y="570.3" width="0.85" height="0.85" fill="#000" opacity="0.14"/>
<rect x="213.7" y="558.3" width="0.85" height="0.85" fill="#000" opacity="0.25"/>
<rect x="223.3" y="559.4" width="0.85" height="0.85" fill="#000" opacity="0.12"/>
<rect x="218.0" y="553.0" width="0.85" height="0.85" fill="#000" opacity="0.21"/>
<rect x="224.9" y="550.2" width="0.85" height="0.85" fill="#000" opacity="0.13"/>
<rect x="215.8" y="551.4" width="0.85" height="0.85" fill="#000" opacity="0.18"/>
<rect x="224.2" y="570.0" width="0.85" height="0.85" fill="#000" opacity="0.16"/>
<rect x="227.0" y="556.0" width="0.85" height="0.85" fill="#000" opacity="0.24"/>
<rect x="234.8" y="544.5" width="0.85" height="0.85" fill="#000" opacity="0.09"/>
<rect x="222.9" y="555.1" width="0.85" height="0.85" fill="#000" opacity="0.31"/>
<rect x="221.5" y="549.9" width="0.85" height="0.85" fill="#000" opacity="0.25"/>
<rect x="214.8" y="553.0" width="0.85" height="0.85" fill="#000" opacity="0.23"/>
<rect x="212.6" y="560.7" width="0.85" height="0.85" fill="#000" opacity="0.25"/>
<rect x="228.5" y="557.5" width="0.85" height="0.85" fill="#000" opacity="0.25"/>
<rect x="225.1" y="548.2" width="0.85" height="0.85" fill="#000" opacity="0.21"/>
<rect x="222.8" y="562.0" width="0.85" height="0.85" fill="#000" opacity="0.29"/>
<rect x="231.6" y="564.8" width="0.85" height="0.85" fill="#000" opacity="0.11"/>
<rect x="214.7" y="565.8" width="0.85" height="0.85" fill="#000" opacity="0.09"/>
<rect x="211.0" y="562.6" width="0.85" height="0.85" fill="#000" opacity="0.17"/>
<rect x="221.4" y="560.0" width="0.85" height="0.85" fill="#000" opacity="0.31"/>
<rect x="227.1" y="565.6" width="0.85" height="0.85" fill="#000" opacity="0.23"/>
<rect x="219.2" y="568.9" width="0.85" height="0.85" fill="#000" opacity="0.24"/>
<rect x="221.6" y="563.9" width="0.85" height="0.85" fill="#000" opacity="0.30"/>
<rect x="222.2" y="567.6" width="0.85" height="0.85" fill="#000" opacity="0.19"/>
<rect x="222.4" y="538.5" width="0.85" height="0.85" fill="#000" opacity="0.26"/>
<rect x="215.6" y="548.6" width="0.85" height="0.85" fill="#000" opacity="0.10"/>
<rect x="215.2" y="552.5" width="0.85" height="0.85" fill="#000" opacity="0.26"/>
<rect x="218.5" y="560.4" width="0.85" height="0.85" fill="#000" opacity="0.17"/>
<rect x="223.7" y="547.3" width="0.85" height="0.85" fill="#000" opacity="0.24"/>
<rect x="224.2" y="559.3" width="0.85" height="0.85" fill="#000" opacity="0.14"/>
<rect x="217.7" y="557.5" width="0.85" height="0.85" fill="#000" opacity="0.31"/>
<rect x="220.4" y="557.4" width="0.85" height="0.85" fill="#000" opacity="0.14"/>
<rect x="212.8" y="556.9" width="0.85" height="0.85" fill="#000" opacity="0.28"/>
<rect x="233.2" y="570.1" width="0.85" height="0.85" fill="#000" opacity="0.29"/>
<rect x="212.5" y="555.8" width="0.85" height="0.85" fill="#000" opacity="0.15"/>
<rect x="221.0" y="558.1" width="0.85" height="0.85" fill="#000" opacity="0.31"/>
<rect x="225.2" y="550.4" width="0.85" height="0.85" fill="#000" opacity="0.22"/>
<rect x="212.0" y="559.1" width="0.85" height="0.85" fill="#000" opacity="0.10"/>
<rect x="220.6" y="551.1" width="0.85" height="0.85" fill="#000" opacity="0.22"/>
<rect x="212.7" y="544.2" width="0.85" height="0.85" fill="#000" opacity="0.23"/>
<rect x="225.0" y="572.7" width="0.85" height="0.85" fill="#000" opacity="0.17"/>
<rect x="211.2" y="550.4" width="0.85" height="0.85" fill="#000" opacity="0.31"/>
<rect x="225.4" y="563.4" width="0.85" height="0.85" fill="#000" opacity="0.16"/>
<rect x="223.7" y="549.2" width="0.85" height="0.85" fill="#000" opacity="0.30"/>
<rect x="222.1" y="547.5" width="0.85" height="0.85" fill="#000" opacity="0.26"/>
<rect x="219.3" y="552.7" width="0.85" height="0.85" fill="#000" opacity="0.15"/>
<rect x="227.5" y="570.5" width="0.85" height="0.85" fill="#000" opacity="0.17"/>
<rect x="217.7" y="571.3" width="0.85" height="0.85" fill="#000" opacity="0.32"/>
<rect x="225.9" y="568.3" width="0.85" height="0.85" fill="#000" opacity="0.13"/>
<rect x="222.9" y="541.8" width="0.85" height="0.85" fill="#000" opacity="0.26"/>
<rect x="218.0" y="554.6" width="0.85" height="0.85" fill="#000" opacity="0.28"/>
<rect x="226.2" y="565.0" width="0.85" height="0.85" fill="#000" opacity="0.31"/>
<rect x="219.8" y="567.8" width="0.85" height="0.85" fill="#000" opacity="0.24"/>
<rect x="217.5" y="550.3" width="0.85" height="0.85" fill="#000" opacity="0.18"/>
<rect x="227.6" y="547.8" width="0.85" height="0.85" fill="#000" opacity="0.12"/>
<rect x="215.8" y="540.2" width="0.85" height="0.85" fill="#000" opacity="0.22"/>
<rect x="224.0" y="552.4" width="0.85" height="0.85" fill="#000" opacity="0.15"/>
<rect x="223.4" y="551.5" width="0.85" height="0.85" fill="#000" opacity="0.11"/>
<rect x="227.4" y="572.8" width="0.85" height="0.85" fill="#000" opacity="0.28"/>
<rect x="223.5" y="571.8" width="0.85" height="0.85" fill="#000" opacity="0.13"/>
<rect x="219.9" y="556.0" width="0.85" height="0.85" fill="#000" opacity="0.22"/>
<rect x="220.5" y="545.7" width="0.85" height="0.85" fill="#000" opacity="0.23"/>
<rect x="225.1" y="564.1" width="0.85" height="0.85" fill="#000" opacity="0.27"/>
<rect x="214.0" y="568.2" width="0.85" height="0.85" fill="#000" opacity="0.22"/>
<rect x="223.8" y="542.5" width="0.85" height="0.85" fill="#000" opacity="0.15"/>
<rect x="224.8" y="541.1" width="0.85" height="0.85" fill="#000" opacity="0.18"/>
<rect x="219.4" y="547.4" width="0.85" height="0.85" fill="#000" opacity="0.22"/>
<rect x="217.7" y="566.4" width="0.85" height="0.85" fill="#000" opacity="0.15"/>
<rect x="226.6" y="548.9" width="0.85" height="0.85" fill="#000" opacity="0.23"/>
<rect x="214.3" y="555.5" width="0.85" height="0.85" fill="#000" opacity="0.12"/>
<rect x="216.8" y="548.8" width="0.85" height="0.85" fill="#000" opacity="0.16"/>
<rect x="217.5" y="556.6" width="0.85" height="0.85" fill="#000" opacity="0.24"/>
<rect x="221.6" y="548.1" width="0.85" height="0.85" fill="#000" opacity="0.12"/>
<rect x="228.1" y="554.4" width="0.85" height="0.85" fill="#000" opacity="0.16"/>
<rect x="226.7" y="563.7" width="0.85" height="0.85" fill="#000" opacity="0.13"/>
<rect x="227.6" y="548.0" width="0.85" height="0.85" fill="#000" opacity="0.15"/>
<rect x="218.5" y="559.2" width="0.85" height="0.85" fill="#000" opacity="0.13"/>
<rect x="209.7" y="550.0" width="0.85" height="0.85" fill="#000" opacity="0.18"/>
<rect x="224.7" y="555.3" width="0.85" height="0.85" fill="#000" opacity="0.10"/>
<rect x="223.4" y="549.2" width="0.85" height="0.85" fill="#000" opacity="0.15"/>
<rect x="213.3" y="561.5" width="0.85" height="0.85" fill="#000" opacity="0.13"/>
<rect x="226.4" y="564.9" width="0.85" height="0.85" fill="#000" opacity="0.24"/>
<rect x="217.4" y="554.9" width="0.85" height="0.85" fill="#000" opacity="0.29"/>
<rect x="214.2" y="562.1" width="0.85" height="0.85" fill="#000" opacity="0.29"/>
<rect x="224.9" y="565.3" width="0.85" height="0.85" fill="#000" opacity="0.18"/>
<rect x="217.9" y="551.8" width="0.85" height="0.85" fill="#000" opacity="0.14"/>
<rect x="221.5" y="569.0" width="0.85" height="0.85" fill="#000" opacity="0.15"/>
<rect x="230.7" y="548.5" width="0.85" height="0.85" fill="#000" opacity="0.25"/>
<rect x="211.8" y="566.8" width="0.85" height="0.85" fill="#000" opacity="0.22"/>
<rect x="223.3" y="533.9" width="0.85" height="0.85" fill="#000" opacity="0.11"/>
<rect x="221.4" y="536.5" width="0.85" height="0.85" fill="#000" opacity="0.18"/>
<rect x="219.7" y="559.0" width="0.85" height="0.85" fill="#000" opacity="0.30"/>
<rect x="220.7" y="558.2" width="0.85" height="0.85" fill="#000" opacity="0.10"/>
<rect x="212.1" y="555.6" width="0.85" height="0.85" fill="#000" opacity="0.30"/>
<rect x="219.2" y="553.2" width="0.85" height="0.85" fill="#000" opacity="0.30"/>
<rect x="227.5" y="544.5" width="0.85" height="0.85" fill="#000" opacity="0.30"/>
<rect x="224.8" y="544.6" width="0.85" height="0.85" fill="#000" opacity="0.26"/>
<rect x="237.3" y="561.1" width="0.85" height="0.85" fill="#000" opacity="0.08"/>
<rect x="214.0" y="562.6" width="0.85" height="0.85" fill="#000" opacity="0.20"/>
<rect x="217.0" y="566.6" width="0.85" height="0.85" fill="#000" opacity="0.16"/>
<rect x="219.8" y="555.0" width="0.85" height="0.85" fill="#000" opacity="0.16"/>
<rect x="216.9" y="548.5" width="0.85" height="0.85" fill="#000" opacity="0.08"/>
<rect x="208.1" y="562.5" width="0.85" height="0.85" fill="#000" opacity="0.21"/>
<rect x="219.8" y="547.7" width="0.85" height="0.85" fill="#000" opacity="0.32"/>
<rect x="210.4" y="554.3" width="0.85" height="0.85" fill="#000" opacity="0.23"/>
<rect x="222.7" y="548.3" width="0.85" height="0.85" fill="#000" opacity="0.30"/>
<rect x="232.4" y="555.5" width="0.85" height="0.85" fill="#000" opacity="0.30"/>
<rect x="217.1" y="563.5" width="0.85" height="0.85" fill="#000" opacity="0.29"/>
<rect x="223.9" y="545.7" width="0.85" height="0.85" fill="#000" opacity="0.21"/>
<rect x="227.6" y="557.9" width="0.85" height="0.85" fill="#000" opacity="0.09"/>
<rect x="216.6" y="555.9" width="0.85" height="0.85" fill="#000" opacity="0.23"/>
<rect x="223.2" y="564.1" width="0.85" height="0.85" fill="#000" opacity="0.26"/>
<rect x="217.9" y="554.6" width="0.85" height="0.85" fill="#000" opacity="0.32"/>
<rect x="226.2" y="558.3" width="0.85" height="0.85" fill="#000" opacity="0.25"/>
<rect x="213.4" y="550.3" width="0.85" height="0.85" fill="#000" opacity="0.30"/>
<rect x="226.0" y="563.4" width="0.85" height="0.85" fill="#000" opacity="0.14"/>
<rect x="215.4" y="550.8" width="0.85" height="0.85" fill="#000" opacity="0.23"/>
<rect x="222.6" y="546.3" width="0.85" height="0.85" fill="#000" opacity="0.18"/>
<rect x="217.3" y="555.0" width="0.85" height="0.85" fill="#000" opacity="0.30"/>
<rect x="215.4" y="564.1" width="0.85" height="0.85" fill="#000" opacity="0.28"/>
<rect x="230.1" y="528.7" width="0.85" height="0.85" fill="#000" opacity="0.25"/>
<rect x="214.7" y="555.0" width="0.85" height="0.85" fill="#000" opacity="0.27"/>
<rect x="219.9" y="556.1" width="0.85" height="0.85" fill="#000" opacity="0.22"/>
<rect x="217.9" y="549.2" width="0.85" height="0.85" fill="#000" opacity="0.28"/>
<rect x="219.9" y="537.2" width="0.85" height="0.85" fill="#000" opacity="0.15"/>
<rect x="216.7" y="546.6" width="0.85" height="0.85" fill="#000" opacity="0.16"/>
<rect x="219.8" y="560.9" width="0.85" height="0.85" fill="#000" opacity="0.28"/>
<rect x="219.7" y="565.6" width="0.85" height="0.85" fill="#000" opacity="0.14"/>
<rect x="214.4" y="553.1" width="0.85" height="0.85" fill="#000" opacity="0.29"/>
<rect x="225.0" y="561.2" width="0.85" height="0.85" fill="#000" opacity="0.28"/>
<rect x="221.1" y="553.7" width="0.85" height="0.85" fill="#000" opacity="0.19"/>
<rect x="236.1" y="555.8" width="0.85" height="0.85" fill="#000" opacity="0.16"/>
<rect x="220.3" y="548.5" width="0.85" height="0.85" fill="#000" opacity="0.10"/>
<rect x="222.8" y="554.0" width="0.85" height="0.85" fill="#000" opacity="0.32"/>
<rect x="210.0" y="562.6" width="0.85" height="0.85" fill="#000" opacity="0.19"/>
<rect x="228.0" y="547.8" width="0.85" height="0.85" fill="#000" opacity="0.12"/>
<rect x="223.9" y="557.9" width="0.85" height="0.85" fill="#000" opacity="0.23"/>
<rect x="222.2" y="559.4" width="0.85" height="0.85" fill="#000" opacity="0.17"/>
<rect x="225.0" y="559.7" width="0.85" height="0.85" fill="#000" opacity="0.23"/>
<rect x="221.9" y="573.6" width="0.85" height="0.85" fill="#000" opacity="0.14"/>
<rect x="216.7" y="564.3" width="0.85" height="0.85" fill="#000" opacity="0.28"/>
<rect x="230.3" y="562.1" width="0.85" height="0.85" fill="#000" opacity="0.10"/>
<rect x="227.5" y="554.8" width="0.85" height="0.85" fill="#000" opacity="0.26"/>
<rect x="212.2" y="555.7" width="0.85" height="0.85" fill="#000" opacity="0.24"/>
<rect x="222.7" y="561.9" width="0.85" height="0.85" fill="#000" opacity="0.30"/>
<rect x="221.3" y="564.0" width="0.85" height="0.85" fill="#000" opacity="0.09"/>
<rect x="218.2" y="540.7" width="0.85" height="0.85" fill="#000" opacity="0.09"/>
<rect x="222.3" y="553.4" width="0.85" height="0.85" fill="#000" opacity="0.20"/>
<rect x="216.2" y="556.4" width="0.85" height="0.85" fill="#000" opacity="0.16"/>
<rect x="210.7" y="557.9" width="0.85" height="0.85" fill="#000" opacity="0.14"/>
<rect x="222.2" y="582.9" width="0.85" height="0.85" fill="#000" opacity="0.14"/>
<rect x="230.8" y="570.3" width="0.85" height="0.85" fill="#000" opacity="0.30"/>
<rect x="222.0" y="568.4" width="0.85" height="0.85" fill="#000" opacity="0.29"/>
<rect x="218.3" y="564.8" width="0.85" height="0.85" fill="#000" opacity="0.08"/>
<rect x="225.8" y="566.4" width="0.85" height="0.85" fill="#000" opacity="0.20"/>
<rect x="224.4" y="549.2" width="0.85" height="0.85" fill="#000" opacity="0.15"/>
<rect x="218.1" y="560.2" width="0.85" height="0.85" fill="#000" opacity="0.20"/>
<rect x="219.2" y="551.3" width="0.85" height="0.85" fill="#000" opacity="0.22"/>
<rect x="229.1" y="556.8" width="0.85" height="0.85" fill="#000" opacity="0.16"/>
<rect x="218.8" y="553.4" width="0.85" height="0.85" fill="#000" opacity="0.11"/>
<rect x="223.7" y="543.1" width="0.85" height="0.85" fill="#000" opacity="0.23"/>
<rect x="215.7" y="553.7" width="0.85" height="0.85" fill="#000" opacity="0.28"/>
<rect x="210.1" y="555.3" width="0.85" height="0.85" fill="#000" opacity="0.26"/>
<rect x="215.3" y="572.1" width="0.85" height="0.85" fill="#000" opacity="0.16"/>
<rect x="212.5" y="544.8" width="0.85" height="0.85" fill="#000" opacity="0.31"/>
<rect x="217.8" y="552.6" width="0.85" height="0.85" fill="#000" opacity="0.12"/>
<rect x="222.8" y="549.9" width="0.85" height="0.85" fill="#000" opacity="0.12"/>
<rect x="215.4" y="552.3" width="0.85" height="0.85" fill="#000" opacity="0.26"/>
<rect x="223.4" y="567.3" width="0.85" height="0.85" fill="#000" opacity="0.31"/>
<rect x="223.1" y="565.3" width="0.85" height="0.85" fill="#000" opacity="0.17"/>
<rect x="222.6" y="560.9" width="0.85" height="0.85" fill="#000" opacity="0.16"/>
<rect x="217.6" y="555.4" width="0.85" height="0.85" fill="#000" opacity="0.23"/>
<rect x="217.2" y="562.7" width="0.85" height="0.85" fill="#000" opacity="0.28"/>
<rect x="220.2" y="546.7" width="0.85" height="0.85" fill="#000" opacity="0.14"/>
<rect x="212.4" y="556.2" width="0.85" height="0.85" fill="#000" opacity="0.26"/>
<rect x="220.4" y="556.6" width="0.85" height="0.85" fill="#000" opacity="0.12"/>
<rect x="227.5" y="556.7" width="0.85" height="0.85" fill="#000" opacity="0.20"/>
<rect x="227.9" y="568.0" width="0.85" height="0.85" fill="#000" opacity="0.28"/>
<rect x="218.9" y="564.0" width="0.85" height="0.85" fill="#000" opacity="0.10"/>
<rect x="218.2" y="567.7" width="0.85" height="0.85" fill="#000" opacity="0.19"/>
<rect x="223.0" y="557.2" width="0.85" height="0.85" fill="#000" opacity="0.14"/>
<rect x="227.5" y="535.5" width="0.85" height="0.85" fill="#000" opacity="0.29"/>
<rect x="215.2" y="557.4" width="0.85" height="0.85" fill="#000" opacity="0.29"/>
<rect x="220.8" y="543.3" width="0.85" height="0.85" fill="#000" opacity="0.25"/>
<rect x="226.8" y="552.6" width="0.85" height="0.85" fill="#000" opacity="0.14"/>
<rect x="219.2" y="535.2" width="0.85" height="0.85" fill="#000" opacity="0.13"/>
<rect x="213.4" y="567.7" width="0.85" height="0.85" fill="#000" opacity="0.27"/>
<rect x="230.1" y="562.5" width="0.85" height="0.85" fill="#000" opacity="0.14"/>
<rect x="221.7" y="559.1" width="0.85" height="0.85" fill="#000" opacity="0.19"/>
<rect x="217.1" y="558.8" width="0.85" height="0.85" fill="#000" opacity="0.25"/>
<rect x="225.6" y="577.1" width="0.85" height="0.85" fill="#000" opacity="0.32"/>
<rect x="219.9" y="558.8" width="0.85" height="0.85" fill="#000" opacity="0.10"/>
<rect x="215.4" y="555.1" width="0.85" height="0.85" fill="#000" opacity="0.27"/>
<rect x="216.9" y="561.0" width="0.85" height="0.85" fill="#000" opacity="0.12"/>
<rect x="230.0" y="556.2" width="0.85" height="0.85" fill="#000" opacity="0.24"/>
<rect x="221.6" y="567.1" width="0.85" height="0.85" fill="#000" opacity="0.26"/>
<rect x="217.8" y="550.9" width="0.85" height="0.85" fill="#000" opacity="0.16"/>
<rect x="221.2" y="554.1" width="0.85" height="0.85" fill="#000" opacity="0.24"/>
<rect x="218.7" y="546.0" width="0.85" height="0.85" fill="#000" opacity="0.21"/>
<rect x="224.9" y="553.2" width="0.85" height="0.85" fill="#000" opacity="0.26"/>
<rect x="218.9" y="541.7" width="0.85" height="0.85" fill="#000" opacity="0.10"/>
<rect x="218.6" y="548.4" width="0.85" height="0.85" fill="#000" opacity="0.11"/>
<rect x="224.2" y="552.9" width="0.85" height="0.85" fill="#000" opacity="0.19"/>
<rect x="219.5" y="561.3" width="0.85" height="0.85" fill="#000" opacity="0.15"/>
<rect x="214.4" y="548.2" width="0.85" height="0.85" fill="#000" opacity="0.26"/>
<rect x="223.1" y="563.2" width="0.85" height="0.85" fill="#000" opacity="0.28"/>
<rect x="211.4" y="554.6" width="0.85" height="0.85" fill="#000" opacity="0.19"/>
<rect x="219.2" y="558.2" width="0.85" height="0.85" fill="#000" opacity="0.28"/>
<rect x="227.8" y="548.5" width="0.85" height="0.85" fill="#000" opacity="0.13"/>
<rect x="214.7" y="546.6" width="0.85" height="0.85" fill="#000" opacity="0.15"/>
<rect x="212.1" y="571.0" width="0.85" height="0.85" fill="#000" opacity="0.14"/>
<rect x="219.2" y="555.1" width="0.85" height="0.85" fill="#000" opacity="0.09"/>
<rect x="225.1" y="559.2" width="0.85" height="0.85" fill="#000" opacity="0.30"/>
<rect x="214.8" y="551.9" width="0.85" height="0.85" fill="#000" opacity="0.12"/>
<rect x="217.7" y="555.2" width="0.85" height="0.85" fill="#000" opacity="0.10"/>
<rect x="218.3" y="563.3" width="0.85" height="0.85" fill="#000" opacity="0.27"/>
<rect x="213.1" y="551.7" width="0.85" height="0.85" fill="#000" opacity="0.15"/>
<rect x="218.4" y="559.9" width="0.85" height="0.85" fill="#000" opacity="0.15"/>
<rect x="228.8" y="556.4" width="0.85" height="0.85" fill="#000" opacity="0.16"/>
<rect x="212.0" y="541.8" width="0.85" height="0.85" fill="#000" opacity="0.27"/>
<rect x="217.3" y="556.1" width="0.85" height="0.85" fill="#000" opacity="0.09"/>
<rect x="229.9" y="564.6" width="0.85" height="0.85" fill="#000" opacity="0.27"/>
<rect x="217.7" y="542.5" width="0.85" height="0.85" fill="#000" opacity="0.11"/>
<rect x="219.8" y="556.4" width="0.85" height="0.85" fill="#000" opacity="0.09"/>
<rect x="220.0" y="556.2" width="0.85" height="0.85" fill="#000" opacity="0.18"/>
<rect x="213.7" y="572.3" width="0.85" height="0.85" fill="#000" opacity="0.16"/>
<rect x="222.8" y="570.8" width="0.85" height="0.85" fill="#000" opacity="0.12"/>
<rect x="233.1" y="554.2" width="0.85" height="0.85" fill="#000" opacity="0.32"/>
<rect x="217.9" y="552.9" width="0.85" height="0.85" fill="#000" opacity="0.13"/>
<rect x="219.2" y="547.0" width="0.85" height="0.85" fill="#000" opacity="0.25"/>
<rect x="222.3" y="568.9" width="0.85" height="0.85" fill="#000" opacity="0.29"/>
<rect x="218.1" y="574.5" width="0.85" height="0.85" fill="#000" opacity="0.11"/>
<rect x="219.7" y="554.6" width="0.85" height="0.85" fill="#000" opacity="0.14"/>
<rect x="223.8" y="559.7" width="0.85" height="0.85" fill="#000" opacity="0.21"/>
<rect x="224.4" y="540.9" width="0.85" height="0.85" fill="#000" opacity="0.30"/>
<rect x="220.7" y="579.4" width="0.85" height="0.85" fill="#000" opacity="0.18"/>
<rect x="216.0" y="543.8" width="0.85" height="0.85" fill="#000" opacity="0.15"/>
<rect x="219.3" y="567.0" width="0.85" height="0.85" fill="#000" opacity="0.16"/>
<rect x="219.0" y="538.1" width="0.85" height="0.85" fill="#000" opacity="0.24"/>
<rect x="230.0" y="562.1" width="0.85" height="0.85" fill="#000" opacity="0.26"/>
<rect x="224.1" y="556.4" width="0.85" height="0.85" fill="#000" opacity="0.30"/>
<rect x="214.8" y="564.3" width="0.85" height="0.85" fill="#000" opacity="0.13"/>
<rect x="220.4" y="566.9" width="0.85" height="0.85" fill="#000" opacity="0.22"/>
<rect x="220.2" y="569.1" width="0.85" height="0.85" fill="#000" opacity="0.18"/>
<rect x="222.1" y="570.5" width="0.85" height="0.85" fill="#000" opacity="0.16"/>
<rect x="224.6" y="558.6" width="0.85" height="0.85" fill="#000" opacity="0.18"/>
<rect x="218.9" y="554.6" width="0.85" height="0.85" fill="#000" opacity="0.29"/>
<rect x="232.4" y="567.9" width="0.85" height="0.85" fill="#000" opacity="0.09"/>
<rect x="218.7" y="565.0" width="0.85" height="0.85" fill="#000" opacity="0.24"/>
<rect x="223.7" y="560.4" width="0.85" height="0.85" fill="#000" opacity="0.28"/>
<rect x="222.2" y="555.4" width="0.85" height="0.85" fill="#000" opacity="0.10"/>
<rect x="217.6" y="564.6" width="0.85" height="0.85" fill="#000" opacity="0.24"/>
<rect x="227.9" y="552.2" width="0.85" height="0.85" fill="#000" opacity="0.16"/>
<rect x="220.9" y="560.4" width="0.85" height="0.85" fill="#000" opacity="0.10"/>
<rect x="227.8" y="542.6" width="0.85" height="0.85" fill="#000" opacity="0.17"/>
<rect x="222.5" y="575.6" width="0.85" height="0.85" fill="#000" opacity="0.14"/>
<rect x="210.8" y="568.2" width="0.85" height="0.85" fill="#000" opacity="0.09"/>
<rect x="218.2" y="562.0" width="0.85" height="0.85" fill="#000" opacity="0.19"/>
<rect x="166.00" y="492.00" width="103.10" height="100.60" fill="none" stroke="#000" stroke-width="1.1"/>
<line x1="166.00" y1="491.40" x2="166.00" y2="593.20" stroke="#000" stroke-width="2.2"/>
<line x1="165.50" y1="592.60" x2="269.60" y2="592.60" stroke="#000" stroke-width="1.3"/>
<line x1="203.30" y1="492.00" x2="203.30" y2="592.60" stroke="#000" stroke-width="1.1"/>
<line x1="166.00" y1="554.60" x2="269.10" y2="554.60" stroke="#000" stroke-width="1.2"/>
<polyline points="205.90,554.60 205.90,516.10 242.40,516.10 242.40,554.60" fill="none" stroke="#9a9a9a" stroke-width="1.1"/>
<line x1="163.40" y1="592.60" x2="166.00" y2="592.60" stroke="#000" stroke-width="1.1"/>
<text x="160.40" y="597.50" font-size="6.4" font-weight="bold" text-anchor="end" stroke="#000" stroke-width="0.1" textLength="6.6" lengthAdjust="spacingAndGlyphs">10</text>
<text x="160.60" y="592.70" font-size="4.6" stroke="#000" stroke-width="0.2">0</text>
<line x1="164.50" y1="585.03" x2="166.00" y2="585.03" stroke="#000" stroke-width="0.9"/>
<line x1="164.50" y1="580.60" x2="166.00" y2="580.60" stroke="#000" stroke-width="0.9"/>
<line x1="164.50" y1="577.46" x2="166.00" y2="577.46" stroke="#000" stroke-width="0.9"/>
<line x1="164.50" y1="575.02" x2="166.00" y2="575.02" stroke="#000" stroke-width="0.9"/>
<line x1="164.50" y1="573.03" x2="166.00" y2="573.03" stroke="#000" stroke-width="0.9"/>
<line x1="164.50" y1="571.35" x2="166.00" y2="571.35" stroke="#000" stroke-width="0.9"/>
<line x1="164.50" y1="569.89" x2="166.00" y2="569.89" stroke="#000" stroke-width="0.9"/>
<line x1="164.50" y1="568.60" x2="166.00" y2="568.60" stroke="#000" stroke-width="0.9"/>
<line x1="163.40" y1="567.45" x2="166.00" y2="567.45" stroke="#000" stroke-width="1.1"/>
<text x="160.40" y="572.35" font-size="6.4" font-weight="bold" text-anchor="end" stroke="#000" stroke-width="0.1" textLength="6.6" lengthAdjust="spacingAndGlyphs">10</text>
<text x="160.60" y="567.55" font-size="4.6" stroke="#000" stroke-width="0.2">1</text>
<line x1="164.50" y1="559.88" x2="166.00" y2="559.88" stroke="#000" stroke-width="0.9"/>
<line x1="164.50" y1="555.45" x2="166.00" y2="555.45" stroke="#000" stroke-width="0.9"/>
<line x1="164.50" y1="552.31" x2="166.00" y2="552.31" stroke="#000" stroke-width="0.9"/>
<line x1="164.50" y1="549.87" x2="166.00" y2="549.87" stroke="#000" stroke-width="0.9"/>
<line x1="164.50" y1="547.88" x2="166.00" y2="547.88" stroke="#000" stroke-width="0.9"/>
<line x1="164.50" y1="546.20" x2="166.00" y2="546.20" stroke="#000" stroke-width="0.9"/>
<line x1="164.50" y1="544.74" x2="166.00" y2="544.74" stroke="#000" stroke-width="0.9"/>
<line x1="164.50" y1="543.45" x2="166.00" y2="543.45" stroke="#000" stroke-width="0.9"/>
<line x1="163.40" y1="542.30" x2="166.00" y2="542.30" stroke="#000" stroke-width="1.1"/>
<text x="160.40" y="547.20" font-size="6.4" font-weight="bold" text-anchor="end" stroke="#000" stroke-width="0.1" textLength="6.6" lengthAdjust="spacingAndGlyphs">10</text>
<text x="160.60" y="542.40" font-size="4.6" stroke="#000" stroke-width="0.2">2</text>
<line x1="164.50" y1="534.73" x2="166.00" y2="534.73" stroke="#000" stroke-width="0.9"/>
<line x1="164.50" y1="530.30" x2="166.00" y2="530.30" stroke="#000" stroke-width="0.9"/>
<line x1="164.50" y1="527.16" x2="166.00" y2="527.16" stroke="#000" stroke-width="0.9"/>
<line x1="164.50" y1="524.72" x2="166.00" y2="524.72" stroke="#000" stroke-width="0.9"/>
<line x1="164.50" y1="522.73" x2="166.00" y2="522.73" stroke="#000" stroke-width="0.9"/>
<line x1="164.50" y1="521.05" x2="166.00" y2="521.05" stroke="#000" stroke-width="0.9"/>
<line x1="164.50" y1="519.59" x2="166.00" y2="519.59" stroke="#000" stroke-width="0.9"/>
<line x1="164.50" y1="518.30" x2="166.00" y2="518.30" stroke="#000" stroke-width="0.9"/>
<line x1="163.40" y1="517.15" x2="166.00" y2="517.15" stroke="#000" stroke-width="1.1"/>
<text x="160.40" y="522.05" font-size="6.4" font-weight="bold" text-anchor="end" stroke="#000" stroke-width="0.1" textLength="6.6" lengthAdjust="spacingAndGlyphs">10</text>
<text x="160.60" y="517.25" font-size="4.6" stroke="#000" stroke-width="0.2">3</text>
<line x1="164.50" y1="509.58" x2="166.00" y2="509.58" stroke="#000" stroke-width="0.9"/>
<line x1="164.50" y1="505.15" x2="166.00" y2="505.15" stroke="#000" stroke-width="0.9"/>
<line x1="164.50" y1="502.01" x2="166.00" y2="502.01" stroke="#000" stroke-width="0.9"/>
<line x1="164.50" y1="499.57" x2="166.00" y2="499.57" stroke="#000" stroke-width="0.9"/>
<line x1="164.50" y1="497.58" x2="166.00" y2="497.58" stroke="#000" stroke-width="0.9"/>
<line x1="164.50" y1="495.90" x2="166.00" y2="495.90" stroke="#000" stroke-width="0.9"/>
<line x1="164.50" y1="494.44" x2="166.00" y2="494.44" stroke="#000" stroke-width="0.9"/>
<line x1="164.50" y1="493.15" x2="166.00" y2="493.15" stroke="#000" stroke-width="0.9"/>
<line x1="163.40" y1="492.00" x2="166.00" y2="492.00" stroke="#000" stroke-width="1.1"/>
<text x="160.40" y="496.90" font-size="6.4" font-weight="bold" text-anchor="end" stroke="#000" stroke-width="0.1" textLength="6.6" lengthAdjust="spacingAndGlyphs">10</text>
<text x="160.60" y="492.10" font-size="4.6" stroke="#000" stroke-width="0.2">4</text>
<line x1="166.00" y1="592.60" x2="166.00" y2="595.20" stroke="#000" stroke-width="1.1"/>
<text x="165.00" y="604.60" font-size="6.4" text-anchor="middle" stroke="#000" stroke-width="0.35" textLength="5.6" lengthAdjust="spacingAndGlyphs">10</text>
<text x="167.20" y="600.50" font-size="4.6" stroke="#000" stroke-width="0.2">0</text>
<line x1="173.76" y1="592.60" x2="173.76" y2="594.00" stroke="#000" stroke-width="0.9"/>
<line x1="178.30" y1="592.60" x2="178.30" y2="594.00" stroke="#000" stroke-width="0.9"/>
<line x1="181.52" y1="592.60" x2="181.52" y2="594.00" stroke="#000" stroke-width="0.9"/>
<line x1="184.02" y1="592.60" x2="184.02" y2="594.00" stroke="#000" stroke-width="0.9"/>
<line x1="186.06" y1="592.60" x2="186.06" y2="594.00" stroke="#000" stroke-width="0.9"/>
<line x1="187.78" y1="592.60" x2="187.78" y2="594.00" stroke="#000" stroke-width="0.9"/>
<line x1="189.28" y1="592.60" x2="189.28" y2="594.00" stroke="#000" stroke-width="0.9"/>
<line x1="190.60" y1="592.60" x2="190.60" y2="594.00" stroke="#000" stroke-width="0.9"/>
<line x1="191.78" y1="592.60" x2="191.78" y2="595.20" stroke="#000" stroke-width="1.1"/>
<text x="190.78" y="604.60" font-size="6.4" text-anchor="middle" stroke="#000" stroke-width="0.35" textLength="5.6" lengthAdjust="spacingAndGlyphs">10</text>
<text x="192.97" y="600.50" font-size="4.6" stroke="#000" stroke-width="0.2">1</text>
<line x1="199.53" y1="592.60" x2="199.53" y2="594.00" stroke="#000" stroke-width="0.9"/>
<line x1="204.07" y1="592.60" x2="204.07" y2="594.00" stroke="#000" stroke-width="0.9"/>
<line x1="207.29" y1="592.60" x2="207.29" y2="594.00" stroke="#000" stroke-width="0.9"/>
<line x1="209.79" y1="592.60" x2="209.79" y2="594.00" stroke="#000" stroke-width="0.9"/>
<line x1="211.83" y1="592.60" x2="211.83" y2="594.00" stroke="#000" stroke-width="0.9"/>
<line x1="213.56" y1="592.60" x2="213.56" y2="594.00" stroke="#000" stroke-width="0.9"/>
<line x1="215.05" y1="592.60" x2="215.05" y2="594.00" stroke="#000" stroke-width="0.9"/>
<line x1="216.37" y1="592.60" x2="216.37" y2="594.00" stroke="#000" stroke-width="0.9"/>
<line x1="217.55" y1="592.60" x2="217.55" y2="595.20" stroke="#000" stroke-width="1.1"/>
<text x="216.55" y="604.60" font-size="6.4" text-anchor="middle" stroke="#000" stroke-width="0.35" textLength="5.6" lengthAdjust="spacingAndGlyphs">10</text>
<text x="218.75" y="600.50" font-size="4.6" stroke="#000" stroke-width="0.2">2</text>
<line x1="225.31" y1="592.60" x2="225.31" y2="594.00" stroke="#000" stroke-width="0.9"/>
<line x1="229.85" y1="592.60" x2="229.85" y2="594.00" stroke="#000" stroke-width="0.9"/>
<line x1="233.07" y1="592.60" x2="233.07" y2="594.00" stroke="#000" stroke-width="0.9"/>
<line x1="235.57" y1="592.60" x2="235.57" y2="594.00" stroke="#000" stroke-width="0.9"/>
<line x1="237.61" y1="592.60" x2="237.61" y2="594.00" stroke="#000" stroke-width="0.9"/>
<line x1="239.33" y1="592.60" x2="239.33" y2="594.00" stroke="#000" stroke-width="0.9"/>
<line x1="240.83" y1="592.60" x2="240.83" y2="594.00" stroke="#000" stroke-width="0.9"/>
<line x1="242.15" y1="592.60" x2="242.15" y2="594.00" stroke="#000" stroke-width="0.9"/>
<line x1="243.33" y1="592.60" x2="243.33" y2="595.20" stroke="#000" stroke-width="1.1"/>
<text x="242.33" y="604.60" font-size="6.4" text-anchor="middle" stroke="#000" stroke-width="0.35" textLength="5.6" lengthAdjust="spacingAndGlyphs">10</text>
<text x="244.53" y="600.50" font-size="4.6" stroke="#000" stroke-width="0.2">3</text>
<line x1="251.08" y1="592.60" x2="251.08" y2="594.00" stroke="#000" stroke-width="0.9"/>
<line x1="255.62" y1="592.60" x2="255.62" y2="594.00" stroke="#000" stroke-width="0.9"/>
<line x1="258.84" y1="592.60" x2="258.84" y2="594.00" stroke="#000" stroke-width="0.9"/>
<line x1="261.34" y1="592.60" x2="261.34" y2="594.00" stroke="#000" stroke-width="0.9"/>
<line x1="263.38" y1="592.60" x2="263.38" y2="594.00" stroke="#000" stroke-width="0.9"/>
<line x1="265.11" y1="592.60" x2="265.11" y2="594.00" stroke="#000" stroke-width="0.9"/>
<line x1="266.60" y1="592.60" x2="266.60" y2="594.00" stroke="#000" stroke-width="0.9"/>
<line x1="267.92" y1="592.60" x2="267.92" y2="594.00" stroke="#000" stroke-width="0.9"/>
<line x1="269.10" y1="592.60" x2="269.10" y2="595.20" stroke="#000" stroke-width="1.1"/>
<text x="268.10" y="604.60" font-size="6.4" text-anchor="middle" stroke="#000" stroke-width="0.35" textLength="5.6" lengthAdjust="spacingAndGlyphs">10</text>
<text x="270.30" y="600.50" font-size="4.6" stroke="#000" stroke-width="0.2">4</text>
<text x="167.60" y="500.50" font-size="6.9" font-weight="bold" stroke="#000" stroke-width="0.2" textLength="22.5" lengthAdjust="spacingAndGlyphs">0.00%</text>
<text x="274.30" y="500.50" font-size="6.9" font-weight="bold" text-anchor="end" stroke="#000" stroke-width="0.2" textLength="26.5" lengthAdjust="spacingAndGlyphs">22.46%</text>
<text x="214.10" y="501.60" font-size="7.9" fill="#939393" stroke="#939393" stroke-width="0.2" textLength="29.2" lengthAdjust="spacingAndGlyphs">CD123+</text>
<text x="215.00" y="510.30" font-size="7.9" fill="#939393" stroke="#939393" stroke-width="0.2" textLength="26.8" lengthAdjust="spacingAndGlyphs">22.46%</text>
<text x="167.60" y="587.30" font-size="6.9" font-weight="bold" stroke="#000" stroke-width="0.2" textLength="22.5" lengthAdjust="spacingAndGlyphs">0.00%</text>
<text x="274.30" y="587.30" font-size="6.9" font-weight="bold" text-anchor="end" stroke="#000" stroke-width="0.2" textLength="25.8" lengthAdjust="spacingAndGlyphs">77.54%</text>
<text transform="translate(3.20,542.70) rotate(-90)" x="0" y="2.87" font-size="8.2" font-weight="bold" stroke="#000" stroke-width="0.3" text-anchor="middle" textLength="38" lengthAdjust="spacingAndGlyphs">CD123 PE</text>
<text transform="translate(143.20,541.50) rotate(-90)" x="0" y="2.87" font-size="8.2" font-weight="bold" stroke="#000" stroke-width="0.3" text-anchor="middle" textLength="38" lengthAdjust="spacingAndGlyphs">CD123 PE</text>
<text x="74.50" y="611.20" font-size="8.6" text-anchor="middle" stroke="#000" stroke-width="0.3" textLength="45" lengthAdjust="spacingAndGlyphs">CD34 PECy7</text>
<text x="216.00" y="611.80" font-size="8.6" text-anchor="middle" stroke="#000" stroke-width="0.3" textLength="45.7" lengthAdjust="spacingAndGlyphs">CD34 PECy7</text>
<rect x="25.3" y="623.8" width="243.5" height="35.6" fill="none" stroke="#e6e6e6" stroke-width="1"/>
<line x1="25.30" y1="641.80" x2="268.80" y2="641.80" stroke="#e6e6e6" stroke-width="1"/>
<line x1="146.50" y1="641.80" x2="146.50" y2="659.40" stroke="#e6e6e6" stroke-width="1"/>
<text x="33.7" y="637.3" font-size="10.6" stroke="#000" stroke-width="0.15" textLength="131.6" lengthAdjust="spacingAndGlyphs">total number of CD34<tspan font-size="7" dy="-4.2">+</tspan><tspan dy="4.2"> cells</tspan></text>
<text x="86.50" y="654.90" font-size="10.6" text-anchor="middle" stroke="#000" stroke-width="0.3" textLength="32.3" lengthAdjust="spacingAndGlyphs">10 408</text>
<text x="207.70" y="654.90" font-size="10.6" text-anchor="middle" stroke="#000" stroke-width="0.3">4328</text>
<text x="287.30" y="452.90" font-size="18.5" font-weight="bold" stroke="#000" stroke-width="0.6">F</text>
<line x1="321.00" y1="503.70" x2="321.00" y2="680.20" stroke="#000" stroke-width="1.7"/>
<line x1="316.50" y1="679.40" x2="321.00" y2="679.40" stroke="#000" stroke-width="1.4"/>
<text transform="translate(317.00,682.60) scale(0.9,1)" font-size="10.0" font-weight="bold" text-anchor="end" stroke="#000" stroke-width="0.3">0</text>
<line x1="316.50" y1="644.28" x2="321.00" y2="644.28" stroke="#000" stroke-width="1.4"/>
<text transform="translate(317.00,647.48) scale(0.9,1)" font-size="10.0" font-weight="bold" text-anchor="end" stroke="#000" stroke-width="0.3">20</text>
<line x1="316.50" y1="609.16" x2="321.00" y2="609.16" stroke="#000" stroke-width="1.4"/>
<text transform="translate(317.00,612.36) scale(0.9,1)" font-size="10.0" font-weight="bold" text-anchor="end" stroke="#000" stroke-width="0.3">40</text>
<line x1="316.50" y1="574.04" x2="321.00" y2="574.04" stroke="#000" stroke-width="1.4"/>
<text transform="translate(317.00,577.24) scale(0.9,1)" font-size="10.0" font-weight="bold" text-anchor="end" stroke="#000" stroke-width="0.3">60</text>
<line x1="316.50" y1="538.92" x2="321.00" y2="538.92" stroke="#000" stroke-width="1.4"/>
<text transform="translate(317.00,542.12) scale(0.9,1)" font-size="10.0" font-weight="bold" text-anchor="end" stroke="#000" stroke-width="0.3">80</text>
<line x1="316.50" y1="503.80" x2="321.00" y2="503.80" stroke="#000" stroke-width="1.4"/>
<text transform="translate(317.00,507.00) scale(0.9,1)" font-size="10.0" font-weight="bold" text-anchor="end" stroke="#000" stroke-width="0.3">100</text>
<line x1="320.20" y1="679.40" x2="518.80" y2="679.40" stroke="#000" stroke-width="1.7"/>
<line x1="370.30" y1="679.40" x2="370.30" y2="682.60" stroke="#000" stroke-width="1.4"/>
<text transform="translate(370.30,692.20) scale(0.9,1)" font-size="10.0" font-weight="bold" text-anchor="middle" stroke="#000" stroke-width="0.3">0</text>
<line x1="469.20" y1="679.40" x2="469.20" y2="682.60" stroke="#000" stroke-width="1.4"/>
<text transform="translate(469.20,692.20) scale(0.9,1)" font-size="10.0" font-weight="bold" text-anchor="middle" stroke="#000" stroke-width="0.3">1</text>
<text transform="translate(295.5,591.7) rotate(-90)" x="0" y="3.5" font-size="10" font-weight="bold" text-anchor="middle">% CD123<tspan font-size="6.5" dy="-4">+</tspan><tspan dy="4"> cells</tspan></text>
<text x="420.00" y="709.40" font-size="10.2" font-weight="bold" text-anchor="middle" stroke="#000" stroke-width="0.3">CSL362 [µg/ml]</text>
<line x1="338.90" y1="585.28" x2="338.90" y2="578.96" stroke="#000" stroke-width="1.6"/>
<line x1="335.15" y1="578.96" x2="342.65" y2="578.96" stroke="#000" stroke-width="1.6"/>
<rect x="332.00" y="585.28" width="13.80" height="94.12" fill="#333333"/>
<line x1="359.90" y1="604.24" x2="359.90" y2="584.75" stroke="#000" stroke-width="1.6"/>
<line x1="356.15" y1="584.75" x2="363.65" y2="584.75" stroke="#000" stroke-width="1.6"/>
<rect x="352.80" y="604.24" width="14.20" height="75.16" fill="url(#chkF)"/>
<line x1="381.05" y1="518.02" x2="381.05" y2="512.23" stroke="#000" stroke-width="1.6"/>
<line x1="377.30" y1="512.23" x2="384.80" y2="512.23" stroke="#000" stroke-width="1.6"/>
<rect x="374.00" y="518.02" width="14.10" height="161.38" fill="#808080"/>
<line x1="402.20" y1="554.90" x2="402.20" y2="549.46" stroke="#000" stroke-width="1.6"/>
<line x1="398.45" y1="549.46" x2="405.95" y2="549.46" stroke="#000" stroke-width="1.6"/>
<rect x="395.10" y="554.90" width="14.20" height="124.50" fill="url(#chkF)"/>
<line x1="437.80" y1="626.54" x2="437.80" y2="621.28" stroke="#000" stroke-width="1.6"/>
<line x1="434.05" y1="621.28" x2="441.55" y2="621.28" stroke="#000" stroke-width="1.6"/>
<rect x="430.90" y="626.54" width="13.80" height="52.86" fill="#333333"/>
<line x1="458.80" y1="646.74" x2="458.80" y2="633.04" stroke="#000" stroke-width="1.6"/>
<line x1="455.05" y1="633.04" x2="462.55" y2="633.04" stroke="#000" stroke-width="1.6"/>
<rect x="451.70" y="646.74" width="14.20" height="32.66" fill="url(#chkF)"/>
<line x1="479.95" y1="545.77" x2="479.95" y2="541.91" stroke="#000" stroke-width="1.6"/>
<line x1="476.20" y1="541.91" x2="483.70" y2="541.91" stroke="#000" stroke-width="1.6"/>
<rect x="472.90" y="545.77" width="14.10" height="133.63" fill="#808080"/>
<line x1="501.10" y1="617.41" x2="501.10" y2="602.31" stroke="#000" stroke-width="1.6"/>
<line x1="497.35" y1="602.31" x2="504.85" y2="602.31" stroke="#000" stroke-width="1.6"/>
<rect x="494.00" y="617.41" width="14.20" height="61.99" fill="url(#chkF)"/>
<line x1="320.20" y1="679.40" x2="518.80" y2="679.40" stroke="#000" stroke-width="1.7"/>
<text x="437.50" y="617.88" font-size="13.5" font-weight="bold" text-anchor="middle" stroke="#000" stroke-width="0.3">***</text>
<text x="447.00" y="629.60" font-size="8.6" stroke="#000" stroke-width="0.2" textLength="24" lengthAdjust="spacingAndGlyphs">p=0.10</text>
<text x="479.20" y="539.23" font-size="13" font-weight="bold" text-anchor="middle" stroke="#000" stroke-width="0.3">*</text>
<text x="501.40" y="600.33" font-size="13" font-weight="bold" text-anchor="middle" stroke="#000" stroke-width="0.3">*</text>
<rect x="332.30" y="438.20" width="12.30" height="9.90" fill="#333333"/>
<rect x="332.30" y="453.00" width="12.30" height="9.50" fill="url(#chkF)"/>
<rect x="332.30" y="471.00" width="12.30" height="9.50" fill="#808080"/>
<rect x="332.30" y="484.70" width="12.30" height="9.50" fill="url(#chkF)"/>
<text x="353.2" y="449.3" font-size="10.5" stroke="#000" stroke-width="0.2" textLength="101.8" lengthAdjust="spacingAndGlyphs">CP-CML CD34<tspan font-size="7.5" dy="-4.3" font-weight="bold">+</tspan><tspan dy="4.3"> (n=7)</tspan></text>
<text x="353.2" y="462.6" font-size="10.5" stroke="#000" stroke-width="0.2" textLength="132.2" lengthAdjust="spacingAndGlyphs">CP-CML CD34<tspan font-size="7.5" dy="-4.3" font-weight="bold">+</tspan><tspan dy="4.3">/CD38</tspan><tspan font-size="7.5" dy="-4.3" font-weight="bold">-</tspan><tspan dy="4.3"> (n=5)</tspan></text>
<text x="353.2" y="480.5" font-size="10.5" stroke="#000" stroke-width="0.2" textLength="100.8" lengthAdjust="spacingAndGlyphs">BC-CML CD34<tspan font-size="7.5" dy="-4.3" font-weight="bold">+</tspan><tspan dy="4.3"> (n=3)</tspan></text>
<text x="353.2" y="494.3" font-size="10.5" stroke="#000" stroke-width="0.2" textLength="132.2" lengthAdjust="spacingAndGlyphs">BC-CML CD34<tspan font-size="7.5" dy="-4.3" font-weight="bold">+</tspan><tspan dy="4.3">/CD38</tspan><tspan font-size="7.5" dy="-4.3" font-weight="bold">-</tspan><tspan dy="4.3"> (n=3)</tspan></text>
</svg>
</body></html>
